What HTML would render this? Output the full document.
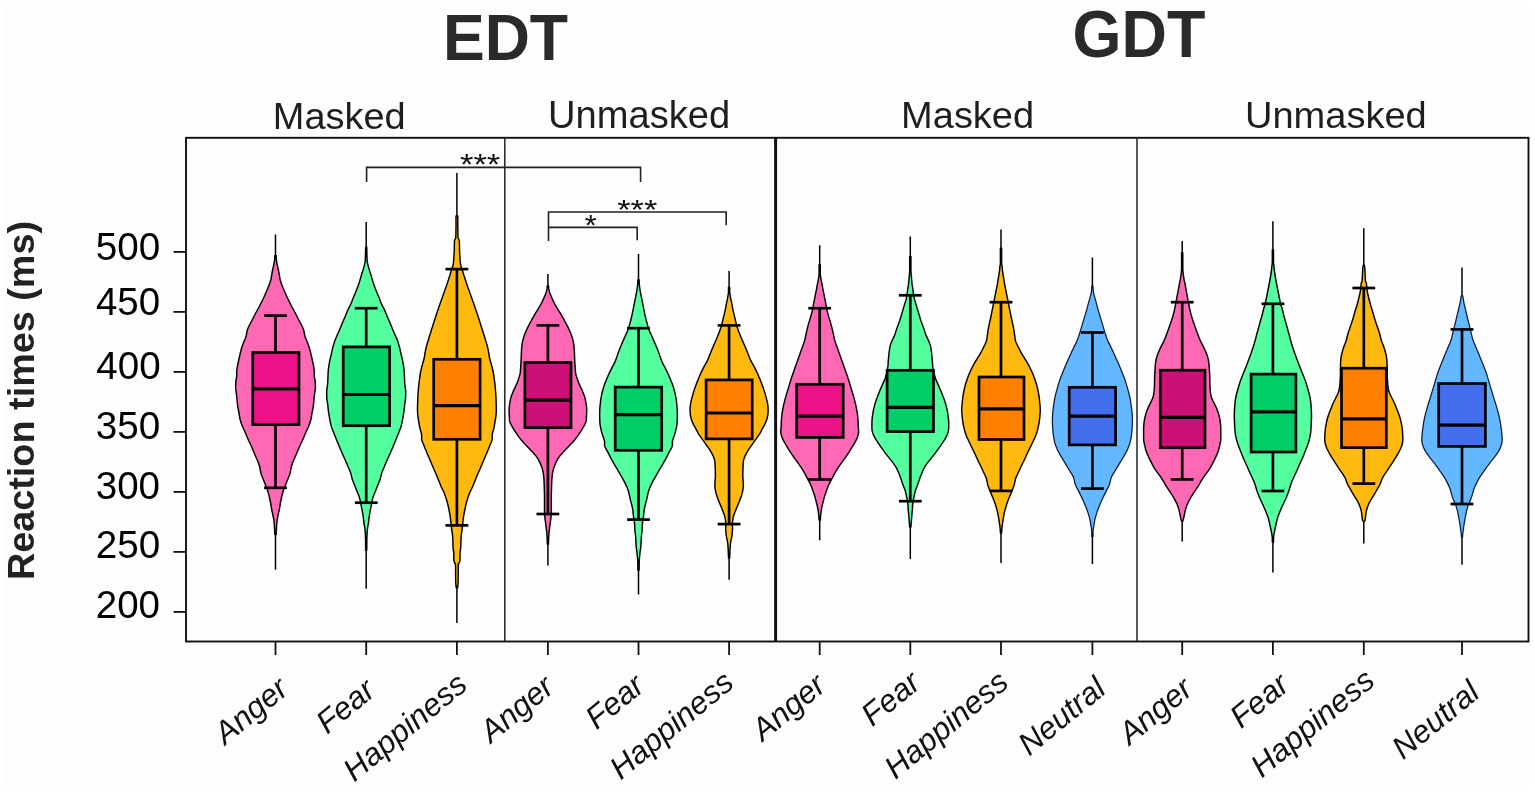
<!DOCTYPE html>
<html><head><meta charset="utf-8"><title>Reaction times violin plot</title>
<style>html,body{margin:0;padding:0;background:#ffffff;}svg{display:block;}</style>
</head><body>
<svg width="1535" height="792" viewBox="0 0 1535 792">
<rect width="1535" height="792" fill="#ffffff"/>
<rect x="5" y="5" width="1525" height="782" fill="#fdfdfd"/>
<text transform="translate(442.89,59.9) scale(1.0017,1.0465)" font-family="Liberation Sans, Arial, sans-serif" font-weight="bold" font-size="62.5" fill="#2a2a2a">EDT</text>
<text transform="translate(1072.58,56.8) scale(1.0063,1.0651)" font-family="Liberation Sans, Arial, sans-serif" font-weight="bold" font-size="62.5" fill="#2a2a2a">GDT</text>
<text transform="translate(272.82,128.5) scale(1.0258,1.0074)" font-family="Liberation Sans, Arial, sans-serif" font-weight="normal" font-size="37" fill="#1e1e1e">Masked</text>
<text transform="translate(548.01,128.2) scale(1.0298,1.0407)" font-family="Liberation Sans, Arial, sans-serif" font-weight="normal" font-size="37" fill="#1e1e1e">Unmasked</text>
<text transform="translate(901.12,127.7) scale(1.0266,1.0074)" font-family="Liberation Sans, Arial, sans-serif" font-weight="normal" font-size="37" fill="#1e1e1e">Masked</text>
<text transform="translate(1244.92,127.9) scale(1.0281,1.0185)" font-family="Liberation Sans, Arial, sans-serif" font-weight="normal" font-size="37" fill="#1e1e1e">Unmasked</text>
<text transform="translate(95.71,260.1) scale(1.0448,1.05)" font-family="Liberation Sans, Arial, sans-serif" font-weight="normal" font-size="37" fill="#000">500</text>
<text transform="translate(95.96,314.5) scale(1.0407,1.0577)" font-family="Liberation Sans, Arial, sans-serif" font-weight="normal" font-size="37" fill="#000">450</text>
<text transform="translate(96.26,379.4) scale(1.0424,1.0462)" font-family="Liberation Sans, Arial, sans-serif" font-weight="normal" font-size="37" fill="#000">400</text>
<text transform="translate(95.71,438.5) scale(1.0448,1.0462)" font-family="Liberation Sans, Arial, sans-serif" font-weight="normal" font-size="37" fill="#000">350</text>
<text transform="translate(95.72,498.8) scale(1.0414,1.0462)" font-family="Liberation Sans, Arial, sans-serif" font-weight="normal" font-size="37" fill="#000">300</text>
<text transform="translate(95.71,557.9) scale(1.0448,1.0462)" font-family="Liberation Sans, Arial, sans-serif" font-weight="normal" font-size="37" fill="#000">250</text>
<text transform="translate(95.72,618.4) scale(1.0414,1.0346)" font-family="Liberation Sans, Arial, sans-serif" font-weight="normal" font-size="37" fill="#000">200</text>
<text transform="translate(460.0,173.7) scale(1.0,0.8417)" font-family="Liberation Sans, Arial, sans-serif" font-weight="normal" font-size="34.5" fill="#111">***</text>
<text transform="translate(617.21,219.2) scale(0.9947,0.8083)" font-family="Liberation Sans, Arial, sans-serif" font-weight="normal" font-size="34.5" fill="#111">***</text>
<text transform="translate(584.71,235.4) scale(0.8917,0.8333)" font-family="Liberation Sans, Arial, sans-serif" font-weight="normal" font-size="34.5" fill="#111">*</text>
<text transform="translate(34.2,400.5) rotate(-90)" font-family="Liberation Sans, Arial, sans-serif" font-weight="bold" font-size="37.8" fill="#222" text-anchor="middle">Reaction times (ms)</text>
<line x1="173.5" y1="251.9" x2="186" y2="251.9" stroke="#111" stroke-width="1.8"/>
<line x1="173.5" y1="311.9" x2="186" y2="311.9" stroke="#111" stroke-width="1.8"/>
<line x1="173.5" y1="371.9" x2="186" y2="371.9" stroke="#111" stroke-width="1.8"/>
<line x1="173.5" y1="431.9" x2="186" y2="431.9" stroke="#111" stroke-width="1.8"/>
<line x1="173.5" y1="491.9" x2="186" y2="491.9" stroke="#111" stroke-width="1.8"/>
<line x1="173.5" y1="551.9" x2="186" y2="551.9" stroke="#111" stroke-width="1.8"/>
<line x1="173.5" y1="611.9" x2="186" y2="611.9" stroke="#111" stroke-width="1.8"/>
<line x1="275.5" y1="641.5" x2="275.5" y2="655" stroke="#111" stroke-width="1.8"/>
<line x1="366.2" y1="641.5" x2="366.2" y2="655" stroke="#111" stroke-width="1.8"/>
<line x1="456.9" y1="641.5" x2="456.9" y2="655" stroke="#111" stroke-width="1.8"/>
<line x1="547.9" y1="641.5" x2="547.9" y2="655" stroke="#111" stroke-width="1.8"/>
<line x1="638.5" y1="641.5" x2="638.5" y2="655" stroke="#111" stroke-width="1.8"/>
<line x1="729.1" y1="641.5" x2="729.1" y2="655" stroke="#111" stroke-width="1.8"/>
<line x1="819.7" y1="641.5" x2="819.7" y2="655" stroke="#111" stroke-width="1.8"/>
<line x1="910.3" y1="641.5" x2="910.3" y2="655" stroke="#111" stroke-width="1.8"/>
<line x1="1001" y1="641.5" x2="1001" y2="655" stroke="#111" stroke-width="1.8"/>
<line x1="1092.4" y1="641.5" x2="1092.4" y2="655" stroke="#111" stroke-width="1.8"/>
<line x1="1182.2" y1="641.5" x2="1182.2" y2="655" stroke="#111" stroke-width="1.8"/>
<line x1="1272.9" y1="641.5" x2="1272.9" y2="655" stroke="#111" stroke-width="1.8"/>
<line x1="1363.8" y1="641.5" x2="1363.8" y2="655" stroke="#111" stroke-width="1.8"/>
<line x1="1462" y1="641.5" x2="1462" y2="655" stroke="#111" stroke-width="1.8"/>
<line x1="275.5" y1="234.5" x2="275.5" y2="569.8" stroke="#000" stroke-width="1.5"/>
<path d="M276.2,255.5 L276.2,256.5 L276.2,257.5 L276.3,258.5 L276.4,259.5 L276.4,260.5 L276.6,261.5 L276.8,262.5 L277.0,263.5 L277.2,264.5 L277.4,265.5 L277.6,266.5 L277.8,267.5 L278.1,268.5 L278.3,269.5 L278.5,270.5 L278.7,271.5 L278.9,272.5 L279.0,273.5 L279.2,274.5 L279.4,275.5 L279.5,276.5 L279.7,277.5 L279.9,278.5 L280.1,279.5 L280.4,280.5 L280.7,281.5 L281.0,282.5 L281.3,283.5 L281.7,284.5 L282.1,285.5 L282.5,286.5 L282.9,287.5 L283.3,288.5 L283.7,289.5 L284.2,290.5 L284.6,291.5 L285.1,292.5 L285.5,293.5 L285.9,294.5 L286.4,295.5 L286.8,296.5 L287.3,297.5 L287.7,298.5 L288.2,299.5 L288.7,300.5 L289.2,301.5 L289.7,302.5 L290.2,303.5 L290.7,304.5 L291.2,305.5 L291.7,306.5 L292.3,307.5 L292.8,308.5 L293.4,309.5 L293.9,310.5 L294.4,311.5 L295.0,312.5 L295.5,313.5 L296.0,314.5 L296.6,315.5 L297.1,316.5 L297.6,317.5 L298.1,318.5 L298.6,319.5 L299.1,320.5 L299.6,321.5 L300.2,322.5 L300.7,323.5 L301.2,324.5 L301.7,325.5 L302.2,326.5 L302.7,327.5 L303.1,328.5 L303.5,329.5 L303.8,330.5 L304.0,331.5 L304.2,332.5 L304.4,333.5 L304.6,334.5 L304.8,335.5 L305.1,336.5 L305.4,337.5 L305.8,338.5 L306.2,339.5 L306.6,340.5 L307.0,341.5 L307.4,342.5 L307.8,343.5 L308.2,344.5 L308.5,345.5 L308.9,346.5 L309.2,347.5 L309.5,348.5 L309.8,349.5 L310.1,350.5 L310.3,351.5 L310.6,352.5 L310.8,353.5 L311.0,354.5 L311.3,355.5 L311.5,356.5 L311.7,357.5 L312.0,358.5 L312.2,359.5 L312.4,360.5 L312.6,361.5 L312.8,362.5 L313.1,363.5 L313.3,364.5 L313.4,365.5 L313.6,366.5 L313.8,367.5 L314.0,368.5 L314.1,369.5 L314.2,370.5 L314.3,371.5 L314.3,372.5 L314.3,373.5 L314.2,374.5 L314.3,375.5 L314.3,376.5 L314.5,377.5 L314.7,378.5 L314.9,379.5 L315.0,380.5 L315.2,381.5 L315.2,382.5 L315.3,383.5 L315.3,384.5 L315.4,385.5 L315.4,386.5 L315.4,387.5 L315.3,388.5 L315.2,389.5 L315.1,390.5 L315.0,391.5 L314.8,392.5 L314.7,393.5 L314.5,394.5 L314.4,395.5 L314.3,396.5 L314.2,397.5 L314.1,398.5 L314.0,399.5 L313.9,400.5 L313.8,401.5 L313.7,402.5 L313.6,403.5 L313.5,404.5 L313.4,405.5 L313.3,406.5 L313.1,407.5 L312.9,408.5 L312.7,409.5 L312.5,410.5 L312.3,411.5 L312.1,412.5 L311.9,413.5 L311.8,414.5 L311.6,415.5 L311.5,416.5 L311.3,417.5 L311.1,418.5 L310.9,419.5 L310.6,420.5 L310.3,421.5 L310.0,422.5 L309.7,423.5 L309.3,424.5 L308.9,425.5 L308.5,426.5 L308.1,427.5 L307.6,428.5 L307.2,429.5 L306.7,430.5 L306.2,431.5 L305.8,432.5 L305.3,433.5 L304.9,434.5 L304.5,435.5 L304.1,436.5 L303.7,437.5 L303.3,438.5 L302.8,439.5 L302.4,440.5 L301.9,441.5 L301.4,442.5 L300.9,443.5 L300.5,444.5 L300.0,445.5 L299.6,446.5 L299.1,447.5 L298.7,448.5 L298.3,449.5 L297.9,450.5 L297.4,451.5 L297.0,452.5 L296.6,453.5 L296.2,454.5 L295.7,455.5 L295.3,456.5 L294.9,457.5 L294.4,458.5 L294.0,459.5 L293.5,460.5 L293.1,461.5 L292.7,462.5 L292.3,463.5 L292.0,464.5 L291.7,465.5 L291.4,466.5 L291.2,467.5 L291.0,468.5 L290.8,469.5 L290.6,470.5 L290.4,471.5 L290.2,472.5 L290.0,473.5 L289.7,474.5 L289.3,475.5 L288.9,476.5 L288.5,477.5 L288.1,478.5 L287.7,479.5 L287.3,480.5 L286.9,481.5 L286.5,482.5 L286.1,483.5 L285.7,484.5 L285.3,485.5 L284.9,486.5 L284.5,487.5 L284.1,488.5 L283.8,489.5 L283.4,490.5 L283.1,491.5 L282.8,492.5 L282.5,493.5 L282.2,494.5 L282.0,495.5 L281.7,496.5 L281.5,497.5 L281.3,498.5 L281.1,499.5 L280.9,500.5 L280.7,501.5 L280.5,502.5 L280.3,503.5 L280.2,504.5 L280.0,505.5 L279.8,506.5 L279.6,507.5 L279.5,508.5 L279.3,509.5 L279.1,510.5 L278.9,511.5 L278.6,512.5 L278.4,513.5 L278.2,514.5 L278.0,515.5 L277.8,516.5 L277.6,517.5 L277.4,518.5 L277.2,519.5 L277.1,520.5 L277.0,521.5 L276.9,522.5 L276.8,523.5 L276.7,524.5 L276.6,525.5 L276.6,526.5 L276.5,527.5 L276.5,528.5 L276.4,529.5 L276.4,530.5 L276.3,531.5 L276.3,532.5 L276.2,533.5 L276.2,534.5 L274.8,534.5 L274.8,533.5 L274.7,532.5 L274.7,531.5 L274.6,530.5 L274.6,529.5 L274.5,528.5 L274.5,527.5 L274.4,526.5 L274.4,525.5 L274.3,524.5 L274.2,523.5 L274.1,522.5 L274.0,521.5 L273.9,520.5 L273.8,519.5 L273.6,518.5 L273.4,517.5 L273.2,516.5 L273.0,515.5 L272.8,514.5 L272.6,513.5 L272.4,512.5 L272.1,511.5 L271.9,510.5 L271.7,509.5 L271.5,508.5 L271.4,507.5 L271.2,506.5 L271.0,505.5 L270.8,504.5 L270.7,503.5 L270.5,502.5 L270.3,501.5 L270.1,500.5 L269.9,499.5 L269.7,498.5 L269.5,497.5 L269.3,496.5 L269.0,495.5 L268.8,494.5 L268.5,493.5 L268.2,492.5 L267.9,491.5 L267.6,490.5 L267.2,489.5 L266.9,488.5 L266.5,487.5 L266.1,486.5 L265.7,485.5 L265.3,484.5 L264.9,483.5 L264.5,482.5 L264.1,481.5 L263.7,480.5 L263.3,479.5 L262.9,478.5 L262.5,477.5 L262.1,476.5 L261.7,475.5 L261.3,474.5 L261.0,473.5 L260.8,472.5 L260.6,471.5 L260.4,470.5 L260.2,469.5 L260.0,468.5 L259.8,467.5 L259.6,466.5 L259.3,465.5 L259.0,464.5 L258.7,463.5 L258.3,462.5 L257.9,461.5 L257.5,460.5 L257.0,459.5 L256.6,458.5 L256.1,457.5 L255.7,456.5 L255.3,455.5 L254.8,454.5 L254.4,453.5 L254.0,452.5 L253.6,451.5 L253.1,450.5 L252.7,449.5 L252.3,448.5 L251.9,447.5 L251.4,446.5 L251.0,445.5 L250.5,444.5 L250.1,443.5 L249.6,442.5 L249.1,441.5 L248.6,440.5 L248.2,439.5 L247.7,438.5 L247.3,437.5 L246.9,436.5 L246.5,435.5 L246.1,434.5 L245.7,433.5 L245.2,432.5 L244.8,431.5 L244.3,430.5 L243.8,429.5 L243.4,428.5 L242.9,427.5 L242.5,426.5 L242.1,425.5 L241.7,424.5 L241.3,423.5 L241.0,422.5 L240.7,421.5 L240.4,420.5 L240.1,419.5 L239.9,418.5 L239.7,417.5 L239.5,416.5 L239.4,415.5 L239.2,414.5 L239.1,413.5 L238.9,412.5 L238.7,411.5 L238.5,410.5 L238.3,409.5 L238.1,408.5 L237.9,407.5 L237.7,406.5 L237.6,405.5 L237.5,404.5 L237.4,403.5 L237.3,402.5 L237.2,401.5 L237.1,400.5 L237.0,399.5 L236.9,398.5 L236.8,397.5 L236.7,396.5 L236.6,395.5 L236.5,394.5 L236.3,393.5 L236.2,392.5 L236.0,391.5 L235.9,390.5 L235.8,389.5 L235.7,388.5 L235.6,387.5 L235.6,386.5 L235.6,385.5 L235.7,384.5 L235.7,383.5 L235.8,382.5 L235.8,381.5 L236.0,380.5 L236.1,379.5 L236.3,378.5 L236.5,377.5 L236.7,376.5 L236.7,375.5 L236.8,374.5 L236.7,373.5 L236.7,372.5 L236.7,371.5 L236.8,370.5 L236.9,369.5 L237.0,368.5 L237.2,367.5 L237.4,366.5 L237.6,365.5 L237.7,364.5 L237.9,363.5 L238.2,362.5 L238.4,361.5 L238.6,360.5 L238.8,359.5 L239.0,358.5 L239.3,357.5 L239.5,356.5 L239.7,355.5 L240.0,354.5 L240.2,353.5 L240.4,352.5 L240.7,351.5 L240.9,350.5 L241.2,349.5 L241.5,348.5 L241.8,347.5 L242.1,346.5 L242.5,345.5 L242.8,344.5 L243.2,343.5 L243.6,342.5 L244.0,341.5 L244.4,340.5 L244.8,339.5 L245.2,338.5 L245.6,337.5 L245.9,336.5 L246.2,335.5 L246.4,334.5 L246.6,333.5 L246.8,332.5 L247.0,331.5 L247.2,330.5 L247.5,329.5 L247.9,328.5 L248.3,327.5 L248.8,326.5 L249.3,325.5 L249.8,324.5 L250.3,323.5 L250.8,322.5 L251.4,321.5 L251.9,320.5 L252.4,319.5 L252.9,318.5 L253.4,317.5 L253.9,316.5 L254.4,315.5 L255.0,314.5 L255.5,313.5 L256.0,312.5 L256.6,311.5 L257.1,310.5 L257.6,309.5 L258.2,308.5 L258.7,307.5 L259.3,306.5 L259.8,305.5 L260.3,304.5 L260.8,303.5 L261.3,302.5 L261.8,301.5 L262.3,300.5 L262.8,299.5 L263.3,298.5 L263.7,297.5 L264.2,296.5 L264.6,295.5 L265.1,294.5 L265.5,293.5 L265.9,292.5 L266.4,291.5 L266.8,290.5 L267.3,289.5 L267.7,288.5 L268.1,287.5 L268.5,286.5 L268.9,285.5 L269.3,284.5 L269.7,283.5 L270.0,282.5 L270.3,281.5 L270.6,280.5 L270.9,279.5 L271.1,278.5 L271.3,277.5 L271.5,276.5 L271.6,275.5 L271.8,274.5 L272.0,273.5 L272.1,272.5 L272.3,271.5 L272.5,270.5 L272.7,269.5 L272.9,268.5 L273.2,267.5 L273.4,266.5 L273.6,265.5 L273.8,264.5 L274.0,263.5 L274.2,262.5 L274.4,261.5 L274.6,260.5 L274.6,259.5 L274.7,258.5 L274.8,257.5 L274.8,256.5 L274.8,255.5Z" fill="#ff69b4" stroke="#000" stroke-width="1.45" stroke-linejoin="round"/>
<line x1="275.5" y1="315.6" x2="275.5" y2="352.5" stroke="#000" stroke-width="2.7"/>
<line x1="275.5" y1="424.6" x2="275.5" y2="487.8" stroke="#000" stroke-width="2.7"/>
<line x1="264.1" y1="315.6" x2="286.9" y2="315.6" stroke="#000" stroke-width="2.7"/>
<line x1="264.1" y1="487.8" x2="286.9" y2="487.8" stroke="#000" stroke-width="2.7"/>
<rect x="252.8" y="352.5" width="46.2" height="72.1" fill="#ee1289" stroke="#000" stroke-width="2.7"/>
<line x1="252.8" y1="388.8" x2="299.0" y2="388.8" stroke="#000" stroke-width="3.2"/>
<line x1="366.2" y1="221.9" x2="366.2" y2="588.8" stroke="#000" stroke-width="1.5"/>
<path d="M366.8,247.1 L366.8,248.1 L366.8,249.1 L366.8,250.1 L366.8,251.1 L366.8,252.1 L366.9,253.1 L366.9,254.1 L366.9,255.1 L366.9,256.1 L367.0,257.1 L367.0,258.1 L367.1,259.1 L367.1,260.1 L367.2,261.1 L367.3,262.1 L367.5,263.1 L367.8,264.1 L368.0,265.1 L368.3,266.1 L368.5,267.1 L368.8,268.1 L369.1,269.1 L369.4,270.1 L369.7,271.1 L370.0,272.1 L370.3,273.1 L370.7,274.1 L371.0,275.1 L371.3,276.1 L371.6,277.1 L371.9,278.1 L372.2,279.1 L372.4,280.1 L372.7,281.1 L373.0,282.1 L373.3,283.1 L373.6,284.1 L374.0,285.1 L374.3,286.1 L374.7,287.1 L375.1,288.1 L375.5,289.1 L375.9,290.1 L376.3,291.1 L376.7,292.1 L377.1,293.1 L377.5,294.1 L377.9,295.1 L378.4,296.1 L378.8,297.1 L379.2,298.1 L379.6,299.1 L380.0,300.1 L380.3,301.1 L380.7,302.1 L381.2,303.1 L381.6,304.1 L382.1,305.1 L382.6,306.1 L383.1,307.1 L383.6,308.1 L384.1,309.1 L384.6,310.1 L385.0,311.1 L385.4,312.1 L385.8,313.1 L386.2,314.1 L386.6,315.1 L387.0,316.1 L387.5,317.1 L387.9,318.1 L388.3,319.1 L388.8,320.1 L389.2,321.1 L389.7,322.1 L390.1,323.1 L390.5,324.1 L390.9,325.1 L391.3,326.1 L391.7,327.1 L392.1,328.1 L392.5,329.1 L392.9,330.1 L393.4,331.1 L393.8,332.1 L394.3,333.1 L394.7,334.1 L395.2,335.1 L395.6,336.1 L396.0,337.1 L396.5,338.1 L396.9,339.1 L397.3,340.1 L397.6,341.1 L398.0,342.1 L398.3,343.1 L398.6,344.1 L398.9,345.1 L399.2,346.1 L399.5,347.1 L399.7,348.1 L400.0,349.1 L400.2,350.1 L400.4,351.1 L400.6,352.1 L400.9,353.1 L401.1,354.1 L401.3,355.1 L401.6,356.1 L401.8,357.1 L402.1,358.1 L402.3,359.1 L402.5,360.1 L402.7,361.1 L402.9,362.1 L403.1,363.1 L403.2,364.1 L403.4,365.1 L403.6,366.1 L403.7,367.1 L403.8,368.1 L404.0,369.1 L404.1,370.1 L404.2,371.1 L404.2,372.1 L404.3,373.1 L404.4,374.1 L404.4,375.1 L404.4,376.1 L404.5,377.1 L404.5,378.1 L404.5,379.1 L404.6,380.1 L404.6,381.1 L404.7,382.1 L404.7,383.1 L404.8,384.1 L404.9,385.1 L405.1,386.1 L405.2,387.1 L405.4,388.1 L405.5,389.1 L405.6,390.1 L405.7,391.1 L405.7,392.1 L405.7,393.1 L405.7,394.1 L405.7,395.1 L405.7,396.1 L405.6,397.1 L405.6,398.1 L405.5,399.1 L405.3,400.1 L405.2,401.1 L405.0,402.1 L404.9,403.1 L404.7,404.1 L404.6,405.1 L404.5,406.1 L404.4,407.1 L404.3,408.1 L404.2,409.1 L404.1,410.1 L404.0,411.1 L403.8,412.1 L403.7,413.1 L403.5,414.1 L403.3,415.1 L403.2,416.1 L403.0,417.1 L402.8,418.1 L402.7,419.1 L402.5,420.1 L402.3,421.1 L402.1,422.1 L401.9,423.1 L401.7,424.1 L401.4,425.1 L401.2,426.1 L400.9,427.1 L400.6,428.1 L400.2,429.1 L399.8,430.1 L399.4,431.1 L399.0,432.1 L398.6,433.1 L398.2,434.1 L397.8,435.1 L397.4,436.1 L397.0,437.1 L396.6,438.1 L396.2,439.1 L395.8,440.1 L395.4,441.1 L394.9,442.1 L394.5,443.1 L394.1,444.1 L393.7,445.1 L393.3,446.1 L392.9,447.1 L392.4,448.1 L392.0,449.1 L391.6,450.1 L391.1,451.1 L390.7,452.1 L390.3,453.1 L389.8,454.1 L389.4,455.1 L388.9,456.1 L388.5,457.1 L388.0,458.1 L387.6,459.1 L387.1,460.1 L386.7,461.1 L386.3,462.1 L385.8,463.1 L385.4,464.1 L385.0,465.1 L384.6,466.1 L384.2,467.1 L383.7,468.1 L383.3,469.1 L382.9,470.1 L382.5,471.1 L382.1,472.1 L381.7,473.1 L381.4,474.1 L381.1,475.1 L380.9,476.1 L380.7,477.1 L380.4,478.1 L380.2,479.1 L379.9,480.1 L379.5,481.1 L379.1,482.1 L378.7,483.1 L378.3,484.1 L377.9,485.1 L377.5,486.1 L377.1,487.1 L376.7,488.1 L376.3,489.1 L375.9,490.1 L375.5,491.1 L375.1,492.1 L374.7,493.1 L374.2,494.1 L373.8,495.1 L373.5,496.1 L373.1,497.1 L372.8,498.1 L372.5,499.1 L372.3,500.1 L372.1,501.1 L371.9,502.1 L371.7,503.1 L371.5,504.1 L371.3,505.1 L371.1,506.1 L370.9,507.1 L370.7,508.1 L370.5,509.1 L370.3,510.1 L370.1,511.1 L369.9,512.1 L369.8,513.1 L369.6,514.1 L369.4,515.1 L369.3,516.1 L369.2,517.1 L369.0,518.1 L368.9,519.1 L368.8,520.1 L368.7,521.1 L368.6,522.1 L368.5,523.1 L368.3,524.1 L368.1,525.1 L367.9,526.1 L367.7,527.1 L367.6,528.1 L367.4,529.1 L367.3,530.1 L367.3,531.1 L367.2,532.1 L367.1,533.1 L367.1,534.1 L367.0,535.1 L367.0,536.1 L366.9,537.1 L366.9,538.1 L366.8,539.1 L366.8,540.1 L366.8,541.1 L366.8,542.1 L366.8,543.1 L366.8,544.1 L366.8,545.1 L366.8,546.1 L366.8,547.1 L366.8,548.1 L366.8,549.1 L366.8,550.1 L366.8,550.3 L365.6,550.3 L365.6,550.1 L365.6,549.1 L365.6,548.1 L365.6,547.1 L365.6,546.1 L365.6,545.1 L365.6,544.1 L365.6,543.1 L365.6,542.1 L365.6,541.1 L365.6,540.1 L365.6,539.1 L365.5,538.1 L365.5,537.1 L365.4,536.1 L365.4,535.1 L365.3,534.1 L365.3,533.1 L365.2,532.1 L365.1,531.1 L365.1,530.1 L365.0,529.1 L364.8,528.1 L364.7,527.1 L364.5,526.1 L364.3,525.1 L364.1,524.1 L363.9,523.1 L363.8,522.1 L363.7,521.1 L363.6,520.1 L363.5,519.1 L363.4,518.1 L363.2,517.1 L363.1,516.1 L363.0,515.1 L362.8,514.1 L362.6,513.1 L362.5,512.1 L362.3,511.1 L362.1,510.1 L361.9,509.1 L361.7,508.1 L361.5,507.1 L361.3,506.1 L361.1,505.1 L360.9,504.1 L360.7,503.1 L360.5,502.1 L360.3,501.1 L360.1,500.1 L359.9,499.1 L359.6,498.1 L359.3,497.1 L358.9,496.1 L358.6,495.1 L358.2,494.1 L357.7,493.1 L357.3,492.1 L356.9,491.1 L356.5,490.1 L356.1,489.1 L355.7,488.1 L355.3,487.1 L354.9,486.1 L354.5,485.1 L354.1,484.1 L353.7,483.1 L353.3,482.1 L352.9,481.1 L352.5,480.1 L352.2,479.1 L352.0,478.1 L351.7,477.1 L351.5,476.1 L351.3,475.1 L351.0,474.1 L350.7,473.1 L350.3,472.1 L349.9,471.1 L349.5,470.1 L349.1,469.1 L348.7,468.1 L348.2,467.1 L347.8,466.1 L347.4,465.1 L347.0,464.1 L346.6,463.1 L346.1,462.1 L345.7,461.1 L345.3,460.1 L344.8,459.1 L344.4,458.1 L343.9,457.1 L343.5,456.1 L343.0,455.1 L342.6,454.1 L342.1,453.1 L341.7,452.1 L341.3,451.1 L340.8,450.1 L340.4,449.1 L340.0,448.1 L339.5,447.1 L339.1,446.1 L338.7,445.1 L338.3,444.1 L337.9,443.1 L337.5,442.1 L337.0,441.1 L336.6,440.1 L336.2,439.1 L335.8,438.1 L335.4,437.1 L335.0,436.1 L334.6,435.1 L334.2,434.1 L333.8,433.1 L333.4,432.1 L333.0,431.1 L332.6,430.1 L332.2,429.1 L331.8,428.1 L331.5,427.1 L331.2,426.1 L331.0,425.1 L330.7,424.1 L330.5,423.1 L330.3,422.1 L330.1,421.1 L329.9,420.1 L329.7,419.1 L329.6,418.1 L329.4,417.1 L329.2,416.1 L329.1,415.1 L328.9,414.1 L328.7,413.1 L328.6,412.1 L328.4,411.1 L328.3,410.1 L328.2,409.1 L328.1,408.1 L328.0,407.1 L327.9,406.1 L327.8,405.1 L327.7,404.1 L327.5,403.1 L327.4,402.1 L327.2,401.1 L327.1,400.1 L326.9,399.1 L326.8,398.1 L326.8,397.1 L326.7,396.1 L326.7,395.1 L326.7,394.1 L326.7,393.1 L326.7,392.1 L326.7,391.1 L326.8,390.1 L326.9,389.1 L327.0,388.1 L327.2,387.1 L327.3,386.1 L327.5,385.1 L327.6,384.1 L327.7,383.1 L327.7,382.1 L327.8,381.1 L327.8,380.1 L327.9,379.1 L327.9,378.1 L327.9,377.1 L328.0,376.1 L328.0,375.1 L328.0,374.1 L328.1,373.1 L328.2,372.1 L328.2,371.1 L328.3,370.1 L328.4,369.1 L328.6,368.1 L328.7,367.1 L328.8,366.1 L329.0,365.1 L329.2,364.1 L329.3,363.1 L329.5,362.1 L329.7,361.1 L329.9,360.1 L330.1,359.1 L330.3,358.1 L330.6,357.1 L330.8,356.1 L331.1,355.1 L331.3,354.1 L331.5,353.1 L331.8,352.1 L332.0,351.1 L332.2,350.1 L332.4,349.1 L332.7,348.1 L332.9,347.1 L333.2,346.1 L333.5,345.1 L333.8,344.1 L334.1,343.1 L334.4,342.1 L334.8,341.1 L335.1,340.1 L335.5,339.1 L335.9,338.1 L336.4,337.1 L336.8,336.1 L337.2,335.1 L337.7,334.1 L338.1,333.1 L338.6,332.1 L339.0,331.1 L339.5,330.1 L339.9,329.1 L340.3,328.1 L340.7,327.1 L341.1,326.1 L341.5,325.1 L341.9,324.1 L342.3,323.1 L342.7,322.1 L343.2,321.1 L343.6,320.1 L344.1,319.1 L344.5,318.1 L344.9,317.1 L345.4,316.1 L345.8,315.1 L346.2,314.1 L346.6,313.1 L347.0,312.1 L347.4,311.1 L347.8,310.1 L348.3,309.1 L348.8,308.1 L349.3,307.1 L349.8,306.1 L350.3,305.1 L350.8,304.1 L351.2,303.1 L351.7,302.1 L352.1,301.1 L352.4,300.1 L352.8,299.1 L353.2,298.1 L353.6,297.1 L354.0,296.1 L354.5,295.1 L354.9,294.1 L355.3,293.1 L355.7,292.1 L356.1,291.1 L356.5,290.1 L356.9,289.1 L357.3,288.1 L357.7,287.1 L358.1,286.1 L358.4,285.1 L358.8,284.1 L359.1,283.1 L359.4,282.1 L359.7,281.1 L360.0,280.1 L360.2,279.1 L360.5,278.1 L360.8,277.1 L361.1,276.1 L361.4,275.1 L361.7,274.1 L362.1,273.1 L362.4,272.1 L362.7,271.1 L363.0,270.1 L363.3,269.1 L363.6,268.1 L363.9,267.1 L364.1,266.1 L364.4,265.1 L364.6,264.1 L364.9,263.1 L365.1,262.1 L365.2,261.1 L365.3,260.1 L365.3,259.1 L365.4,258.1 L365.4,257.1 L365.5,256.1 L365.5,255.1 L365.5,254.1 L365.5,253.1 L365.6,252.1 L365.6,251.1 L365.6,250.1 L365.6,249.1 L365.6,248.1 L365.6,247.1Z" fill="#54ff9f" stroke="#000" stroke-width="1.45" stroke-linejoin="round"/>
<line x1="366.2" y1="308.2" x2="366.2" y2="346.9" stroke="#000" stroke-width="2.7"/>
<line x1="366.2" y1="425.7" x2="366.2" y2="502.7" stroke="#000" stroke-width="2.7"/>
<line x1="354.8" y1="308.2" x2="377.59999999999997" y2="308.2" stroke="#000" stroke-width="2.7"/>
<line x1="354.8" y1="502.7" x2="377.59999999999997" y2="502.7" stroke="#000" stroke-width="2.7"/>
<rect x="343.2" y="346.9" width="46.4" height="78.8" fill="#00cd66" stroke="#000" stroke-width="2.7"/>
<line x1="343.2" y1="394.5" x2="389.6" y2="394.5" stroke="#000" stroke-width="3.2"/>
<line x1="456.9" y1="173.1" x2="456.9" y2="623.0" stroke="#000" stroke-width="1.5"/>
<path d="M457.8,216.0 L457.8,217.0 L457.8,218.0 L457.8,219.0 L457.8,220.0 L457.8,221.0 L457.8,222.0 L457.8,223.0 L457.8,224.0 L457.8,225.0 L457.8,226.0 L457.8,227.0 L457.8,228.0 L457.8,229.0 L457.9,230.0 L457.9,231.0 L457.9,232.0 L457.9,233.0 L457.9,234.0 L457.9,235.0 L458.0,236.0 L458.0,237.0 L458.0,238.0 L458.6,239.0 L459.2,240.0 L459.3,241.0 L459.3,242.0 L459.4,243.0 L459.4,244.0 L459.5,245.0 L459.5,246.0 L459.5,247.0 L459.5,248.0 L459.5,249.0 L459.5,250.0 L459.6,251.0 L459.6,252.0 L459.6,253.0 L459.7,254.0 L459.8,255.0 L459.9,256.0 L459.9,257.0 L460.0,258.0 L460.0,259.0 L460.1,260.0 L460.2,261.0 L460.3,262.0 L460.4,263.0 L460.5,264.0 L460.8,265.0 L461.0,266.0 L461.3,267.0 L461.6,268.0 L461.9,269.0 L462.3,270.0 L462.6,271.0 L462.9,272.0 L463.2,273.0 L463.5,274.0 L463.8,275.0 L464.1,276.0 L464.5,277.0 L464.8,278.0 L465.1,279.0 L465.4,280.0 L465.8,281.0 L466.1,282.0 L466.4,283.0 L466.8,284.0 L467.1,285.0 L467.4,286.0 L467.8,287.0 L468.1,288.0 L468.5,289.0 L468.9,290.0 L469.2,291.0 L469.6,292.0 L469.9,293.0 L470.3,294.0 L470.7,295.0 L471.0,296.0 L471.4,297.0 L471.7,298.0 L472.1,299.0 L472.4,300.0 L472.8,301.0 L473.1,302.0 L473.5,303.0 L473.9,304.0 L474.2,305.0 L474.6,306.0 L474.9,307.0 L475.2,308.0 L475.6,309.0 L475.9,310.0 L476.3,311.0 L476.6,312.0 L476.9,313.0 L477.3,314.0 L477.6,315.0 L477.9,316.0 L478.2,317.0 L478.6,318.0 L478.9,319.0 L479.2,320.0 L479.5,321.0 L479.8,322.0 L480.2,323.0 L480.5,324.0 L480.8,325.0 L481.1,326.0 L481.4,327.0 L481.8,328.0 L482.1,329.0 L482.4,330.0 L482.7,331.0 L483.0,332.0 L483.3,333.0 L483.6,334.0 L484.0,335.0 L484.3,336.0 L484.6,337.0 L484.9,338.0 L485.2,339.0 L485.5,340.0 L485.8,341.0 L486.1,342.0 L486.4,343.0 L486.7,344.0 L487.0,345.0 L487.3,346.0 L487.5,347.0 L487.8,348.0 L488.0,349.0 L488.2,350.0 L488.4,351.0 L488.6,352.0 L488.7,353.0 L488.9,354.0 L489.1,355.0 L489.2,356.0 L489.4,357.0 L489.6,358.0 L489.9,359.0 L490.1,360.0 L490.4,361.0 L490.7,362.0 L491.0,363.0 L491.2,364.0 L491.5,365.0 L491.8,366.0 L492.1,367.0 L492.3,368.0 L492.5,369.0 L492.8,370.0 L493.0,371.0 L493.2,372.0 L493.4,373.0 L493.5,374.0 L493.7,375.0 L493.8,376.0 L494.0,377.0 L494.1,378.0 L494.3,379.0 L494.4,380.0 L494.5,381.0 L494.6,382.0 L494.8,383.0 L494.9,384.0 L495.0,385.0 L495.1,386.0 L495.2,387.0 L495.3,388.0 L495.4,389.0 L495.5,390.0 L495.5,391.0 L495.6,392.0 L495.7,393.0 L495.8,394.0 L495.8,395.0 L495.9,396.0 L496.0,397.0 L496.0,398.0 L496.0,399.0 L496.1,400.0 L496.1,401.0 L496.1,402.0 L496.2,403.0 L496.2,404.0 L496.2,405.0 L496.2,406.0 L496.3,407.0 L496.3,408.0 L496.3,409.0 L496.3,410.0 L496.3,411.0 L496.2,412.0 L496.2,413.0 L496.1,414.0 L496.0,415.0 L495.9,416.0 L495.8,417.0 L495.6,418.0 L495.5,419.0 L495.3,420.0 L495.2,421.0 L495.0,422.0 L494.8,423.0 L494.6,424.0 L494.5,425.0 L494.3,426.0 L494.1,427.0 L493.9,428.0 L493.6,429.0 L493.4,430.0 L493.1,431.0 L492.8,432.0 L492.5,433.0 L492.3,434.0 L492.2,435.0 L492.1,436.0 L492.2,437.0 L492.2,438.0 L492.2,439.0 L492.0,440.0 L491.7,441.0 L491.3,442.0 L490.9,443.0 L490.5,444.0 L490.0,445.0 L489.6,446.0 L489.3,447.0 L488.9,448.0 L488.5,449.0 L488.0,450.0 L487.6,451.0 L487.2,452.0 L486.8,453.0 L486.4,454.0 L485.9,455.0 L485.5,456.0 L485.1,457.0 L484.6,458.0 L484.2,459.0 L483.8,460.0 L483.4,461.0 L482.9,462.0 L482.5,463.0 L482.1,464.0 L481.7,465.0 L481.2,466.0 L480.8,467.0 L480.4,468.0 L480.0,469.0 L479.5,470.0 L479.1,471.0 L478.6,472.0 L478.2,473.0 L477.7,474.0 L477.3,475.0 L476.9,476.0 L476.5,477.0 L476.1,478.0 L475.7,479.0 L475.3,480.0 L474.9,481.0 L474.5,482.0 L474.1,483.0 L473.7,484.0 L473.3,485.0 L472.9,486.0 L472.5,487.0 L472.0,488.0 L471.5,489.0 L471.0,490.0 L470.5,491.0 L470.0,492.0 L469.6,493.0 L469.2,494.0 L468.9,495.0 L468.5,496.0 L468.2,497.0 L467.9,498.0 L467.5,499.0 L467.2,500.0 L466.9,501.0 L466.6,502.0 L466.3,503.0 L466.1,504.0 L465.8,505.0 L465.6,506.0 L465.4,507.0 L465.2,508.0 L465.0,509.0 L464.8,510.0 L464.6,511.0 L464.4,512.0 L464.2,513.0 L464.0,514.0 L463.8,515.0 L463.6,516.0 L463.5,517.0 L463.4,518.0 L463.2,519.0 L463.1,520.0 L463.0,521.0 L462.9,522.0 L462.8,523.0 L462.7,524.0 L462.6,525.0 L462.5,526.0 L462.4,527.0 L462.3,528.0 L462.1,529.0 L462.0,530.0 L461.9,531.0 L461.7,532.0 L461.6,533.0 L461.4,534.0 L461.3,535.0 L461.2,536.0 L461.1,537.0 L461.1,538.0 L461.0,539.0 L461.0,540.0 L460.9,541.0 L460.9,542.0 L460.9,543.0 L460.9,544.0 L460.9,545.0 L460.8,546.0 L460.8,547.0 L460.7,548.0 L460.6,549.0 L460.4,550.0 L460.3,551.0 L460.1,552.0 L460.1,553.0 L460.0,554.0 L460.0,555.0 L460.0,556.0 L460.0,557.0 L460.0,558.0 L460.0,559.0 L459.9,560.0 L459.8,561.0 L459.5,562.0 L459.1,563.0 L458.3,564.0 L458.3,565.0 L458.3,566.0 L458.2,567.0 L458.2,568.0 L458.2,569.0 L458.2,570.0 L458.2,571.0 L458.2,572.0 L458.2,573.0 L458.2,574.0 L458.2,575.0 L458.2,576.0 L458.2,577.0 L458.2,578.0 L458.2,579.0 L458.1,580.0 L458.1,581.0 L458.1,582.0 L458.1,583.0 L458.0,584.0 L457.9,585.0 L457.8,586.0 L457.6,587.0 L457.5,588.0 L456.3,588.0 L456.2,587.0 L456.0,586.0 L455.9,585.0 L455.8,584.0 L455.7,583.0 L455.7,582.0 L455.7,581.0 L455.7,580.0 L455.6,579.0 L455.6,578.0 L455.6,577.0 L455.6,576.0 L455.6,575.0 L455.6,574.0 L455.6,573.0 L455.6,572.0 L455.6,571.0 L455.6,570.0 L455.6,569.0 L455.6,568.0 L455.6,567.0 L455.5,566.0 L455.5,565.0 L455.5,564.0 L454.7,563.0 L454.3,562.0 L454.0,561.0 L453.9,560.0 L453.8,559.0 L453.8,558.0 L453.8,557.0 L453.8,556.0 L453.8,555.0 L453.8,554.0 L453.7,553.0 L453.7,552.0 L453.5,551.0 L453.4,550.0 L453.2,549.0 L453.1,548.0 L453.0,547.0 L453.0,546.0 L452.9,545.0 L452.9,544.0 L452.9,543.0 L452.9,542.0 L452.9,541.0 L452.8,540.0 L452.8,539.0 L452.7,538.0 L452.7,537.0 L452.6,536.0 L452.5,535.0 L452.4,534.0 L452.2,533.0 L452.1,532.0 L451.9,531.0 L451.8,530.0 L451.7,529.0 L451.5,528.0 L451.4,527.0 L451.3,526.0 L451.2,525.0 L451.1,524.0 L451.0,523.0 L450.9,522.0 L450.8,521.0 L450.7,520.0 L450.6,519.0 L450.4,518.0 L450.3,517.0 L450.2,516.0 L450.0,515.0 L449.8,514.0 L449.6,513.0 L449.4,512.0 L449.2,511.0 L449.0,510.0 L448.8,509.0 L448.6,508.0 L448.4,507.0 L448.2,506.0 L448.0,505.0 L447.7,504.0 L447.5,503.0 L447.2,502.0 L446.9,501.0 L446.6,500.0 L446.3,499.0 L445.9,498.0 L445.6,497.0 L445.3,496.0 L444.9,495.0 L444.6,494.0 L444.2,493.0 L443.8,492.0 L443.3,491.0 L442.8,490.0 L442.3,489.0 L441.8,488.0 L441.3,487.0 L440.9,486.0 L440.5,485.0 L440.1,484.0 L439.7,483.0 L439.3,482.0 L438.9,481.0 L438.5,480.0 L438.1,479.0 L437.7,478.0 L437.3,477.0 L436.9,476.0 L436.5,475.0 L436.1,474.0 L435.6,473.0 L435.2,472.0 L434.7,471.0 L434.3,470.0 L433.8,469.0 L433.4,468.0 L433.0,467.0 L432.6,466.0 L432.1,465.0 L431.7,464.0 L431.3,463.0 L430.9,462.0 L430.4,461.0 L430.0,460.0 L429.6,459.0 L429.2,458.0 L428.7,457.0 L428.3,456.0 L427.9,455.0 L427.4,454.0 L427.0,453.0 L426.6,452.0 L426.2,451.0 L425.8,450.0 L425.3,449.0 L424.9,448.0 L424.5,447.0 L424.2,446.0 L423.8,445.0 L423.3,444.0 L422.9,443.0 L422.5,442.0 L422.1,441.0 L421.8,440.0 L421.6,439.0 L421.6,438.0 L421.6,437.0 L421.7,436.0 L421.6,435.0 L421.5,434.0 L421.3,433.0 L421.0,432.0 L420.7,431.0 L420.4,430.0 L420.2,429.0 L419.9,428.0 L419.7,427.0 L419.5,426.0 L419.3,425.0 L419.2,424.0 L419.0,423.0 L418.8,422.0 L418.6,421.0 L418.5,420.0 L418.3,419.0 L418.2,418.0 L418.0,417.0 L417.9,416.0 L417.8,415.0 L417.7,414.0 L417.6,413.0 L417.6,412.0 L417.5,411.0 L417.5,410.0 L417.5,409.0 L417.5,408.0 L417.5,407.0 L417.6,406.0 L417.6,405.0 L417.6,404.0 L417.6,403.0 L417.7,402.0 L417.7,401.0 L417.7,400.0 L417.8,399.0 L417.8,398.0 L417.8,397.0 L417.9,396.0 L418.0,395.0 L418.0,394.0 L418.1,393.0 L418.2,392.0 L418.3,391.0 L418.3,390.0 L418.4,389.0 L418.5,388.0 L418.6,387.0 L418.7,386.0 L418.8,385.0 L418.9,384.0 L419.0,383.0 L419.2,382.0 L419.3,381.0 L419.4,380.0 L419.5,379.0 L419.7,378.0 L419.8,377.0 L420.0,376.0 L420.1,375.0 L420.3,374.0 L420.4,373.0 L420.6,372.0 L420.8,371.0 L421.0,370.0 L421.3,369.0 L421.5,368.0 L421.7,367.0 L422.0,366.0 L422.3,365.0 L422.6,364.0 L422.8,363.0 L423.1,362.0 L423.4,361.0 L423.7,360.0 L423.9,359.0 L424.2,358.0 L424.4,357.0 L424.6,356.0 L424.7,355.0 L424.9,354.0 L425.1,353.0 L425.2,352.0 L425.4,351.0 L425.6,350.0 L425.8,349.0 L426.0,348.0 L426.3,347.0 L426.5,346.0 L426.8,345.0 L427.1,344.0 L427.4,343.0 L427.7,342.0 L428.0,341.0 L428.3,340.0 L428.6,339.0 L428.9,338.0 L429.2,337.0 L429.5,336.0 L429.8,335.0 L430.2,334.0 L430.5,333.0 L430.8,332.0 L431.1,331.0 L431.4,330.0 L431.7,329.0 L432.0,328.0 L432.4,327.0 L432.7,326.0 L433.0,325.0 L433.3,324.0 L433.6,323.0 L434.0,322.0 L434.3,321.0 L434.6,320.0 L434.9,319.0 L435.2,318.0 L435.6,317.0 L435.9,316.0 L436.2,315.0 L436.5,314.0 L436.9,313.0 L437.2,312.0 L437.5,311.0 L437.9,310.0 L438.2,309.0 L438.6,308.0 L438.9,307.0 L439.2,306.0 L439.6,305.0 L439.9,304.0 L440.3,303.0 L440.7,302.0 L441.0,301.0 L441.4,300.0 L441.7,299.0 L442.1,298.0 L442.4,297.0 L442.8,296.0 L443.1,295.0 L443.5,294.0 L443.9,293.0 L444.2,292.0 L444.6,291.0 L444.9,290.0 L445.3,289.0 L445.7,288.0 L446.0,287.0 L446.4,286.0 L446.7,285.0 L447.0,284.0 L447.4,283.0 L447.7,282.0 L448.0,281.0 L448.4,280.0 L448.7,279.0 L449.0,278.0 L449.3,277.0 L449.7,276.0 L450.0,275.0 L450.3,274.0 L450.6,273.0 L450.9,272.0 L451.2,271.0 L451.5,270.0 L451.9,269.0 L452.2,268.0 L452.5,267.0 L452.8,266.0 L453.0,265.0 L453.3,264.0 L453.4,263.0 L453.5,262.0 L453.6,261.0 L453.7,260.0 L453.8,259.0 L453.8,258.0 L453.9,257.0 L453.9,256.0 L454.0,255.0 L454.1,254.0 L454.2,253.0 L454.2,252.0 L454.2,251.0 L454.3,250.0 L454.3,249.0 L454.3,248.0 L454.3,247.0 L454.3,246.0 L454.3,245.0 L454.4,244.0 L454.4,243.0 L454.5,242.0 L454.5,241.0 L454.6,240.0 L455.2,239.0 L455.8,238.0 L455.8,237.0 L455.8,236.0 L455.9,235.0 L455.9,234.0 L455.9,233.0 L455.9,232.0 L455.9,231.0 L455.9,230.0 L456.0,229.0 L456.0,228.0 L456.0,227.0 L456.0,226.0 L456.0,225.0 L456.0,224.0 L456.0,223.0 L456.0,222.0 L456.0,221.0 L456.0,220.0 L456.0,219.0 L456.0,218.0 L456.0,217.0 L456.0,216.0Z" fill="#ffb90f" stroke="#000" stroke-width="1.45" stroke-linejoin="round"/>
<line x1="456.9" y1="269.1" x2="456.9" y2="359.3" stroke="#000" stroke-width="2.7"/>
<line x1="456.9" y1="439.3" x2="456.9" y2="525.4" stroke="#000" stroke-width="2.7"/>
<line x1="445.5" y1="269.1" x2="468.29999999999995" y2="269.1" stroke="#000" stroke-width="2.7"/>
<line x1="445.5" y1="525.4" x2="468.29999999999995" y2="525.4" stroke="#000" stroke-width="2.7"/>
<rect x="433.7" y="359.3" width="46.4" height="80.0" fill="#ff7f00" stroke="#000" stroke-width="2.7"/>
<line x1="433.7" y1="405.7" x2="480.1" y2="405.7" stroke="#000" stroke-width="3.2"/>
<line x1="547.9" y1="274.1" x2="547.9" y2="565.5" stroke="#000" stroke-width="1.5"/>
<path d="M548.5,285.9 L548.6,286.9 L548.7,287.9 L548.8,288.9 L549.0,289.9 L549.2,290.9 L549.5,291.9 L549.8,292.9 L550.1,293.9 L550.6,294.9 L551.0,295.9 L551.5,296.9 L551.9,297.9 L552.3,298.9 L552.8,299.9 L553.2,300.9 L553.7,301.9 L554.2,302.9 L554.7,303.9 L555.2,304.9 L555.8,305.9 L556.4,306.9 L557.0,307.9 L557.6,308.9 L558.2,309.9 L558.8,310.9 L559.5,311.9 L560.1,312.9 L560.7,313.9 L561.3,314.9 L561.9,315.9 L562.4,316.9 L563.0,317.9 L563.6,318.9 L564.1,319.9 L564.6,320.9 L565.2,321.9 L565.7,322.9 L566.2,323.9 L566.7,324.9 L567.3,325.9 L567.8,326.9 L568.3,327.9 L568.7,328.9 L569.2,329.9 L569.7,330.9 L570.1,331.9 L570.6,332.9 L571.0,333.9 L571.3,334.9 L571.7,335.9 L572.0,336.9 L572.3,337.9 L572.6,338.9 L572.9,339.9 L573.1,340.9 L573.3,341.9 L573.5,342.9 L573.7,343.9 L573.8,344.9 L573.9,345.9 L574.0,346.9 L574.1,347.9 L574.2,348.9 L574.3,349.9 L574.3,350.9 L574.4,351.9 L574.4,352.9 L574.5,353.9 L574.5,354.9 L574.5,355.9 L574.6,356.9 L574.6,357.9 L574.7,358.9 L574.7,359.9 L574.8,360.9 L574.8,361.9 L574.9,362.9 L574.9,363.9 L575.0,364.9 L575.1,365.9 L575.1,366.9 L575.2,367.9 L575.2,368.9 L575.3,369.9 L575.4,370.9 L575.5,371.9 L575.6,372.9 L575.8,373.9 L576.0,374.9 L576.3,375.9 L576.6,376.9 L577.0,377.9 L577.3,378.9 L577.6,379.9 L578.0,380.9 L578.4,381.9 L578.7,382.9 L579.1,383.9 L579.6,384.9 L580.0,385.9 L580.5,386.9 L580.9,387.9 L581.4,388.9 L581.9,389.9 L582.4,390.9 L582.8,391.9 L583.2,392.9 L583.6,393.9 L584.0,394.9 L584.4,395.9 L584.7,396.9 L585.0,397.9 L585.2,398.9 L585.4,399.9 L585.6,400.9 L585.8,401.9 L586.0,402.9 L586.1,403.9 L586.3,404.9 L586.4,405.9 L586.5,406.9 L586.6,407.9 L586.7,408.9 L586.7,409.9 L586.7,410.9 L586.7,411.9 L586.7,412.9 L586.6,413.9 L586.5,414.9 L586.5,415.9 L586.4,416.9 L586.4,417.9 L586.4,418.9 L586.4,419.9 L586.2,420.9 L585.9,421.9 L585.6,422.9 L585.1,423.9 L584.6,424.9 L584.0,425.9 L583.5,426.9 L582.9,427.9 L582.3,428.9 L581.7,429.9 L581.0,430.9 L580.4,431.9 L579.7,432.9 L579.0,433.9 L578.4,434.9 L577.7,435.9 L577.0,436.9 L576.2,437.9 L575.4,438.9 L574.6,439.9 L573.7,440.9 L572.8,441.9 L571.9,442.9 L570.9,443.9 L570.0,444.9 L569.0,445.9 L568.1,446.9 L567.1,447.9 L566.1,448.9 L565.2,449.9 L564.3,450.9 L563.3,451.9 L562.5,452.9 L561.6,453.9 L560.7,454.9 L559.9,455.9 L559.2,456.9 L558.5,457.9 L557.9,458.9 L557.3,459.9 L556.8,460.9 L556.3,461.9 L555.8,462.9 L555.3,463.9 L554.9,464.9 L554.5,465.9 L554.1,466.9 L553.8,467.9 L553.5,468.9 L553.2,469.9 L553.0,470.9 L552.8,471.9 L552.6,472.9 L552.4,473.9 L552.3,474.9 L552.2,475.9 L552.1,476.9 L552.0,477.9 L551.9,478.9 L551.8,479.9 L551.8,480.9 L551.7,481.9 L551.7,482.9 L551.7,483.9 L551.6,484.9 L551.6,485.9 L551.5,486.9 L551.5,487.9 L551.5,488.9 L551.5,489.9 L551.4,490.9 L551.4,491.9 L551.4,492.9 L551.3,493.9 L551.3,494.9 L551.3,495.9 L551.3,496.9 L551.3,497.9 L551.3,498.9 L551.3,499.9 L551.3,500.9 L551.3,501.9 L551.3,502.9 L551.3,503.9 L551.3,504.9 L551.3,505.9 L551.3,506.9 L551.3,507.9 L551.3,508.9 L551.3,509.9 L551.3,510.9 L551.3,511.9 L551.2,512.9 L551.2,513.9 L551.1,514.9 L551.1,515.9 L551.0,516.9 L550.9,517.9 L550.8,518.9 L550.7,519.9 L550.5,520.9 L550.4,521.9 L550.2,522.9 L550.1,523.9 L550.0,524.9 L549.8,525.9 L549.7,526.9 L549.6,527.9 L549.5,528.9 L549.3,529.9 L549.2,530.9 L549.1,531.9 L549.0,532.9 L548.9,533.9 L548.9,534.9 L548.8,535.9 L548.7,536.9 L548.7,537.9 L548.6,538.9 L548.6,539.9 L548.6,540.9 L548.5,541.9 L548.5,542.9 L548.5,543.9 L548.5,544.0 L547.3,544.0 L547.3,543.9 L547.3,542.9 L547.3,541.9 L547.2,540.9 L547.2,539.9 L547.2,538.9 L547.1,537.9 L547.1,536.9 L547.0,535.9 L546.9,534.9 L546.9,533.9 L546.8,532.9 L546.7,531.9 L546.6,530.9 L546.5,529.9 L546.3,528.9 L546.2,527.9 L546.1,526.9 L546.0,525.9 L545.8,524.9 L545.7,523.9 L545.6,522.9 L545.4,521.9 L545.3,520.9 L545.1,519.9 L545.0,518.9 L544.9,517.9 L544.8,516.9 L544.7,515.9 L544.7,514.9 L544.6,513.9 L544.6,512.9 L544.5,511.9 L544.5,510.9 L544.5,509.9 L544.5,508.9 L544.5,507.9 L544.5,506.9 L544.5,505.9 L544.5,504.9 L544.5,503.9 L544.5,502.9 L544.5,501.9 L544.5,500.9 L544.5,499.9 L544.5,498.9 L544.5,497.9 L544.5,496.9 L544.5,495.9 L544.5,494.9 L544.5,493.9 L544.4,492.9 L544.4,491.9 L544.4,490.9 L544.3,489.9 L544.3,488.9 L544.3,487.9 L544.3,486.9 L544.2,485.9 L544.2,484.9 L544.1,483.9 L544.1,482.9 L544.1,481.9 L544.0,480.9 L544.0,479.9 L543.9,478.9 L543.8,477.9 L543.7,476.9 L543.6,475.9 L543.5,474.9 L543.4,473.9 L543.2,472.9 L543.0,471.9 L542.8,470.9 L542.6,469.9 L542.3,468.9 L542.0,467.9 L541.7,466.9 L541.3,465.9 L540.9,464.9 L540.5,463.9 L540.0,462.9 L539.5,461.9 L539.0,460.9 L538.5,459.9 L537.9,458.9 L537.3,457.9 L536.6,456.9 L535.9,455.9 L535.1,454.9 L534.2,453.9 L533.3,452.9 L532.5,451.9 L531.5,450.9 L530.6,449.9 L529.7,448.9 L528.7,447.9 L527.7,446.9 L526.8,445.9 L525.8,444.9 L524.9,443.9 L523.9,442.9 L523.0,441.9 L522.1,440.9 L521.2,439.9 L520.4,438.9 L519.6,437.9 L518.8,436.9 L518.1,435.9 L517.4,434.9 L516.8,433.9 L516.1,432.9 L515.4,431.9 L514.8,430.9 L514.1,429.9 L513.5,428.9 L512.9,427.9 L512.3,426.9 L511.8,425.9 L511.2,424.9 L510.7,423.9 L510.2,422.9 L509.9,421.9 L509.6,420.9 L509.4,419.9 L509.4,418.9 L509.4,417.9 L509.4,416.9 L509.3,415.9 L509.3,414.9 L509.2,413.9 L509.1,412.9 L509.1,411.9 L509.1,410.9 L509.1,409.9 L509.1,408.9 L509.2,407.9 L509.3,406.9 L509.4,405.9 L509.5,404.9 L509.7,403.9 L509.8,402.9 L510.0,401.9 L510.2,400.9 L510.4,399.9 L510.6,398.9 L510.8,397.9 L511.1,396.9 L511.4,395.9 L511.8,394.9 L512.2,393.9 L512.6,392.9 L513.0,391.9 L513.4,390.9 L513.9,389.9 L514.4,388.9 L514.9,387.9 L515.3,386.9 L515.8,385.9 L516.2,384.9 L516.7,383.9 L517.1,382.9 L517.4,381.9 L517.8,380.9 L518.2,379.9 L518.5,378.9 L518.8,377.9 L519.2,376.9 L519.5,375.9 L519.8,374.9 L520.0,373.9 L520.2,372.9 L520.3,371.9 L520.4,370.9 L520.5,369.9 L520.6,368.9 L520.6,367.9 L520.7,366.9 L520.7,365.9 L520.8,364.9 L520.9,363.9 L520.9,362.9 L521.0,361.9 L521.0,360.9 L521.1,359.9 L521.1,358.9 L521.2,357.9 L521.2,356.9 L521.3,355.9 L521.3,354.9 L521.3,353.9 L521.4,352.9 L521.4,351.9 L521.5,350.9 L521.5,349.9 L521.6,348.9 L521.7,347.9 L521.8,346.9 L521.9,345.9 L522.0,344.9 L522.1,343.9 L522.3,342.9 L522.5,341.9 L522.7,340.9 L522.9,339.9 L523.2,338.9 L523.5,337.9 L523.8,336.9 L524.1,335.9 L524.5,334.9 L524.8,333.9 L525.2,332.9 L525.7,331.9 L526.1,330.9 L526.6,329.9 L527.1,328.9 L527.5,327.9 L528.0,326.9 L528.5,325.9 L529.1,324.9 L529.6,323.9 L530.1,322.9 L530.6,321.9 L531.2,320.9 L531.7,319.9 L532.2,318.9 L532.8,317.9 L533.4,316.9 L533.9,315.9 L534.5,314.9 L535.1,313.9 L535.7,312.9 L536.3,311.9 L537.0,310.9 L537.6,309.9 L538.2,308.9 L538.8,307.9 L539.4,306.9 L540.0,305.9 L540.6,304.9 L541.1,303.9 L541.6,302.9 L542.1,301.9 L542.6,300.9 L543.0,299.9 L543.5,298.9 L543.9,297.9 L544.3,296.9 L544.8,295.9 L545.2,294.9 L545.7,293.9 L546.0,292.9 L546.3,291.9 L546.6,290.9 L546.8,289.9 L547.0,288.9 L547.1,287.9 L547.2,286.9 L547.3,285.9Z" fill="#ff69b4" stroke="#000" stroke-width="1.45" stroke-linejoin="round"/>
<line x1="547.9" y1="325.4" x2="547.9" y2="362.5" stroke="#000" stroke-width="2.7"/>
<line x1="547.9" y1="427.6" x2="547.9" y2="514.0" stroke="#000" stroke-width="2.7"/>
<line x1="536.5" y1="325.4" x2="559.3" y2="325.4" stroke="#000" stroke-width="2.7"/>
<line x1="536.5" y1="514.0" x2="559.3" y2="514.0" stroke="#000" stroke-width="2.7"/>
<rect x="524.9" y="362.5" width="46.1" height="65.1" fill="#cd1076" stroke="#000" stroke-width="2.7"/>
<line x1="524.9" y1="400.2" x2="571.0" y2="400.2" stroke="#000" stroke-width="3.2"/>
<line x1="638.5" y1="253.9" x2="638.5" y2="594.4" stroke="#000" stroke-width="1.5"/>
<path d="M639.1,279.6 L639.1,280.6 L639.2,281.6 L639.2,282.6 L639.3,283.6 L639.3,284.6 L639.4,285.6 L639.5,286.6 L639.7,287.6 L639.8,288.6 L640.0,289.6 L640.1,290.6 L640.3,291.6 L640.5,292.6 L640.7,293.6 L640.9,294.6 L641.1,295.6 L641.3,296.6 L641.5,297.6 L641.7,298.6 L641.9,299.6 L642.1,300.6 L642.3,301.6 L642.5,302.6 L642.7,303.6 L642.9,304.6 L643.1,305.6 L643.3,306.6 L643.5,307.6 L643.7,308.6 L643.9,309.6 L644.1,310.6 L644.3,311.6 L644.5,312.6 L644.7,313.6 L644.9,314.6 L645.1,315.6 L645.4,316.6 L645.6,317.6 L645.8,318.6 L646.1,319.6 L646.3,320.6 L646.6,321.6 L646.9,322.6 L647.1,323.6 L647.4,324.6 L647.7,325.6 L648.0,326.6 L648.3,327.6 L648.6,328.6 L648.9,329.6 L649.3,330.6 L649.7,331.6 L650.2,332.6 L650.7,333.6 L651.1,334.6 L651.6,335.6 L652.0,336.6 L652.5,337.6 L652.9,338.6 L653.3,339.6 L653.8,340.6 L654.2,341.6 L654.6,342.6 L655.1,343.6 L655.5,344.6 L655.9,345.6 L656.3,346.6 L656.8,347.6 L657.2,348.6 L657.5,349.6 L657.9,350.6 L658.3,351.6 L658.7,352.6 L659.0,353.6 L659.4,354.6 L659.7,355.6 L660.0,356.6 L660.4,357.6 L660.7,358.6 L661.1,359.6 L661.5,360.6 L661.9,361.6 L662.4,362.6 L662.9,363.6 L663.4,364.6 L663.9,365.6 L664.5,366.6 L665.0,367.6 L665.5,368.6 L666.0,369.6 L666.5,370.6 L667.0,371.6 L667.5,372.6 L667.9,373.6 L668.4,374.6 L668.8,375.6 L669.2,376.6 L669.7,377.6 L670.1,378.6 L670.5,379.6 L670.9,380.6 L671.3,381.6 L671.8,382.6 L672.1,383.6 L672.5,384.6 L672.9,385.6 L673.2,386.6 L673.5,387.6 L673.8,388.6 L674.1,389.6 L674.3,390.6 L674.6,391.6 L674.8,392.6 L675.1,393.6 L675.3,394.6 L675.5,395.6 L675.7,396.6 L675.9,397.6 L676.1,398.6 L676.2,399.6 L676.4,400.6 L676.5,401.6 L676.6,402.6 L676.7,403.6 L676.8,404.6 L676.9,405.6 L677.0,406.6 L677.1,407.6 L677.2,408.6 L677.2,409.6 L677.3,410.6 L677.3,411.6 L677.3,412.6 L677.3,413.6 L677.3,414.6 L677.3,415.6 L677.3,416.6 L677.3,417.6 L677.3,418.6 L677.2,419.6 L677.2,420.6 L677.2,421.6 L677.1,422.6 L677.0,423.6 L676.9,424.6 L676.8,425.6 L676.6,426.6 L676.4,427.6 L676.2,428.6 L675.9,429.6 L675.7,430.6 L675.5,431.6 L675.2,432.6 L674.9,433.6 L674.6,434.6 L674.3,435.6 L674.0,436.6 L673.6,437.6 L673.2,438.6 L672.9,439.6 L672.6,440.6 L672.4,441.6 L672.4,442.6 L672.4,443.6 L672.5,444.6 L672.4,445.6 L672.1,446.6 L671.7,447.6 L671.1,448.6 L670.6,449.6 L670.0,450.6 L669.4,451.6 L668.9,452.6 L668.4,453.6 L667.9,454.6 L667.4,455.6 L666.9,456.6 L666.4,457.6 L665.9,458.6 L665.3,459.6 L664.8,460.6 L664.2,461.6 L663.6,462.6 L663.1,463.6 L662.5,464.6 L661.9,465.6 L661.3,466.6 L660.7,467.6 L660.1,468.6 L659.5,469.6 L658.9,470.6 L658.4,471.6 L657.8,472.6 L657.2,473.6 L656.6,474.6 L656.1,475.6 L655.5,476.6 L654.9,477.6 L654.4,478.6 L653.8,479.6 L653.2,480.6 L652.7,481.6 L652.2,482.6 L651.7,483.6 L651.2,484.6 L650.8,485.6 L650.3,486.6 L649.9,487.6 L649.5,488.6 L649.2,489.6 L648.8,490.6 L648.5,491.6 L648.2,492.6 L648.0,493.6 L647.7,494.6 L647.5,495.6 L647.3,496.6 L647.1,497.6 L646.9,498.6 L646.7,499.6 L646.4,500.6 L646.1,501.6 L645.8,502.6 L645.6,503.6 L645.3,504.6 L645.1,505.6 L644.9,506.6 L644.6,507.6 L644.4,508.6 L644.3,509.6 L644.1,510.6 L644.0,511.6 L643.9,512.6 L643.8,513.6 L643.7,514.6 L643.6,515.6 L643.5,516.6 L643.3,517.6 L643.2,518.6 L643.0,519.6 L642.8,520.6 L642.6,521.6 L642.5,522.6 L642.4,523.6 L642.4,524.6 L642.3,525.6 L642.3,526.6 L642.3,527.6 L642.2,528.6 L642.1,529.6 L642.1,530.6 L642.0,531.6 L641.8,532.6 L641.7,533.6 L641.6,534.6 L641.4,535.6 L641.4,536.6 L641.3,537.6 L641.3,538.6 L641.2,539.6 L641.2,540.6 L641.1,541.6 L641.1,542.6 L641.0,543.6 L641.0,544.6 L640.9,545.6 L640.8,546.6 L640.7,547.6 L640.6,548.6 L640.4,549.6 L640.3,550.6 L640.1,551.6 L640.0,552.6 L639.9,553.6 L639.8,554.6 L639.7,555.6 L639.6,556.6 L639.5,557.6 L639.4,558.6 L639.3,559.6 L639.2,560.6 L639.2,561.6 L639.2,562.6 L639.2,563.6 L639.1,564.6 L639.1,565.6 L639.1,566.6 L639.1,567.6 L639.1,568.6 L639.1,569.6 L639.1,570.0 L637.9,570.0 L637.9,569.6 L637.9,568.6 L637.9,567.6 L637.9,566.6 L637.9,565.6 L637.9,564.6 L637.8,563.6 L637.8,562.6 L637.8,561.6 L637.8,560.6 L637.7,559.6 L637.6,558.6 L637.5,557.6 L637.4,556.6 L637.3,555.6 L637.2,554.6 L637.1,553.6 L637.0,552.6 L636.9,551.6 L636.7,550.6 L636.6,549.6 L636.4,548.6 L636.3,547.6 L636.2,546.6 L636.1,545.6 L636.0,544.6 L636.0,543.6 L635.9,542.6 L635.9,541.6 L635.8,540.6 L635.8,539.6 L635.7,538.6 L635.7,537.6 L635.6,536.6 L635.6,535.6 L635.4,534.6 L635.3,533.6 L635.2,532.6 L635.0,531.6 L634.9,530.6 L634.9,529.6 L634.8,528.6 L634.7,527.6 L634.7,526.6 L634.7,525.6 L634.6,524.6 L634.6,523.6 L634.5,522.6 L634.4,521.6 L634.2,520.6 L634.0,519.6 L633.8,518.6 L633.7,517.6 L633.5,516.6 L633.4,515.6 L633.3,514.6 L633.2,513.6 L633.1,512.6 L633.0,511.6 L632.9,510.6 L632.7,509.6 L632.6,508.6 L632.4,507.6 L632.1,506.6 L631.9,505.6 L631.7,504.6 L631.4,503.6 L631.2,502.6 L630.9,501.6 L630.6,500.6 L630.3,499.6 L630.1,498.6 L629.9,497.6 L629.7,496.6 L629.5,495.6 L629.3,494.6 L629.0,493.6 L628.8,492.6 L628.5,491.6 L628.2,490.6 L627.8,489.6 L627.5,488.6 L627.1,487.6 L626.7,486.6 L626.2,485.6 L625.8,484.6 L625.3,483.6 L624.8,482.6 L624.3,481.6 L623.8,480.6 L623.2,479.6 L622.6,478.6 L622.1,477.6 L621.5,476.6 L620.9,475.6 L620.4,474.6 L619.8,473.6 L619.2,472.6 L618.6,471.6 L618.1,470.6 L617.5,469.6 L616.9,468.6 L616.3,467.6 L615.7,466.6 L615.1,465.6 L614.5,464.6 L613.9,463.6 L613.4,462.6 L612.8,461.6 L612.2,460.6 L611.7,459.6 L611.1,458.6 L610.6,457.6 L610.1,456.6 L609.6,455.6 L609.1,454.6 L608.6,453.6 L608.1,452.6 L607.6,451.6 L607.0,450.6 L606.4,449.6 L605.9,448.6 L605.3,447.6 L604.9,446.6 L604.6,445.6 L604.5,444.6 L604.6,443.6 L604.6,442.6 L604.6,441.6 L604.4,440.6 L604.1,439.6 L603.8,438.6 L603.4,437.6 L603.0,436.6 L602.7,435.6 L602.4,434.6 L602.1,433.6 L601.8,432.6 L601.5,431.6 L601.3,430.6 L601.1,429.6 L600.8,428.6 L600.6,427.6 L600.4,426.6 L600.2,425.6 L600.1,424.6 L600.0,423.6 L599.9,422.6 L599.8,421.6 L599.8,420.6 L599.8,419.6 L599.7,418.6 L599.7,417.6 L599.7,416.6 L599.7,415.6 L599.7,414.6 L599.7,413.6 L599.7,412.6 L599.7,411.6 L599.7,410.6 L599.8,409.6 L599.8,408.6 L599.9,407.6 L600.0,406.6 L600.1,405.6 L600.2,404.6 L600.3,403.6 L600.4,402.6 L600.5,401.6 L600.6,400.6 L600.8,399.6 L600.9,398.6 L601.1,397.6 L601.3,396.6 L601.5,395.6 L601.7,394.6 L601.9,393.6 L602.2,392.6 L602.4,391.6 L602.7,390.6 L602.9,389.6 L603.2,388.6 L603.5,387.6 L603.8,386.6 L604.1,385.6 L604.5,384.6 L604.9,383.6 L605.2,382.6 L605.7,381.6 L606.1,380.6 L606.5,379.6 L606.9,378.6 L607.3,377.6 L607.8,376.6 L608.2,375.6 L608.6,374.6 L609.1,373.6 L609.5,372.6 L610.0,371.6 L610.5,370.6 L611.0,369.6 L611.5,368.6 L612.0,367.6 L612.5,366.6 L613.1,365.6 L613.6,364.6 L614.1,363.6 L614.6,362.6 L615.1,361.6 L615.5,360.6 L615.9,359.6 L616.3,358.6 L616.6,357.6 L617.0,356.6 L617.3,355.6 L617.6,354.6 L618.0,353.6 L618.3,352.6 L618.7,351.6 L619.1,350.6 L619.5,349.6 L619.8,348.6 L620.2,347.6 L620.7,346.6 L621.1,345.6 L621.5,344.6 L621.9,343.6 L622.4,342.6 L622.8,341.6 L623.2,340.6 L623.7,339.6 L624.1,338.6 L624.5,337.6 L625.0,336.6 L625.4,335.6 L625.9,334.6 L626.3,333.6 L626.8,332.6 L627.3,331.6 L627.7,330.6 L628.1,329.6 L628.4,328.6 L628.7,327.6 L629.0,326.6 L629.3,325.6 L629.6,324.6 L629.9,323.6 L630.1,322.6 L630.4,321.6 L630.7,320.6 L630.9,319.6 L631.2,318.6 L631.4,317.6 L631.6,316.6 L631.9,315.6 L632.1,314.6 L632.3,313.6 L632.5,312.6 L632.7,311.6 L632.9,310.6 L633.1,309.6 L633.3,308.6 L633.5,307.6 L633.7,306.6 L633.9,305.6 L634.1,304.6 L634.3,303.6 L634.5,302.6 L634.7,301.6 L634.9,300.6 L635.1,299.6 L635.3,298.6 L635.5,297.6 L635.7,296.6 L635.9,295.6 L636.1,294.6 L636.3,293.6 L636.5,292.6 L636.7,291.6 L636.9,290.6 L637.0,289.6 L637.2,288.6 L637.3,287.6 L637.5,286.6 L637.6,285.6 L637.7,284.6 L637.7,283.6 L637.8,282.6 L637.8,281.6 L637.9,280.6 L637.9,279.6Z" fill="#54ff9f" stroke="#000" stroke-width="1.45" stroke-linejoin="round"/>
<line x1="638.5" y1="328.2" x2="638.5" y2="387.1" stroke="#000" stroke-width="2.7"/>
<line x1="638.5" y1="450.3" x2="638.5" y2="519.6" stroke="#000" stroke-width="2.7"/>
<line x1="627.1" y1="328.2" x2="649.9" y2="328.2" stroke="#000" stroke-width="2.7"/>
<line x1="627.1" y1="519.6" x2="649.9" y2="519.6" stroke="#000" stroke-width="2.7"/>
<rect x="615.2" y="387.1" width="46.5" height="63.2" fill="#00cd66" stroke="#000" stroke-width="2.7"/>
<line x1="615.2" y1="414.6" x2="661.7" y2="414.6" stroke="#000" stroke-width="3.2"/>
<line x1="729.1" y1="271.1" x2="729.1" y2="579.7" stroke="#000" stroke-width="1.5"/>
<path d="M729.7,287.1 L729.7,288.1 L729.7,289.1 L729.7,290.1 L729.7,291.1 L729.7,292.1 L729.8,293.1 L729.9,294.1 L730.1,295.1 L730.3,296.1 L730.5,297.1 L730.6,298.1 L730.8,299.1 L731.0,300.1 L731.2,301.1 L731.5,302.1 L731.7,303.1 L731.9,304.1 L732.1,305.1 L732.3,306.1 L732.4,307.1 L732.6,308.1 L732.8,309.1 L733.0,310.1 L733.2,311.1 L733.5,312.1 L733.7,313.1 L733.9,314.1 L734.2,315.1 L734.4,316.1 L734.7,317.1 L734.9,318.1 L735.1,319.1 L735.4,320.1 L735.6,321.1 L735.9,322.1 L736.1,323.1 L736.4,324.1 L736.6,325.1 L736.9,326.1 L737.2,327.1 L737.5,328.1 L737.8,329.1 L738.2,330.1 L738.5,331.1 L738.9,332.1 L739.3,333.1 L739.7,334.1 L740.1,335.1 L740.5,336.1 L740.9,337.1 L741.4,338.1 L741.8,339.1 L742.2,340.1 L742.7,341.1 L743.1,342.1 L743.5,343.1 L744.0,344.1 L744.4,345.1 L744.8,346.1 L745.2,347.1 L745.7,348.1 L746.1,349.1 L746.5,350.1 L746.9,351.1 L747.3,352.1 L747.7,353.1 L748.1,354.1 L748.5,355.1 L748.9,356.1 L749.3,357.1 L749.7,358.1 L750.1,359.1 L750.6,360.1 L751.1,361.1 L751.6,362.1 L752.2,363.1 L752.8,364.1 L753.3,365.1 L753.9,366.1 L754.4,367.1 L754.9,368.1 L755.4,369.1 L755.9,370.1 L756.4,371.1 L756.9,372.1 L757.3,373.1 L757.8,374.1 L758.2,375.1 L758.6,376.1 L759.0,377.1 L759.5,378.1 L759.9,379.1 L760.3,380.1 L760.7,381.1 L761.1,382.1 L761.5,383.1 L761.8,384.1 L762.2,385.1 L762.6,386.1 L763.0,387.1 L763.3,388.1 L763.7,389.1 L764.0,390.1 L764.3,391.1 L764.6,392.1 L765.0,393.1 L765.2,394.1 L765.5,395.1 L765.8,396.1 L766.1,397.1 L766.3,398.1 L766.6,399.1 L766.9,400.1 L767.1,401.1 L767.3,402.1 L767.5,403.1 L767.7,404.1 L767.8,405.1 L767.9,406.1 L768.0,407.1 L768.1,408.1 L768.1,409.1 L768.1,410.1 L768.1,411.1 L768.1,412.1 L768.0,413.1 L767.9,414.1 L767.8,415.1 L767.6,416.1 L767.4,417.1 L767.2,418.1 L766.9,419.1 L766.6,420.1 L766.2,421.1 L765.9,422.1 L765.4,423.1 L764.9,424.1 L764.4,425.1 L763.8,426.1 L763.2,427.1 L762.7,428.1 L762.1,429.1 L761.6,430.1 L761.2,431.1 L760.6,432.1 L760.1,433.1 L759.5,434.1 L758.8,435.1 L758.1,436.1 L757.4,437.1 L756.7,438.1 L756.0,439.1 L755.2,440.1 L754.5,441.1 L753.8,442.1 L753.1,443.1 L752.4,444.1 L751.7,445.1 L751.0,446.1 L750.3,447.1 L749.6,448.1 L748.9,449.1 L748.2,450.1 L747.6,451.1 L747.1,452.1 L746.5,453.1 L746.0,454.1 L745.5,455.1 L745.0,456.1 L744.6,457.1 L744.2,458.1 L743.9,459.1 L743.6,460.1 L743.4,461.1 L743.3,462.1 L743.2,463.1 L743.2,464.1 L743.1,465.1 L743.1,466.1 L743.0,467.1 L743.0,468.1 L742.9,469.1 L742.9,470.1 L742.9,471.1 L742.9,472.1 L742.8,473.1 L742.8,474.1 L742.8,475.1 L742.8,476.1 L742.9,477.1 L742.9,478.1 L743.0,479.1 L743.1,480.1 L743.1,481.1 L743.2,482.1 L743.3,483.1 L743.3,484.1 L743.3,485.1 L743.3,486.1 L743.3,487.1 L743.1,488.1 L743.0,489.1 L742.8,490.1 L742.7,491.1 L742.5,492.1 L742.2,493.1 L741.9,494.1 L741.6,495.1 L741.3,496.1 L741.0,497.1 L740.6,498.1 L740.2,499.1 L739.9,500.1 L739.5,501.1 L739.1,502.1 L738.7,503.1 L738.2,504.1 L737.8,505.1 L737.4,506.1 L737.0,507.1 L736.6,508.1 L736.2,509.1 L735.8,510.1 L735.4,511.1 L735.0,512.1 L734.6,513.1 L734.2,514.1 L733.9,515.1 L733.5,516.1 L733.3,517.1 L733.1,518.1 L732.9,519.1 L732.7,520.1 L732.6,521.1 L732.5,522.1 L732.4,523.1 L732.4,524.1 L732.4,525.1 L732.4,526.1 L732.5,527.1 L732.5,528.1 L732.5,529.1 L732.5,530.1 L732.4,531.1 L732.3,532.1 L732.2,533.1 L732.1,534.1 L732.0,535.1 L731.8,536.1 L731.7,537.1 L731.5,538.1 L731.3,539.1 L731.0,540.1 L730.8,541.1 L730.7,542.1 L730.5,543.1 L730.4,544.1 L730.3,545.1 L730.3,546.1 L730.2,547.1 L730.1,548.1 L730.0,549.1 L730.0,550.1 L729.9,551.1 L729.9,552.1 L729.9,553.1 L729.8,554.1 L729.8,555.1 L729.7,556.1 L729.7,557.1 L729.7,558.0 L728.5,558.0 L728.5,557.1 L728.5,556.1 L728.4,555.1 L728.4,554.1 L728.3,553.1 L728.3,552.1 L728.3,551.1 L728.2,550.1 L728.2,549.1 L728.1,548.1 L728.0,547.1 L727.9,546.1 L727.9,545.1 L727.8,544.1 L727.7,543.1 L727.5,542.1 L727.4,541.1 L727.2,540.1 L726.9,539.1 L726.7,538.1 L726.5,537.1 L726.4,536.1 L726.2,535.1 L726.1,534.1 L726.0,533.1 L725.9,532.1 L725.8,531.1 L725.7,530.1 L725.7,529.1 L725.7,528.1 L725.7,527.1 L725.8,526.1 L725.8,525.1 L725.8,524.1 L725.8,523.1 L725.7,522.1 L725.6,521.1 L725.5,520.1 L725.3,519.1 L725.1,518.1 L724.9,517.1 L724.7,516.1 L724.3,515.1 L724.0,514.1 L723.6,513.1 L723.2,512.1 L722.8,511.1 L722.4,510.1 L722.0,509.1 L721.6,508.1 L721.2,507.1 L720.8,506.1 L720.4,505.1 L720.0,504.1 L719.5,503.1 L719.1,502.1 L718.7,501.1 L718.3,500.1 L718.0,499.1 L717.6,498.1 L717.2,497.1 L716.9,496.1 L716.6,495.1 L716.3,494.1 L716.0,493.1 L715.7,492.1 L715.5,491.1 L715.4,490.1 L715.2,489.1 L715.1,488.1 L714.9,487.1 L714.9,486.1 L714.9,485.1 L714.9,484.1 L714.9,483.1 L715.0,482.1 L715.1,481.1 L715.1,480.1 L715.2,479.1 L715.3,478.1 L715.3,477.1 L715.4,476.1 L715.4,475.1 L715.4,474.1 L715.4,473.1 L715.3,472.1 L715.3,471.1 L715.3,470.1 L715.3,469.1 L715.2,468.1 L715.2,467.1 L715.1,466.1 L715.1,465.1 L715.0,464.1 L715.0,463.1 L714.9,462.1 L714.8,461.1 L714.6,460.1 L714.3,459.1 L714.0,458.1 L713.6,457.1 L713.2,456.1 L712.7,455.1 L712.2,454.1 L711.7,453.1 L711.1,452.1 L710.6,451.1 L710.0,450.1 L709.3,449.1 L708.6,448.1 L707.9,447.1 L707.2,446.1 L706.5,445.1 L705.8,444.1 L705.1,443.1 L704.4,442.1 L703.7,441.1 L703.0,440.1 L702.2,439.1 L701.5,438.1 L700.8,437.1 L700.1,436.1 L699.4,435.1 L698.7,434.1 L698.1,433.1 L697.6,432.1 L697.0,431.1 L696.6,430.1 L696.1,429.1 L695.5,428.1 L695.0,427.1 L694.4,426.1 L693.8,425.1 L693.3,424.1 L692.8,423.1 L692.3,422.1 L692.0,421.1 L691.6,420.1 L691.3,419.1 L691.0,418.1 L690.8,417.1 L690.6,416.1 L690.4,415.1 L690.3,414.1 L690.2,413.1 L690.1,412.1 L690.1,411.1 L690.1,410.1 L690.1,409.1 L690.1,408.1 L690.2,407.1 L690.3,406.1 L690.4,405.1 L690.5,404.1 L690.7,403.1 L690.9,402.1 L691.1,401.1 L691.3,400.1 L691.6,399.1 L691.9,398.1 L692.1,397.1 L692.4,396.1 L692.7,395.1 L693.0,394.1 L693.2,393.1 L693.6,392.1 L693.9,391.1 L694.2,390.1 L694.5,389.1 L694.9,388.1 L695.2,387.1 L695.6,386.1 L696.0,385.1 L696.4,384.1 L696.7,383.1 L697.1,382.1 L697.5,381.1 L697.9,380.1 L698.3,379.1 L698.7,378.1 L699.2,377.1 L699.6,376.1 L700.0,375.1 L700.4,374.1 L700.9,373.1 L701.3,372.1 L701.8,371.1 L702.3,370.1 L702.8,369.1 L703.3,368.1 L703.8,367.1 L704.3,366.1 L704.9,365.1 L705.4,364.1 L706.0,363.1 L706.6,362.1 L707.1,361.1 L707.6,360.1 L708.1,359.1 L708.5,358.1 L708.9,357.1 L709.3,356.1 L709.7,355.1 L710.1,354.1 L710.5,353.1 L710.9,352.1 L711.3,351.1 L711.7,350.1 L712.1,349.1 L712.5,348.1 L713.0,347.1 L713.4,346.1 L713.8,345.1 L714.2,344.1 L714.7,343.1 L715.1,342.1 L715.5,341.1 L716.0,340.1 L716.4,339.1 L716.8,338.1 L717.3,337.1 L717.7,336.1 L718.1,335.1 L718.5,334.1 L718.9,333.1 L719.3,332.1 L719.7,331.1 L720.0,330.1 L720.4,329.1 L720.7,328.1 L721.0,327.1 L721.3,326.1 L721.6,325.1 L721.8,324.1 L722.1,323.1 L722.3,322.1 L722.6,321.1 L722.8,320.1 L723.1,319.1 L723.3,318.1 L723.5,317.1 L723.8,316.1 L724.0,315.1 L724.3,314.1 L724.5,313.1 L724.7,312.1 L725.0,311.1 L725.2,310.1 L725.4,309.1 L725.6,308.1 L725.8,307.1 L725.9,306.1 L726.1,305.1 L726.3,304.1 L726.5,303.1 L726.7,302.1 L727.0,301.1 L727.2,300.1 L727.4,299.1 L727.6,298.1 L727.7,297.1 L727.9,296.1 L728.1,295.1 L728.3,294.1 L728.4,293.1 L728.5,292.1 L728.5,291.1 L728.5,290.1 L728.5,289.1 L728.5,288.1 L728.5,287.1Z" fill="#ffb90f" stroke="#000" stroke-width="1.45" stroke-linejoin="round"/>
<line x1="729.1" y1="325.4" x2="729.1" y2="379.9" stroke="#000" stroke-width="2.7"/>
<line x1="729.1" y1="438.9" x2="729.1" y2="524.1" stroke="#000" stroke-width="2.7"/>
<line x1="717.7" y1="325.4" x2="740.5" y2="325.4" stroke="#000" stroke-width="2.7"/>
<line x1="717.7" y1="524.1" x2="740.5" y2="524.1" stroke="#000" stroke-width="2.7"/>
<rect x="706.1" y="379.9" width="46.1" height="59.0" fill="#ff7f00" stroke="#000" stroke-width="2.7"/>
<line x1="706.1" y1="413.0" x2="752.2" y2="413.0" stroke="#000" stroke-width="3.2"/>
<line x1="819.7" y1="245.3" x2="819.7" y2="540.2" stroke="#000" stroke-width="1.5"/>
<path d="M820.3,264.6 L820.3,265.6 L820.3,266.6 L820.3,267.6 L820.3,268.6 L820.3,269.6 L820.3,270.6 L820.3,271.6 L820.3,272.6 L820.3,273.6 L820.3,274.6 L820.4,275.6 L820.6,276.6 L820.8,277.6 L820.9,278.6 L821.1,279.6 L821.3,280.6 L821.5,281.6 L821.7,282.6 L821.9,283.6 L822.1,284.6 L822.3,285.6 L822.5,286.6 L822.6,287.6 L822.8,288.6 L823.0,289.6 L823.2,290.6 L823.4,291.6 L823.6,292.6 L823.8,293.6 L824.0,294.6 L824.2,295.6 L824.4,296.6 L824.6,297.6 L824.8,298.6 L825.0,299.6 L825.2,300.6 L825.4,301.6 L825.6,302.6 L825.8,303.6 L826.0,304.6 L826.1,305.6 L826.3,306.6 L826.5,307.6 L826.7,308.6 L826.9,309.6 L827.1,310.6 L827.3,311.6 L827.6,312.6 L827.9,313.6 L828.2,314.6 L828.4,315.6 L828.7,316.6 L829.0,317.6 L829.3,318.6 L829.6,319.6 L829.9,320.6 L830.2,321.6 L830.5,322.6 L830.8,323.6 L831.1,324.6 L831.4,325.6 L831.6,326.6 L831.9,327.6 L832.1,328.6 L832.4,329.6 L832.6,330.6 L832.8,331.6 L833.0,332.6 L833.3,333.6 L833.5,334.6 L833.7,335.6 L833.9,336.6 L834.1,337.6 L834.3,338.6 L834.5,339.6 L834.8,340.6 L835.1,341.6 L835.4,342.6 L835.7,343.6 L836.1,344.6 L836.5,345.6 L836.8,346.6 L837.2,347.6 L837.5,348.6 L837.9,349.6 L838.3,350.6 L838.6,351.6 L839.0,352.6 L839.3,353.6 L839.7,354.6 L840.0,355.6 L840.4,356.6 L840.7,357.6 L841.1,358.6 L841.5,359.6 L841.8,360.6 L842.2,361.6 L842.5,362.6 L842.9,363.6 L843.2,364.6 L843.6,365.6 L844.0,366.6 L844.3,367.6 L844.7,368.6 L845.0,369.6 L845.4,370.6 L845.7,371.6 L846.1,372.6 L846.4,373.6 L846.8,374.6 L847.1,375.6 L847.5,376.6 L847.8,377.6 L848.1,378.6 L848.4,379.6 L848.8,380.6 L849.1,381.6 L849.4,382.6 L849.7,383.6 L850.0,384.6 L850.3,385.6 L850.6,386.6 L850.9,387.6 L851.2,388.6 L851.5,389.6 L851.8,390.6 L852.1,391.6 L852.4,392.6 L852.7,393.6 L853.1,394.6 L853.3,395.6 L853.6,396.6 L853.9,397.6 L854.2,398.6 L854.4,399.6 L854.7,400.6 L854.9,401.6 L855.2,402.6 L855.4,403.6 L855.7,404.6 L855.9,405.6 L856.1,406.6 L856.3,407.6 L856.5,408.6 L856.7,409.6 L856.9,410.6 L857.0,411.6 L857.2,412.6 L857.3,413.6 L857.5,414.6 L857.6,415.6 L857.7,416.6 L857.8,417.6 L857.9,418.6 L857.9,419.6 L858.0,420.6 L858.1,421.6 L858.1,422.6 L858.1,423.6 L858.2,424.6 L858.2,425.6 L858.3,426.6 L858.3,427.6 L858.4,428.6 L858.6,429.6 L858.6,430.6 L858.6,431.6 L858.5,432.6 L858.4,433.6 L858.2,434.6 L857.9,435.6 L857.6,436.6 L857.3,437.6 L856.9,438.6 L856.4,439.6 L855.9,440.6 L855.3,441.6 L854.8,442.6 L854.2,443.6 L853.6,444.6 L853.0,445.6 L852.4,446.6 L851.8,447.6 L851.2,448.6 L850.6,449.6 L849.9,450.6 L849.3,451.6 L848.7,452.6 L848.0,453.6 L847.4,454.6 L846.7,455.6 L846.0,456.6 L845.3,457.6 L844.6,458.6 L843.8,459.6 L843.1,460.6 L842.4,461.6 L841.7,462.6 L840.9,463.6 L840.2,464.6 L839.5,465.6 L838.8,466.6 L838.1,467.6 L837.5,468.6 L836.9,469.6 L836.3,470.6 L835.7,471.6 L835.1,472.6 L834.5,473.6 L834.0,474.6 L833.5,475.6 L833.0,476.6 L832.5,477.6 L831.9,478.6 L831.4,479.6 L830.9,480.6 L830.3,481.6 L829.8,482.6 L829.3,483.6 L828.8,484.6 L828.4,485.6 L828.0,486.6 L827.7,487.6 L827.3,488.6 L826.9,489.6 L826.6,490.6 L826.2,491.6 L825.9,492.6 L825.5,493.6 L825.2,494.6 L824.8,495.6 L824.5,496.6 L824.2,497.6 L824.0,498.6 L823.7,499.6 L823.4,500.6 L823.2,501.6 L823.0,502.6 L822.7,503.6 L822.5,504.6 L822.2,505.6 L822.0,506.6 L821.8,507.6 L821.6,508.6 L821.4,509.6 L821.2,510.6 L821.1,511.6 L821.0,512.6 L820.8,513.6 L820.7,514.6 L820.6,515.6 L820.5,516.6 L820.5,517.6 L820.4,518.6 L820.3,519.6 L820.3,520.0 L819.1,520.0 L819.1,519.6 L819.0,518.6 L818.9,517.6 L818.9,516.6 L818.8,515.6 L818.7,514.6 L818.6,513.6 L818.4,512.6 L818.3,511.6 L818.2,510.6 L818.0,509.6 L817.8,508.6 L817.6,507.6 L817.4,506.6 L817.2,505.6 L816.9,504.6 L816.7,503.6 L816.4,502.6 L816.2,501.6 L816.0,500.6 L815.7,499.6 L815.4,498.6 L815.2,497.6 L814.9,496.6 L814.6,495.6 L814.2,494.6 L813.9,493.6 L813.5,492.6 L813.2,491.6 L812.8,490.6 L812.5,489.6 L812.1,488.6 L811.7,487.6 L811.4,486.6 L811.0,485.6 L810.6,484.6 L810.1,483.6 L809.6,482.6 L809.1,481.6 L808.5,480.6 L808.0,479.6 L807.5,478.6 L806.9,477.6 L806.4,476.6 L805.9,475.6 L805.4,474.6 L804.9,473.6 L804.3,472.6 L803.7,471.6 L803.1,470.6 L802.5,469.6 L801.9,468.6 L801.3,467.6 L800.6,466.6 L799.9,465.6 L799.2,464.6 L798.5,463.6 L797.7,462.6 L797.0,461.6 L796.3,460.6 L795.6,459.6 L794.8,458.6 L794.1,457.6 L793.4,456.6 L792.7,455.6 L792.0,454.6 L791.4,453.6 L790.7,452.6 L790.1,451.6 L789.5,450.6 L788.8,449.6 L788.2,448.6 L787.6,447.6 L787.0,446.6 L786.4,445.6 L785.8,444.6 L785.2,443.6 L784.6,442.6 L784.1,441.6 L783.5,440.6 L783.0,439.6 L782.5,438.6 L782.1,437.6 L781.8,436.6 L781.5,435.6 L781.2,434.6 L781.0,433.6 L780.9,432.6 L780.8,431.6 L780.8,430.6 L780.8,429.6 L781.0,428.6 L781.1,427.6 L781.1,426.6 L781.2,425.6 L781.2,424.6 L781.3,423.6 L781.3,422.6 L781.3,421.6 L781.4,420.6 L781.5,419.6 L781.5,418.6 L781.6,417.6 L781.7,416.6 L781.8,415.6 L781.9,414.6 L782.1,413.6 L782.2,412.6 L782.4,411.6 L782.5,410.6 L782.7,409.6 L782.9,408.6 L783.1,407.6 L783.3,406.6 L783.5,405.6 L783.7,404.6 L784.0,403.6 L784.2,402.6 L784.5,401.6 L784.7,400.6 L785.0,399.6 L785.2,398.6 L785.5,397.6 L785.8,396.6 L786.1,395.6 L786.3,394.6 L786.7,393.6 L787.0,392.6 L787.3,391.6 L787.6,390.6 L787.9,389.6 L788.2,388.6 L788.5,387.6 L788.8,386.6 L789.1,385.6 L789.4,384.6 L789.7,383.6 L790.0,382.6 L790.3,381.6 L790.6,380.6 L791.0,379.6 L791.3,378.6 L791.6,377.6 L791.9,376.6 L792.3,375.6 L792.6,374.6 L793.0,373.6 L793.3,372.6 L793.7,371.6 L794.0,370.6 L794.4,369.6 L794.7,368.6 L795.1,367.6 L795.4,366.6 L795.8,365.6 L796.2,364.6 L796.5,363.6 L796.9,362.6 L797.2,361.6 L797.6,360.6 L797.9,359.6 L798.3,358.6 L798.7,357.6 L799.0,356.6 L799.4,355.6 L799.7,354.6 L800.1,353.6 L800.4,352.6 L800.8,351.6 L801.1,350.6 L801.5,349.6 L801.9,348.6 L802.2,347.6 L802.6,346.6 L802.9,345.6 L803.3,344.6 L803.7,343.6 L804.0,342.6 L804.3,341.6 L804.6,340.6 L804.9,339.6 L805.1,338.6 L805.3,337.6 L805.5,336.6 L805.7,335.6 L805.9,334.6 L806.1,333.6 L806.4,332.6 L806.6,331.6 L806.8,330.6 L807.0,329.6 L807.3,328.6 L807.5,327.6 L807.8,326.6 L808.0,325.6 L808.3,324.6 L808.6,323.6 L808.9,322.6 L809.2,321.6 L809.5,320.6 L809.8,319.6 L810.1,318.6 L810.4,317.6 L810.7,316.6 L811.0,315.6 L811.2,314.6 L811.5,313.6 L811.8,312.6 L812.1,311.6 L812.3,310.6 L812.5,309.6 L812.7,308.6 L812.9,307.6 L813.1,306.6 L813.3,305.6 L813.4,304.6 L813.6,303.6 L813.8,302.6 L814.0,301.6 L814.2,300.6 L814.4,299.6 L814.6,298.6 L814.8,297.6 L815.0,296.6 L815.2,295.6 L815.4,294.6 L815.6,293.6 L815.8,292.6 L816.0,291.6 L816.2,290.6 L816.4,289.6 L816.6,288.6 L816.8,287.6 L816.9,286.6 L817.1,285.6 L817.3,284.6 L817.5,283.6 L817.7,282.6 L817.9,281.6 L818.1,280.6 L818.3,279.6 L818.5,278.6 L818.6,277.6 L818.8,276.6 L819.0,275.6 L819.1,274.6 L819.1,273.6 L819.1,272.6 L819.1,271.6 L819.1,270.6 L819.1,269.6 L819.1,268.6 L819.1,267.6 L819.1,266.6 L819.1,265.6 L819.1,264.6Z" fill="#ff69b4" stroke="#000" stroke-width="1.45" stroke-linejoin="round"/>
<line x1="819.7" y1="308.2" x2="819.7" y2="384.3" stroke="#000" stroke-width="2.7"/>
<line x1="819.7" y1="437.4" x2="819.7" y2="479.5" stroke="#000" stroke-width="2.7"/>
<line x1="808.3000000000001" y1="308.2" x2="831.1" y2="308.2" stroke="#000" stroke-width="2.7"/>
<line x1="808.3000000000001" y1="479.5" x2="831.1" y2="479.5" stroke="#000" stroke-width="2.7"/>
<rect x="796.7" y="384.3" width="46.5" height="53.1" fill="#ee1289" stroke="#000" stroke-width="2.7"/>
<line x1="796.7" y1="416.1" x2="843.2" y2="416.1" stroke="#000" stroke-width="3.2"/>
<line x1="910.3" y1="236.4" x2="910.3" y2="559.1" stroke="#000" stroke-width="1.5"/>
<path d="M910.9,256.4 L910.9,257.4 L910.9,258.4 L910.9,259.4 L910.9,260.4 L910.9,261.4 L910.9,262.4 L910.9,263.4 L910.9,264.4 L910.9,265.4 L910.9,266.4 L910.9,267.4 L910.9,268.4 L910.9,269.4 L910.9,270.4 L910.9,271.4 L911.0,272.4 L911.1,273.4 L911.1,274.4 L911.3,275.4 L911.4,276.4 L911.5,277.4 L911.5,278.4 L911.6,279.4 L911.7,280.4 L911.8,281.4 L911.9,282.4 L912.0,283.4 L912.1,284.4 L912.3,285.4 L912.4,286.4 L912.6,287.4 L912.8,288.4 L912.9,289.4 L913.1,290.4 L913.2,291.4 L913.3,292.4 L913.5,293.4 L913.6,294.4 L913.7,295.4 L913.9,296.4 L914.1,297.4 L914.3,298.4 L914.5,299.4 L914.8,300.4 L915.1,301.4 L915.4,302.4 L915.7,303.4 L916.0,304.4 L916.3,305.4 L916.6,306.4 L916.9,307.4 L917.2,308.4 L917.5,309.4 L917.8,310.4 L918.1,311.4 L918.4,312.4 L918.7,313.4 L919.0,314.4 L919.3,315.4 L919.6,316.4 L919.9,317.4 L920.2,318.4 L920.5,319.4 L920.8,320.4 L921.2,321.4 L921.5,322.4 L921.9,323.4 L922.3,324.4 L922.7,325.4 L923.0,326.4 L923.4,327.4 L923.8,328.4 L924.1,329.4 L924.4,330.4 L924.7,331.4 L925.0,332.4 L925.3,333.4 L925.7,334.4 L926.1,335.4 L926.5,336.4 L927.0,337.4 L927.5,338.4 L928.0,339.4 L928.4,340.4 L928.9,341.4 L929.3,342.4 L929.7,343.4 L930.0,344.4 L930.3,345.4 L930.6,346.4 L930.8,347.4 L930.9,348.4 L931.1,349.4 L931.2,350.4 L931.4,351.4 L931.5,352.4 L931.6,353.4 L931.7,354.4 L931.8,355.4 L931.9,356.4 L932.0,357.4 L932.1,358.4 L932.2,359.4 L932.3,360.4 L932.4,361.4 L932.4,362.4 L932.5,363.4 L932.5,364.4 L932.6,365.4 L932.7,366.4 L932.9,367.4 L933.0,368.4 L933.2,369.4 L933.4,370.4 L933.6,371.4 L933.8,372.4 L934.0,373.4 L934.3,374.4 L934.6,375.4 L934.9,376.4 L935.2,377.4 L935.5,378.4 L935.9,379.4 L936.3,380.4 L936.7,381.4 L937.2,382.4 L937.6,383.4 L938.1,384.4 L938.5,385.4 L938.9,386.4 L939.4,387.4 L939.8,388.4 L940.2,389.4 L940.7,390.4 L941.1,391.4 L941.5,392.4 L941.9,393.4 L942.3,394.4 L942.7,395.4 L943.0,396.4 L943.4,397.4 L943.8,398.4 L944.2,399.4 L944.5,400.4 L944.8,401.4 L945.2,402.4 L945.5,403.4 L945.8,404.4 L946.0,405.4 L946.3,406.4 L946.5,407.4 L946.8,408.4 L947.0,409.4 L947.2,410.4 L947.4,411.4 L947.6,412.4 L947.7,413.4 L947.9,414.4 L948.0,415.4 L948.2,416.4 L948.3,417.4 L948.4,418.4 L948.5,419.4 L948.6,420.4 L948.6,421.4 L948.7,422.4 L948.7,423.4 L948.7,424.4 L948.7,425.4 L948.7,426.4 L948.7,427.4 L948.7,428.4 L948.6,429.4 L948.5,430.4 L948.3,431.4 L948.0,432.4 L947.7,433.4 L947.3,434.4 L946.9,435.4 L946.4,436.4 L945.9,437.4 L945.4,438.4 L944.8,439.4 L944.1,440.4 L943.5,441.4 L942.8,442.4 L942.2,443.4 L941.5,444.4 L940.8,445.4 L940.1,446.4 L939.4,447.4 L938.7,448.4 L937.9,449.4 L937.2,450.4 L936.5,451.4 L935.8,452.4 L935.0,453.4 L934.3,454.4 L933.5,455.4 L932.7,456.4 L931.9,457.4 L931.1,458.4 L930.3,459.4 L929.5,460.4 L928.7,461.4 L927.9,462.4 L927.2,463.4 L926.4,464.4 L925.7,465.4 L925.1,466.4 L924.5,467.4 L923.9,468.4 L923.4,469.4 L923.0,470.4 L922.5,471.4 L922.1,472.4 L921.7,473.4 L921.3,474.4 L920.9,475.4 L920.5,476.4 L920.1,477.4 L919.8,478.4 L919.4,479.4 L919.1,480.4 L918.8,481.4 L918.4,482.4 L918.1,483.4 L917.7,484.4 L917.4,485.4 L917.0,486.4 L916.6,487.4 L916.2,488.4 L915.8,489.4 L915.5,490.4 L915.2,491.4 L915.0,492.4 L914.7,493.4 L914.5,494.4 L914.3,495.4 L914.1,496.4 L913.9,497.4 L913.7,498.4 L913.5,499.4 L913.3,500.4 L913.1,501.4 L912.9,502.4 L912.8,503.4 L912.7,504.4 L912.6,505.4 L912.6,506.4 L912.5,507.4 L912.5,508.4 L912.4,509.4 L912.3,510.4 L912.2,511.4 L912.1,512.4 L912.0,513.4 L911.9,514.4 L911.8,515.4 L911.8,516.4 L911.7,517.4 L911.6,518.4 L911.5,519.4 L911.4,520.4 L911.4,521.4 L911.3,522.4 L911.2,523.4 L911.1,524.4 L911.0,525.4 L911.0,526.4 L910.9,527.0 L909.7,527.0 L909.6,526.4 L909.6,525.4 L909.5,524.4 L909.4,523.4 L909.3,522.4 L909.2,521.4 L909.2,520.4 L909.1,519.4 L909.0,518.4 L908.9,517.4 L908.8,516.4 L908.8,515.4 L908.7,514.4 L908.6,513.4 L908.5,512.4 L908.4,511.4 L908.3,510.4 L908.2,509.4 L908.1,508.4 L908.1,507.4 L908.0,506.4 L908.0,505.4 L907.9,504.4 L907.8,503.4 L907.7,502.4 L907.5,501.4 L907.3,500.4 L907.1,499.4 L906.9,498.4 L906.7,497.4 L906.5,496.4 L906.3,495.4 L906.1,494.4 L905.9,493.4 L905.6,492.4 L905.4,491.4 L905.1,490.4 L904.8,489.4 L904.4,488.4 L904.0,487.4 L903.6,486.4 L903.2,485.4 L902.9,484.4 L902.5,483.4 L902.2,482.4 L901.8,481.4 L901.5,480.4 L901.2,479.4 L900.8,478.4 L900.5,477.4 L900.1,476.4 L899.7,475.4 L899.3,474.4 L898.9,473.4 L898.5,472.4 L898.1,471.4 L897.6,470.4 L897.2,469.4 L896.7,468.4 L896.1,467.4 L895.5,466.4 L894.9,465.4 L894.2,464.4 L893.4,463.4 L892.7,462.4 L891.9,461.4 L891.1,460.4 L890.3,459.4 L889.5,458.4 L888.7,457.4 L887.9,456.4 L887.1,455.4 L886.3,454.4 L885.6,453.4 L884.8,452.4 L884.1,451.4 L883.4,450.4 L882.7,449.4 L881.9,448.4 L881.2,447.4 L880.5,446.4 L879.8,445.4 L879.1,444.4 L878.4,443.4 L877.8,442.4 L877.1,441.4 L876.5,440.4 L875.8,439.4 L875.2,438.4 L874.7,437.4 L874.2,436.4 L873.7,435.4 L873.3,434.4 L872.9,433.4 L872.6,432.4 L872.3,431.4 L872.1,430.4 L872.0,429.4 L871.9,428.4 L871.9,427.4 L871.9,426.4 L871.9,425.4 L871.9,424.4 L871.9,423.4 L871.9,422.4 L872.0,421.4 L872.0,420.4 L872.1,419.4 L872.2,418.4 L872.3,417.4 L872.4,416.4 L872.6,415.4 L872.7,414.4 L872.9,413.4 L873.0,412.4 L873.2,411.4 L873.4,410.4 L873.6,409.4 L873.8,408.4 L874.1,407.4 L874.3,406.4 L874.6,405.4 L874.8,404.4 L875.1,403.4 L875.4,402.4 L875.8,401.4 L876.1,400.4 L876.4,399.4 L876.8,398.4 L877.2,397.4 L877.6,396.4 L877.9,395.4 L878.3,394.4 L878.7,393.4 L879.1,392.4 L879.5,391.4 L879.9,390.4 L880.4,389.4 L880.8,388.4 L881.2,387.4 L881.7,386.4 L882.1,385.4 L882.5,384.4 L883.0,383.4 L883.4,382.4 L883.9,381.4 L884.3,380.4 L884.7,379.4 L885.1,378.4 L885.4,377.4 L885.7,376.4 L886.0,375.4 L886.3,374.4 L886.6,373.4 L886.8,372.4 L887.0,371.4 L887.2,370.4 L887.4,369.4 L887.6,368.4 L887.7,367.4 L887.9,366.4 L888.0,365.4 L888.1,364.4 L888.1,363.4 L888.2,362.4 L888.2,361.4 L888.3,360.4 L888.4,359.4 L888.5,358.4 L888.6,357.4 L888.7,356.4 L888.8,355.4 L888.9,354.4 L889.0,353.4 L889.1,352.4 L889.2,351.4 L889.4,350.4 L889.5,349.4 L889.7,348.4 L889.8,347.4 L890.0,346.4 L890.3,345.4 L890.6,344.4 L890.9,343.4 L891.3,342.4 L891.7,341.4 L892.2,340.4 L892.6,339.4 L893.1,338.4 L893.6,337.4 L894.1,336.4 L894.5,335.4 L894.9,334.4 L895.3,333.4 L895.6,332.4 L895.9,331.4 L896.2,330.4 L896.5,329.4 L896.8,328.4 L897.2,327.4 L897.6,326.4 L897.9,325.4 L898.3,324.4 L898.7,323.4 L899.1,322.4 L899.4,321.4 L899.8,320.4 L900.1,319.4 L900.4,318.4 L900.7,317.4 L901.0,316.4 L901.3,315.4 L901.6,314.4 L901.9,313.4 L902.2,312.4 L902.5,311.4 L902.8,310.4 L903.1,309.4 L903.4,308.4 L903.7,307.4 L904.0,306.4 L904.3,305.4 L904.6,304.4 L904.9,303.4 L905.2,302.4 L905.5,301.4 L905.8,300.4 L906.1,299.4 L906.3,298.4 L906.5,297.4 L906.7,296.4 L906.9,295.4 L907.0,294.4 L907.1,293.4 L907.3,292.4 L907.4,291.4 L907.5,290.4 L907.7,289.4 L907.8,288.4 L908.0,287.4 L908.2,286.4 L908.3,285.4 L908.5,284.4 L908.6,283.4 L908.7,282.4 L908.8,281.4 L908.9,280.4 L909.0,279.4 L909.1,278.4 L909.1,277.4 L909.2,276.4 L909.3,275.4 L909.5,274.4 L909.5,273.4 L909.6,272.4 L909.7,271.4 L909.7,270.4 L909.7,269.4 L909.7,268.4 L909.7,267.4 L909.7,266.4 L909.7,265.4 L909.7,264.4 L909.7,263.4 L909.7,262.4 L909.7,261.4 L909.7,260.4 L909.7,259.4 L909.7,258.4 L909.7,257.4 L909.7,256.4Z" fill="#54ff9f" stroke="#000" stroke-width="1.45" stroke-linejoin="round"/>
<line x1="910.3" y1="295.3" x2="910.3" y2="370.3" stroke="#000" stroke-width="2.7"/>
<line x1="910.3" y1="431.6" x2="910.3" y2="501.2" stroke="#000" stroke-width="2.7"/>
<line x1="898.9" y1="295.3" x2="921.6999999999999" y2="295.3" stroke="#000" stroke-width="2.7"/>
<line x1="898.9" y1="501.2" x2="921.6999999999999" y2="501.2" stroke="#000" stroke-width="2.7"/>
<rect x="887.1" y="370.3" width="46.4" height="61.3" fill="#00cd66" stroke="#000" stroke-width="2.7"/>
<line x1="887.1" y1="407.4" x2="933.5" y2="407.4" stroke="#000" stroke-width="3.2"/>
<line x1="1001.0" y1="229.6" x2="1001.0" y2="562.9" stroke="#000" stroke-width="1.5"/>
<path d="M1001.6,248.2 L1001.6,249.2 L1001.6,250.2 L1001.6,251.2 L1001.6,252.2 L1001.6,253.2 L1001.6,254.2 L1001.6,255.2 L1001.6,256.2 L1001.6,257.2 L1001.6,258.2 L1001.6,259.2 L1001.6,260.2 L1001.6,261.2 L1001.6,262.2 L1001.6,263.2 L1001.6,264.2 L1001.9,265.2 L1002.0,266.2 L1002.2,267.2 L1002.3,268.2 L1002.3,269.2 L1002.4,270.2 L1002.5,271.2 L1002.7,272.2 L1002.8,273.2 L1003.0,274.2 L1003.2,275.2 L1003.3,276.2 L1003.5,277.2 L1003.6,278.2 L1003.8,279.2 L1004.0,280.2 L1004.1,281.2 L1004.3,282.2 L1004.4,283.2 L1004.6,284.2 L1004.8,285.2 L1005.0,286.2 L1005.2,287.2 L1005.4,288.2 L1005.6,289.2 L1005.8,290.2 L1006.0,291.2 L1006.2,292.2 L1006.4,293.2 L1006.6,294.2 L1006.8,295.2 L1007.0,296.2 L1007.2,297.2 L1007.4,298.2 L1007.6,299.2 L1007.8,300.2 L1008.0,301.2 L1008.2,302.2 L1008.4,303.2 L1008.6,304.2 L1008.8,305.2 L1009.0,306.2 L1009.2,307.2 L1009.4,308.2 L1009.6,309.2 L1009.8,310.2 L1010.0,311.2 L1010.2,312.2 L1010.4,313.2 L1010.6,314.2 L1010.8,315.2 L1011.0,316.2 L1011.2,317.2 L1011.4,318.2 L1011.7,319.2 L1011.9,320.2 L1012.1,321.2 L1012.3,322.2 L1012.5,323.2 L1012.7,324.2 L1013.0,325.2 L1013.2,326.2 L1013.4,327.2 L1013.6,328.2 L1013.7,329.2 L1013.9,330.2 L1014.1,331.2 L1014.2,332.2 L1014.4,333.2 L1014.5,334.2 L1014.6,335.2 L1014.8,336.2 L1014.9,337.2 L1015.0,338.2 L1015.1,339.2 L1015.4,340.2 L1015.6,341.2 L1016.0,342.2 L1016.5,343.2 L1016.9,344.2 L1017.4,345.2 L1017.9,346.2 L1018.4,347.2 L1018.9,348.2 L1019.4,349.2 L1019.9,350.2 L1020.4,351.2 L1020.9,352.2 L1021.5,353.2 L1022.0,354.2 L1022.6,355.2 L1023.2,356.2 L1023.9,357.2 L1024.5,358.2 L1025.1,359.2 L1025.7,360.2 L1026.3,361.2 L1026.9,362.2 L1027.5,363.2 L1028.1,364.2 L1028.6,365.2 L1029.2,366.2 L1029.7,367.2 L1030.2,368.2 L1030.7,369.2 L1031.2,370.2 L1031.7,371.2 L1032.1,372.2 L1032.6,373.2 L1033.0,374.2 L1033.4,375.2 L1033.8,376.2 L1034.1,377.2 L1034.5,378.2 L1034.9,379.2 L1035.2,380.2 L1035.5,381.2 L1035.9,382.2 L1036.2,383.2 L1036.5,384.2 L1036.8,385.2 L1037.0,386.2 L1037.3,387.2 L1037.5,388.2 L1037.7,389.2 L1037.9,390.2 L1038.1,391.2 L1038.3,392.2 L1038.5,393.2 L1038.7,394.2 L1038.8,395.2 L1039.0,396.2 L1039.1,397.2 L1039.3,398.2 L1039.4,399.2 L1039.5,400.2 L1039.6,401.2 L1039.7,402.2 L1039.8,403.2 L1039.9,404.2 L1040.0,405.2 L1040.1,406.2 L1040.2,407.2 L1040.2,408.2 L1040.3,409.2 L1040.3,410.2 L1040.2,411.2 L1040.2,412.2 L1040.1,413.2 L1040.0,414.2 L1039.9,415.2 L1039.9,416.2 L1039.8,417.2 L1039.7,418.2 L1039.6,419.2 L1039.4,420.2 L1039.3,421.2 L1039.2,422.2 L1039.0,423.2 L1038.8,424.2 L1038.6,425.2 L1038.4,426.2 L1038.2,427.2 L1037.9,428.2 L1037.7,429.2 L1037.4,430.2 L1037.2,431.2 L1036.9,432.2 L1036.6,433.2 L1036.2,434.2 L1035.9,435.2 L1035.5,436.2 L1035.1,437.2 L1034.6,438.2 L1034.1,439.2 L1033.6,440.2 L1033.2,441.2 L1032.7,442.2 L1032.2,443.2 L1031.7,444.2 L1031.3,445.2 L1030.8,446.2 L1030.3,447.2 L1029.8,448.2 L1029.3,449.2 L1028.8,450.2 L1028.3,451.2 L1027.8,452.2 L1027.3,453.2 L1026.9,454.2 L1026.4,455.2 L1026.0,456.2 L1025.5,457.2 L1025.1,458.2 L1024.6,459.2 L1024.1,460.2 L1023.7,461.2 L1023.2,462.2 L1022.7,463.2 L1022.2,464.2 L1021.7,465.2 L1021.2,466.2 L1020.7,467.2 L1020.3,468.2 L1019.8,469.2 L1019.3,470.2 L1018.9,471.2 L1018.4,472.2 L1017.9,473.2 L1017.5,474.2 L1017.0,475.2 L1016.5,476.2 L1016.1,477.2 L1015.7,478.2 L1015.4,479.2 L1015.2,480.2 L1015.0,481.2 L1014.8,482.2 L1014.6,483.2 L1014.4,484.2 L1014.1,485.2 L1013.8,486.2 L1013.4,487.2 L1013.0,488.2 L1012.6,489.2 L1012.2,490.2 L1011.8,491.2 L1011.4,492.2 L1011.0,493.2 L1010.6,494.2 L1010.2,495.2 L1009.8,496.2 L1009.4,497.2 L1008.9,498.2 L1008.5,499.2 L1008.1,500.2 L1007.7,501.2 L1007.4,502.2 L1007.0,503.2 L1006.7,504.2 L1006.4,505.2 L1006.1,506.2 L1005.8,507.2 L1005.5,508.2 L1005.2,509.2 L1005.0,510.2 L1004.7,511.2 L1004.5,512.2 L1004.3,513.2 L1004.1,514.2 L1003.9,515.2 L1003.7,516.2 L1003.5,517.2 L1003.4,518.2 L1003.2,519.2 L1003.1,520.2 L1002.9,521.2 L1002.8,522.2 L1002.6,523.2 L1002.4,524.2 L1002.3,525.2 L1002.1,526.2 L1002.0,527.2 L1001.9,528.2 L1001.8,529.2 L1001.7,530.2 L1001.7,531.2 L1001.6,532.2 L1001.6,533.0 L1000.4,533.0 L1000.4,532.2 L1000.3,531.2 L1000.3,530.2 L1000.2,529.2 L1000.1,528.2 L1000.0,527.2 L999.9,526.2 L999.7,525.2 L999.6,524.2 L999.4,523.2 L999.2,522.2 L999.1,521.2 L998.9,520.2 L998.8,519.2 L998.6,518.2 L998.5,517.2 L998.3,516.2 L998.1,515.2 L997.9,514.2 L997.7,513.2 L997.5,512.2 L997.3,511.2 L997.0,510.2 L996.8,509.2 L996.5,508.2 L996.2,507.2 L995.9,506.2 L995.6,505.2 L995.3,504.2 L995.0,503.2 L994.6,502.2 L994.3,501.2 L993.9,500.2 L993.5,499.2 L993.1,498.2 L992.6,497.2 L992.2,496.2 L991.8,495.2 L991.4,494.2 L991.0,493.2 L990.6,492.2 L990.2,491.2 L989.8,490.2 L989.4,489.2 L989.0,488.2 L988.6,487.2 L988.2,486.2 L987.9,485.2 L987.6,484.2 L987.4,483.2 L987.2,482.2 L987.0,481.2 L986.8,480.2 L986.6,479.2 L986.3,478.2 L985.9,477.2 L985.5,476.2 L985.0,475.2 L984.5,474.2 L984.1,473.2 L983.6,472.2 L983.1,471.2 L982.7,470.2 L982.2,469.2 L981.7,468.2 L981.3,467.2 L980.8,466.2 L980.3,465.2 L979.8,464.2 L979.3,463.2 L978.8,462.2 L978.3,461.2 L977.9,460.2 L977.4,459.2 L976.9,458.2 L976.5,457.2 L976.0,456.2 L975.6,455.2 L975.1,454.2 L974.7,453.2 L974.2,452.2 L973.7,451.2 L973.2,450.2 L972.7,449.2 L972.2,448.2 L971.7,447.2 L971.2,446.2 L970.7,445.2 L970.3,444.2 L969.8,443.2 L969.3,442.2 L968.8,441.2 L968.4,440.2 L967.9,439.2 L967.4,438.2 L966.9,437.2 L966.5,436.2 L966.1,435.2 L965.8,434.2 L965.4,433.2 L965.1,432.2 L964.8,431.2 L964.6,430.2 L964.3,429.2 L964.1,428.2 L963.8,427.2 L963.6,426.2 L963.4,425.2 L963.2,424.2 L963.0,423.2 L962.8,422.2 L962.7,421.2 L962.6,420.2 L962.4,419.2 L962.3,418.2 L962.2,417.2 L962.1,416.2 L962.1,415.2 L962.0,414.2 L961.9,413.2 L961.8,412.2 L961.8,411.2 L961.7,410.2 L961.7,409.2 L961.8,408.2 L961.8,407.2 L961.9,406.2 L962.0,405.2 L962.1,404.2 L962.2,403.2 L962.3,402.2 L962.4,401.2 L962.5,400.2 L962.6,399.2 L962.7,398.2 L962.9,397.2 L963.0,396.2 L963.2,395.2 L963.3,394.2 L963.5,393.2 L963.7,392.2 L963.9,391.2 L964.1,390.2 L964.3,389.2 L964.5,388.2 L964.7,387.2 L965.0,386.2 L965.2,385.2 L965.5,384.2 L965.8,383.2 L966.1,382.2 L966.5,381.2 L966.8,380.2 L967.1,379.2 L967.5,378.2 L967.9,377.2 L968.2,376.2 L968.6,375.2 L969.0,374.2 L969.4,373.2 L969.9,372.2 L970.3,371.2 L970.8,370.2 L971.3,369.2 L971.8,368.2 L972.3,367.2 L972.8,366.2 L973.4,365.2 L973.9,364.2 L974.5,363.2 L975.1,362.2 L975.7,361.2 L976.3,360.2 L976.9,359.2 L977.5,358.2 L978.1,357.2 L978.8,356.2 L979.4,355.2 L980.0,354.2 L980.5,353.2 L981.1,352.2 L981.6,351.2 L982.1,350.2 L982.6,349.2 L983.1,348.2 L983.6,347.2 L984.1,346.2 L984.6,345.2 L985.1,344.2 L985.5,343.2 L986.0,342.2 L986.4,341.2 L986.6,340.2 L986.9,339.2 L987.0,338.2 L987.1,337.2 L987.2,336.2 L987.4,335.2 L987.5,334.2 L987.6,333.2 L987.8,332.2 L987.9,331.2 L988.1,330.2 L988.3,329.2 L988.4,328.2 L988.6,327.2 L988.8,326.2 L989.0,325.2 L989.3,324.2 L989.5,323.2 L989.7,322.2 L989.9,321.2 L990.1,320.2 L990.3,319.2 L990.6,318.2 L990.8,317.2 L991.0,316.2 L991.2,315.2 L991.4,314.2 L991.6,313.2 L991.8,312.2 L992.0,311.2 L992.2,310.2 L992.4,309.2 L992.6,308.2 L992.8,307.2 L993.0,306.2 L993.2,305.2 L993.4,304.2 L993.6,303.2 L993.8,302.2 L994.0,301.2 L994.2,300.2 L994.4,299.2 L994.6,298.2 L994.8,297.2 L995.0,296.2 L995.2,295.2 L995.4,294.2 L995.6,293.2 L995.8,292.2 L996.0,291.2 L996.2,290.2 L996.4,289.2 L996.6,288.2 L996.8,287.2 L997.0,286.2 L997.2,285.2 L997.4,284.2 L997.6,283.2 L997.7,282.2 L997.9,281.2 L998.0,280.2 L998.2,279.2 L998.4,278.2 L998.5,277.2 L998.7,276.2 L998.8,275.2 L999.0,274.2 L999.2,273.2 L999.3,272.2 L999.5,271.2 L999.6,270.2 L999.7,269.2 L999.7,268.2 L999.8,267.2 L1000.0,266.2 L1000.1,265.2 L1000.4,264.2 L1000.4,263.2 L1000.4,262.2 L1000.4,261.2 L1000.4,260.2 L1000.4,259.2 L1000.4,258.2 L1000.4,257.2 L1000.4,256.2 L1000.4,255.2 L1000.4,254.2 L1000.4,253.2 L1000.4,252.2 L1000.4,251.2 L1000.4,250.2 L1000.4,249.2 L1000.4,248.2Z" fill="#ffb90f" stroke="#000" stroke-width="1.45" stroke-linejoin="round"/>
<line x1="1001.0" y1="302.2" x2="1001.0" y2="377.0" stroke="#000" stroke-width="2.7"/>
<line x1="1001.0" y1="439.5" x2="1001.0" y2="490.9" stroke="#000" stroke-width="2.7"/>
<line x1="989.6" y1="302.2" x2="1012.4" y2="302.2" stroke="#000" stroke-width="2.7"/>
<line x1="989.6" y1="490.9" x2="1012.4" y2="490.9" stroke="#000" stroke-width="2.7"/>
<rect x="979.0" y="377.0" width="45.0" height="62.5" fill="#ff7f00" stroke="#000" stroke-width="2.7"/>
<line x1="979.0" y1="408.8" x2="1024.0" y2="408.8" stroke="#000" stroke-width="3.2"/>
<line x1="1092.4" y1="257.4" x2="1092.4" y2="564.1" stroke="#000" stroke-width="1.5"/>
<path d="M1093.0,286.1 L1093.0,287.1 L1093.1,288.1 L1093.1,289.1 L1093.2,290.1 L1093.3,291.1 L1093.4,292.1 L1093.6,293.1 L1093.9,294.1 L1094.1,295.1 L1094.4,296.1 L1094.7,297.1 L1094.9,298.1 L1095.2,299.1 L1095.5,300.1 L1095.8,301.1 L1096.1,302.1 L1096.4,303.1 L1096.6,304.1 L1096.9,305.1 L1097.2,306.1 L1097.4,307.1 L1097.7,308.1 L1097.9,309.1 L1098.2,310.1 L1098.5,311.1 L1098.8,312.1 L1099.1,313.1 L1099.4,314.1 L1099.7,315.1 L1100.0,316.1 L1100.3,317.1 L1100.6,318.1 L1100.9,319.1 L1101.2,320.1 L1101.5,321.1 L1101.8,322.1 L1102.1,323.1 L1102.4,324.1 L1102.7,325.1 L1103.0,326.1 L1103.3,327.1 L1103.6,328.1 L1103.9,329.1 L1104.2,330.1 L1104.5,331.1 L1104.8,332.1 L1105.1,333.1 L1105.4,334.1 L1105.7,335.1 L1106.1,336.1 L1106.4,337.1 L1106.7,338.1 L1107.1,339.1 L1107.5,340.1 L1107.9,341.1 L1108.4,342.1 L1108.9,343.1 L1109.4,344.1 L1109.9,345.1 L1110.4,346.1 L1110.9,347.1 L1111.4,348.1 L1111.8,349.1 L1112.3,350.1 L1112.8,351.1 L1113.3,352.1 L1113.7,353.1 L1114.2,354.1 L1114.6,355.1 L1115.1,356.1 L1115.5,357.1 L1115.9,358.1 L1116.4,359.1 L1116.9,360.1 L1117.3,361.1 L1117.8,362.1 L1118.2,363.1 L1118.7,364.1 L1119.1,365.1 L1119.5,366.1 L1119.9,367.1 L1120.3,368.1 L1120.7,369.1 L1121.1,370.1 L1121.5,371.1 L1121.9,372.1 L1122.3,373.1 L1122.7,374.1 L1123.1,375.1 L1123.5,376.1 L1123.9,377.1 L1124.3,378.1 L1124.6,379.1 L1125.0,380.1 L1125.4,381.1 L1125.7,382.1 L1126.0,383.1 L1126.3,384.1 L1126.6,385.1 L1126.9,386.1 L1127.2,387.1 L1127.5,388.1 L1127.7,389.1 L1128.0,390.1 L1128.3,391.1 L1128.6,392.1 L1128.8,393.1 L1129.1,394.1 L1129.4,395.1 L1129.6,396.1 L1129.8,397.1 L1130.0,398.1 L1130.2,399.1 L1130.4,400.1 L1130.5,401.1 L1130.7,402.1 L1130.8,403.1 L1131.0,404.1 L1131.1,405.1 L1131.3,406.1 L1131.4,407.1 L1131.5,408.1 L1131.7,409.1 L1131.8,410.1 L1131.9,411.1 L1132.0,412.1 L1132.1,413.1 L1132.2,414.1 L1132.2,415.1 L1132.3,416.1 L1132.3,417.1 L1132.3,418.1 L1132.4,419.1 L1132.4,420.1 L1132.4,421.1 L1132.4,422.1 L1132.4,423.1 L1132.3,424.1 L1132.3,425.1 L1132.2,426.1 L1132.2,427.1 L1132.1,428.1 L1132.0,429.1 L1132.0,430.1 L1131.9,431.1 L1131.8,432.1 L1131.7,433.1 L1131.6,434.1 L1131.4,435.1 L1131.3,436.1 L1131.2,437.1 L1131.0,438.1 L1130.8,439.1 L1130.6,440.1 L1130.4,441.1 L1130.2,442.1 L1129.9,443.1 L1129.6,444.1 L1129.3,445.1 L1128.9,446.1 L1128.5,447.1 L1128.1,448.1 L1127.7,449.1 L1127.2,450.1 L1126.7,451.1 L1126.1,452.1 L1125.6,453.1 L1125.0,454.1 L1124.5,455.1 L1123.9,456.1 L1123.3,457.1 L1122.7,458.1 L1122.1,459.1 L1121.5,460.1 L1120.9,461.1 L1120.3,462.1 L1119.7,463.1 L1119.1,464.1 L1118.5,465.1 L1117.9,466.1 L1117.3,467.1 L1116.7,468.1 L1116.1,469.1 L1115.5,470.1 L1114.9,471.1 L1114.3,472.1 L1113.6,473.1 L1113.0,474.1 L1112.4,475.1 L1111.9,476.1 L1111.4,477.1 L1111.1,478.1 L1110.8,479.1 L1110.5,480.1 L1110.3,481.1 L1110.1,482.1 L1109.9,483.1 L1109.6,484.1 L1109.2,485.1 L1108.8,486.1 L1108.3,487.1 L1107.8,488.1 L1107.2,489.1 L1106.7,490.1 L1106.2,491.1 L1105.7,492.1 L1105.2,493.1 L1104.7,494.1 L1104.2,495.1 L1103.7,496.1 L1103.2,497.1 L1102.8,498.1 L1102.3,499.1 L1101.8,500.1 L1101.4,501.1 L1101.0,502.1 L1100.5,503.1 L1100.1,504.1 L1099.7,505.1 L1099.3,506.1 L1098.9,507.1 L1098.5,508.1 L1098.1,509.1 L1097.8,510.1 L1097.4,511.1 L1097.0,512.1 L1096.7,513.1 L1096.4,514.1 L1096.1,515.1 L1095.8,516.1 L1095.5,517.1 L1095.2,518.1 L1095.0,519.1 L1094.8,520.1 L1094.6,521.1 L1094.4,522.1 L1094.2,523.1 L1094.1,524.1 L1093.9,525.1 L1093.8,526.1 L1093.6,527.1 L1093.4,528.1 L1093.3,529.1 L1093.1,530.1 L1093.0,531.1 L1093.0,532.1 L1093.0,533.1 L1093.0,534.1 L1093.0,535.1 L1093.0,536.1 L1093.0,536.6 L1091.8,536.6 L1091.8,536.1 L1091.8,535.1 L1091.8,534.1 L1091.8,533.1 L1091.8,532.1 L1091.8,531.1 L1091.7,530.1 L1091.5,529.1 L1091.4,528.1 L1091.2,527.1 L1091.0,526.1 L1090.9,525.1 L1090.7,524.1 L1090.6,523.1 L1090.4,522.1 L1090.2,521.1 L1090.0,520.1 L1089.8,519.1 L1089.6,518.1 L1089.3,517.1 L1089.0,516.1 L1088.7,515.1 L1088.4,514.1 L1088.1,513.1 L1087.8,512.1 L1087.4,511.1 L1087.0,510.1 L1086.7,509.1 L1086.3,508.1 L1085.9,507.1 L1085.5,506.1 L1085.1,505.1 L1084.7,504.1 L1084.3,503.1 L1083.8,502.1 L1083.4,501.1 L1083.0,500.1 L1082.5,499.1 L1082.0,498.1 L1081.6,497.1 L1081.1,496.1 L1080.6,495.1 L1080.1,494.1 L1079.6,493.1 L1079.1,492.1 L1078.6,491.1 L1078.1,490.1 L1077.6,489.1 L1077.0,488.1 L1076.5,487.1 L1076.0,486.1 L1075.6,485.1 L1075.2,484.1 L1074.9,483.1 L1074.7,482.1 L1074.5,481.1 L1074.3,480.1 L1074.0,479.1 L1073.7,478.1 L1073.4,477.1 L1072.9,476.1 L1072.4,475.1 L1071.8,474.1 L1071.2,473.1 L1070.5,472.1 L1069.9,471.1 L1069.3,470.1 L1068.7,469.1 L1068.1,468.1 L1067.5,467.1 L1066.9,466.1 L1066.3,465.1 L1065.7,464.1 L1065.1,463.1 L1064.5,462.1 L1063.9,461.1 L1063.3,460.1 L1062.7,459.1 L1062.1,458.1 L1061.5,457.1 L1060.9,456.1 L1060.3,455.1 L1059.8,454.1 L1059.2,453.1 L1058.7,452.1 L1058.1,451.1 L1057.6,450.1 L1057.1,449.1 L1056.7,448.1 L1056.3,447.1 L1055.9,446.1 L1055.5,445.1 L1055.2,444.1 L1054.9,443.1 L1054.6,442.1 L1054.4,441.1 L1054.2,440.1 L1054.0,439.1 L1053.8,438.1 L1053.6,437.1 L1053.5,436.1 L1053.4,435.1 L1053.2,434.1 L1053.1,433.1 L1053.0,432.1 L1052.9,431.1 L1052.8,430.1 L1052.8,429.1 L1052.7,428.1 L1052.6,427.1 L1052.6,426.1 L1052.5,425.1 L1052.5,424.1 L1052.4,423.1 L1052.4,422.1 L1052.4,421.1 L1052.4,420.1 L1052.4,419.1 L1052.5,418.1 L1052.5,417.1 L1052.5,416.1 L1052.6,415.1 L1052.6,414.1 L1052.7,413.1 L1052.8,412.1 L1052.9,411.1 L1053.0,410.1 L1053.1,409.1 L1053.3,408.1 L1053.4,407.1 L1053.5,406.1 L1053.7,405.1 L1053.8,404.1 L1054.0,403.1 L1054.1,402.1 L1054.3,401.1 L1054.4,400.1 L1054.6,399.1 L1054.8,398.1 L1055.0,397.1 L1055.2,396.1 L1055.4,395.1 L1055.7,394.1 L1056.0,393.1 L1056.2,392.1 L1056.5,391.1 L1056.8,390.1 L1057.1,389.1 L1057.3,388.1 L1057.6,387.1 L1057.9,386.1 L1058.2,385.1 L1058.5,384.1 L1058.8,383.1 L1059.1,382.1 L1059.4,381.1 L1059.8,380.1 L1060.2,379.1 L1060.5,378.1 L1060.9,377.1 L1061.3,376.1 L1061.7,375.1 L1062.1,374.1 L1062.5,373.1 L1062.9,372.1 L1063.3,371.1 L1063.7,370.1 L1064.1,369.1 L1064.5,368.1 L1064.9,367.1 L1065.3,366.1 L1065.7,365.1 L1066.1,364.1 L1066.6,363.1 L1067.0,362.1 L1067.5,361.1 L1067.9,360.1 L1068.4,359.1 L1068.9,358.1 L1069.3,357.1 L1069.7,356.1 L1070.2,355.1 L1070.6,354.1 L1071.1,353.1 L1071.5,352.1 L1072.0,351.1 L1072.5,350.1 L1073.0,349.1 L1073.4,348.1 L1073.9,347.1 L1074.4,346.1 L1074.9,345.1 L1075.4,344.1 L1075.9,343.1 L1076.4,342.1 L1076.9,341.1 L1077.3,340.1 L1077.7,339.1 L1078.1,338.1 L1078.4,337.1 L1078.7,336.1 L1079.1,335.1 L1079.4,334.1 L1079.7,333.1 L1080.0,332.1 L1080.3,331.1 L1080.6,330.1 L1080.9,329.1 L1081.2,328.1 L1081.5,327.1 L1081.8,326.1 L1082.1,325.1 L1082.4,324.1 L1082.7,323.1 L1083.0,322.1 L1083.3,321.1 L1083.6,320.1 L1083.9,319.1 L1084.2,318.1 L1084.5,317.1 L1084.8,316.1 L1085.1,315.1 L1085.4,314.1 L1085.7,313.1 L1086.0,312.1 L1086.3,311.1 L1086.6,310.1 L1086.9,309.1 L1087.1,308.1 L1087.4,307.1 L1087.6,306.1 L1087.9,305.1 L1088.2,304.1 L1088.4,303.1 L1088.7,302.1 L1089.0,301.1 L1089.3,300.1 L1089.6,299.1 L1089.9,298.1 L1090.1,297.1 L1090.4,296.1 L1090.7,295.1 L1090.9,294.1 L1091.2,293.1 L1091.4,292.1 L1091.5,291.1 L1091.6,290.1 L1091.7,289.1 L1091.7,288.1 L1091.8,287.1 L1091.8,286.1Z" fill="#63b8ff" stroke="#0a1a3a" stroke-width="1.25" stroke-linejoin="round"/>
<line x1="1092.4" y1="332.5" x2="1092.4" y2="387.3" stroke="#000" stroke-width="2.7"/>
<line x1="1092.4" y1="444.9" x2="1092.4" y2="488.6" stroke="#000" stroke-width="2.7"/>
<line x1="1081.0" y1="332.5" x2="1103.8000000000002" y2="332.5" stroke="#000" stroke-width="2.7"/>
<line x1="1081.0" y1="488.6" x2="1103.8000000000002" y2="488.6" stroke="#000" stroke-width="2.7"/>
<rect x="1069.2" y="387.3" width="46.4" height="57.6" fill="#436eee" stroke="#000" stroke-width="2.7"/>
<line x1="1069.2" y1="416.1" x2="1115.6" y2="416.1" stroke="#000" stroke-width="3.2"/>
<line x1="1182.2" y1="241.1" x2="1182.2" y2="541.5" stroke="#000" stroke-width="1.5"/>
<path d="M1182.8,252.6 L1182.8,253.6 L1182.8,254.6 L1182.8,255.6 L1182.8,256.6 L1182.8,257.6 L1182.8,258.6 L1182.8,259.6 L1182.8,260.6 L1182.8,261.6 L1182.8,262.6 L1182.8,263.6 L1182.8,264.6 L1182.8,265.6 L1182.8,266.6 L1182.8,267.6 L1182.8,268.6 L1182.8,269.6 L1182.9,270.6 L1183.0,271.6 L1183.1,272.6 L1183.2,273.6 L1183.3,274.6 L1183.5,275.6 L1183.6,276.6 L1183.8,277.6 L1183.9,278.6 L1184.1,279.6 L1184.3,280.6 L1184.5,281.6 L1184.8,282.6 L1185.0,283.6 L1185.2,284.6 L1185.3,285.6 L1185.5,286.6 L1185.7,287.6 L1185.9,288.6 L1186.0,289.6 L1186.2,290.6 L1186.4,291.6 L1186.6,292.6 L1186.8,293.6 L1187.0,294.6 L1187.2,295.6 L1187.4,296.6 L1187.6,297.6 L1187.7,298.6 L1187.9,299.6 L1188.1,300.6 L1188.3,301.6 L1188.5,302.6 L1188.7,303.6 L1188.9,304.6 L1189.1,305.6 L1189.3,306.6 L1189.4,307.6 L1189.6,308.6 L1189.9,309.6 L1190.1,310.6 L1190.3,311.6 L1190.6,312.6 L1190.8,313.6 L1191.1,314.6 L1191.4,315.6 L1191.6,316.6 L1191.9,317.6 L1192.3,318.6 L1192.6,319.6 L1192.9,320.6 L1193.2,321.6 L1193.6,322.6 L1193.9,323.6 L1194.3,324.6 L1194.6,325.6 L1195.0,326.6 L1195.3,327.6 L1195.7,328.6 L1196.0,329.6 L1196.4,330.6 L1196.8,331.6 L1197.1,332.6 L1197.5,333.6 L1197.9,334.6 L1198.2,335.6 L1198.6,336.6 L1199.0,337.6 L1199.4,338.6 L1199.9,339.6 L1200.3,340.6 L1200.8,341.6 L1201.3,342.6 L1201.8,343.6 L1202.3,344.6 L1202.8,345.6 L1203.3,346.6 L1203.8,347.6 L1204.3,348.6 L1204.7,349.6 L1205.2,350.6 L1205.6,351.6 L1206.0,352.6 L1206.4,353.6 L1206.8,354.6 L1207.2,355.6 L1207.5,356.6 L1207.8,357.6 L1208.1,358.6 L1208.3,359.6 L1208.5,360.6 L1208.6,361.6 L1208.8,362.6 L1208.9,363.6 L1209.0,364.6 L1209.1,365.6 L1209.2,366.6 L1209.3,367.6 L1209.3,368.6 L1209.4,369.6 L1209.4,370.6 L1209.5,371.6 L1209.6,372.6 L1209.6,373.6 L1209.7,374.6 L1209.7,375.6 L1209.7,376.6 L1209.8,377.6 L1209.8,378.6 L1209.8,379.6 L1209.8,380.6 L1209.9,381.6 L1209.9,382.6 L1209.9,383.6 L1209.9,384.6 L1209.9,385.6 L1210.0,386.6 L1210.0,387.6 L1210.1,388.6 L1210.2,389.6 L1210.2,390.6 L1210.3,391.6 L1210.5,392.6 L1210.6,393.6 L1210.8,394.6 L1211.0,395.6 L1211.2,396.6 L1211.5,397.6 L1211.9,398.6 L1212.4,399.6 L1212.8,400.6 L1213.3,401.6 L1213.8,402.6 L1214.3,403.6 L1214.8,404.6 L1215.3,405.6 L1215.8,406.6 L1216.2,407.6 L1216.6,408.6 L1217.0,409.6 L1217.4,410.6 L1217.8,411.6 L1218.1,412.6 L1218.5,413.6 L1218.8,414.6 L1219.0,415.6 L1219.3,416.6 L1219.5,417.6 L1219.7,418.6 L1219.9,419.6 L1220.1,420.6 L1220.2,421.6 L1220.3,422.6 L1220.5,423.6 L1220.6,424.6 L1220.6,425.6 L1220.7,426.6 L1220.8,427.6 L1220.8,428.6 L1220.8,429.6 L1220.8,430.6 L1220.8,431.6 L1220.8,432.6 L1220.8,433.6 L1220.8,434.6 L1220.8,435.6 L1220.8,436.6 L1220.8,437.6 L1220.8,438.6 L1220.7,439.6 L1220.7,440.6 L1220.5,441.6 L1220.3,442.6 L1220.1,443.6 L1219.9,444.6 L1219.6,445.6 L1219.4,446.6 L1219.2,447.6 L1219.0,448.6 L1218.7,449.6 L1218.5,450.6 L1218.1,451.6 L1217.7,452.6 L1217.3,453.6 L1216.9,454.6 L1216.4,455.6 L1216.0,456.6 L1215.5,457.6 L1215.0,458.6 L1214.5,459.6 L1214.0,460.6 L1213.5,461.6 L1213.0,462.6 L1212.5,463.6 L1212.0,464.6 L1211.4,465.6 L1210.9,466.6 L1210.3,467.6 L1209.7,468.6 L1209.1,469.6 L1208.4,470.6 L1207.7,471.6 L1206.9,472.6 L1206.2,473.6 L1205.4,474.6 L1204.7,475.6 L1204.0,476.6 L1203.3,477.6 L1202.6,478.6 L1202.0,479.6 L1201.4,480.6 L1200.8,481.6 L1200.2,482.6 L1199.6,483.6 L1199.1,484.6 L1198.5,485.6 L1197.9,486.6 L1197.2,487.6 L1196.5,488.6 L1195.9,489.6 L1195.2,490.6 L1194.5,491.6 L1193.8,492.6 L1193.2,493.6 L1192.5,494.6 L1191.9,495.6 L1191.3,496.6 L1190.7,497.6 L1190.2,498.6 L1189.6,499.6 L1189.1,500.6 L1188.6,501.6 L1188.1,502.6 L1187.6,503.6 L1187.2,504.6 L1186.8,505.6 L1186.5,506.6 L1186.1,507.6 L1185.8,508.6 L1185.5,509.6 L1185.3,510.6 L1185.0,511.6 L1184.8,512.6 L1184.6,513.6 L1184.4,514.6 L1184.2,515.6 L1184.0,516.6 L1183.8,517.6 L1183.5,518.6 L1183.3,519.6 L1183.0,520.6 L1182.9,521.0 L1181.5,521.0 L1181.4,520.6 L1181.1,519.6 L1180.9,518.6 L1180.6,517.6 L1180.4,516.6 L1180.2,515.6 L1180.0,514.6 L1179.8,513.6 L1179.6,512.6 L1179.4,511.6 L1179.1,510.6 L1178.9,509.6 L1178.6,508.6 L1178.3,507.6 L1177.9,506.6 L1177.6,505.6 L1177.2,504.6 L1176.8,503.6 L1176.3,502.6 L1175.8,501.6 L1175.3,500.6 L1174.8,499.6 L1174.2,498.6 L1173.7,497.6 L1173.1,496.6 L1172.5,495.6 L1171.9,494.6 L1171.2,493.6 L1170.6,492.6 L1169.9,491.6 L1169.2,490.6 L1168.5,489.6 L1167.9,488.6 L1167.2,487.6 L1166.5,486.6 L1165.9,485.6 L1165.3,484.6 L1164.8,483.6 L1164.2,482.6 L1163.6,481.6 L1163.0,480.6 L1162.4,479.6 L1161.8,478.6 L1161.1,477.6 L1160.4,476.6 L1159.7,475.6 L1159.0,474.6 L1158.2,473.6 L1157.5,472.6 L1156.7,471.6 L1156.0,470.6 L1155.3,469.6 L1154.7,468.6 L1154.1,467.6 L1153.5,466.6 L1153.0,465.6 L1152.4,464.6 L1151.9,463.6 L1151.4,462.6 L1150.9,461.6 L1150.4,460.6 L1149.9,459.6 L1149.4,458.6 L1148.9,457.6 L1148.4,456.6 L1148.0,455.6 L1147.5,454.6 L1147.1,453.6 L1146.7,452.6 L1146.3,451.6 L1145.9,450.6 L1145.7,449.6 L1145.4,448.6 L1145.2,447.6 L1145.0,446.6 L1144.8,445.6 L1144.5,444.6 L1144.3,443.6 L1144.1,442.6 L1143.9,441.6 L1143.7,440.6 L1143.7,439.6 L1143.6,438.6 L1143.6,437.6 L1143.6,436.6 L1143.6,435.6 L1143.6,434.6 L1143.6,433.6 L1143.6,432.6 L1143.6,431.6 L1143.6,430.6 L1143.6,429.6 L1143.6,428.6 L1143.6,427.6 L1143.7,426.6 L1143.8,425.6 L1143.8,424.6 L1143.9,423.6 L1144.1,422.6 L1144.2,421.6 L1144.3,420.6 L1144.5,419.6 L1144.7,418.6 L1144.9,417.6 L1145.1,416.6 L1145.4,415.6 L1145.6,414.6 L1145.9,413.6 L1146.3,412.6 L1146.6,411.6 L1147.0,410.6 L1147.4,409.6 L1147.8,408.6 L1148.2,407.6 L1148.6,406.6 L1149.1,405.6 L1149.6,404.6 L1150.1,403.6 L1150.6,402.6 L1151.1,401.6 L1151.6,400.6 L1152.0,399.6 L1152.5,398.6 L1152.9,397.6 L1153.2,396.6 L1153.4,395.6 L1153.6,394.6 L1153.8,393.6 L1153.9,392.6 L1154.1,391.6 L1154.2,390.6 L1154.2,389.6 L1154.3,388.6 L1154.4,387.6 L1154.4,386.6 L1154.5,385.6 L1154.5,384.6 L1154.5,383.6 L1154.5,382.6 L1154.5,381.6 L1154.6,380.6 L1154.6,379.6 L1154.6,378.6 L1154.6,377.6 L1154.7,376.6 L1154.7,375.6 L1154.7,374.6 L1154.8,373.6 L1154.8,372.6 L1154.9,371.6 L1155.0,370.6 L1155.0,369.6 L1155.1,368.6 L1155.1,367.6 L1155.2,366.6 L1155.3,365.6 L1155.4,364.6 L1155.5,363.6 L1155.6,362.6 L1155.8,361.6 L1155.9,360.6 L1156.1,359.6 L1156.3,358.6 L1156.6,357.6 L1156.9,356.6 L1157.2,355.6 L1157.6,354.6 L1158.0,353.6 L1158.4,352.6 L1158.8,351.6 L1159.2,350.6 L1159.7,349.6 L1160.1,348.6 L1160.6,347.6 L1161.1,346.6 L1161.6,345.6 L1162.1,344.6 L1162.6,343.6 L1163.1,342.6 L1163.6,341.6 L1164.1,340.6 L1164.5,339.6 L1165.0,338.6 L1165.4,337.6 L1165.8,336.6 L1166.2,335.6 L1166.5,334.6 L1166.9,333.6 L1167.3,332.6 L1167.6,331.6 L1168.0,330.6 L1168.4,329.6 L1168.7,328.6 L1169.1,327.6 L1169.4,326.6 L1169.8,325.6 L1170.1,324.6 L1170.5,323.6 L1170.8,322.6 L1171.2,321.6 L1171.5,320.6 L1171.8,319.6 L1172.1,318.6 L1172.5,317.6 L1172.8,316.6 L1173.0,315.6 L1173.3,314.6 L1173.6,313.6 L1173.8,312.6 L1174.1,311.6 L1174.3,310.6 L1174.5,309.6 L1174.8,308.6 L1175.0,307.6 L1175.1,306.6 L1175.3,305.6 L1175.5,304.6 L1175.7,303.6 L1175.9,302.6 L1176.1,301.6 L1176.3,300.6 L1176.5,299.6 L1176.7,298.6 L1176.8,297.6 L1177.0,296.6 L1177.2,295.6 L1177.4,294.6 L1177.6,293.6 L1177.8,292.6 L1178.0,291.6 L1178.2,290.6 L1178.4,289.6 L1178.5,288.6 L1178.7,287.6 L1178.9,286.6 L1179.1,285.6 L1179.2,284.6 L1179.4,283.6 L1179.6,282.6 L1179.9,281.6 L1180.1,280.6 L1180.3,279.6 L1180.5,278.6 L1180.6,277.6 L1180.8,276.6 L1180.9,275.6 L1181.1,274.6 L1181.2,273.6 L1181.3,272.6 L1181.4,271.6 L1181.5,270.6 L1181.6,269.6 L1181.6,268.6 L1181.6,267.6 L1181.6,266.6 L1181.6,265.6 L1181.6,264.6 L1181.6,263.6 L1181.6,262.6 L1181.6,261.6 L1181.6,260.6 L1181.6,259.6 L1181.6,258.6 L1181.6,257.6 L1181.6,256.6 L1181.6,255.6 L1181.6,254.6 L1181.6,253.6 L1181.6,252.6Z" fill="#ff69b4" stroke="#000" stroke-width="1.45" stroke-linejoin="round"/>
<line x1="1182.2" y1="302.2" x2="1182.2" y2="370.2" stroke="#000" stroke-width="2.7"/>
<line x1="1182.2" y1="447.7" x2="1182.2" y2="479.4" stroke="#000" stroke-width="2.7"/>
<line x1="1170.8" y1="302.2" x2="1193.6000000000001" y2="302.2" stroke="#000" stroke-width="2.7"/>
<line x1="1170.8" y1="479.4" x2="1193.6000000000001" y2="479.4" stroke="#000" stroke-width="2.7"/>
<rect x="1160.3" y="370.2" width="44.7" height="77.5" fill="#cd1076" stroke="#000" stroke-width="2.7"/>
<line x1="1160.3" y1="417.4" x2="1205.0" y2="417.4" stroke="#000" stroke-width="3.2"/>
<line x1="1272.9" y1="221.3" x2="1272.9" y2="572.4" stroke="#000" stroke-width="1.5"/>
<path d="M1273.5,250.0 L1273.5,251.0 L1273.5,252.0 L1273.5,253.0 L1273.5,254.0 L1273.5,255.0 L1273.5,256.0 L1273.5,257.0 L1273.5,258.0 L1273.5,259.0 L1273.5,260.0 L1273.5,261.0 L1273.5,262.0 L1273.5,263.0 L1273.6,264.0 L1273.8,265.0 L1273.9,266.0 L1274.0,267.0 L1274.1,268.0 L1274.2,269.0 L1274.3,270.0 L1274.4,271.0 L1274.6,272.0 L1274.7,273.0 L1274.9,274.0 L1275.0,275.0 L1275.2,276.0 L1275.3,277.0 L1275.5,278.0 L1275.7,279.0 L1275.9,280.0 L1276.0,281.0 L1276.2,282.0 L1276.4,283.0 L1276.6,284.0 L1276.8,285.0 L1277.0,286.0 L1277.2,287.0 L1277.4,288.0 L1277.6,289.0 L1277.8,290.0 L1278.0,291.0 L1278.2,292.0 L1278.4,293.0 L1278.6,294.0 L1278.8,295.0 L1278.9,296.0 L1279.1,297.0 L1279.4,298.0 L1279.6,299.0 L1279.8,300.0 L1280.0,301.0 L1280.2,302.0 L1280.5,303.0 L1280.8,304.0 L1281.0,305.0 L1281.3,306.0 L1281.6,307.0 L1281.9,308.0 L1282.2,309.0 L1282.4,310.0 L1282.7,311.0 L1283.0,312.0 L1283.2,313.0 L1283.4,314.0 L1283.7,315.0 L1284.0,316.0 L1284.2,317.0 L1284.5,318.0 L1284.8,319.0 L1285.1,320.0 L1285.4,321.0 L1285.7,322.0 L1285.9,323.0 L1286.2,324.0 L1286.5,325.0 L1286.8,326.0 L1287.0,327.0 L1287.3,328.0 L1287.6,329.0 L1287.9,330.0 L1288.1,331.0 L1288.4,332.0 L1288.7,333.0 L1289.0,334.0 L1289.3,335.0 L1289.5,336.0 L1289.8,337.0 L1290.0,338.0 L1290.3,339.0 L1290.5,340.0 L1290.8,341.0 L1291.1,342.0 L1291.4,343.0 L1291.7,344.0 L1292.0,345.0 L1292.3,346.0 L1292.6,347.0 L1293.0,348.0 L1293.3,349.0 L1293.6,350.0 L1294.0,351.0 L1294.3,352.0 L1294.6,353.0 L1295.0,354.0 L1295.4,355.0 L1295.7,356.0 L1296.1,357.0 L1296.5,358.0 L1296.8,359.0 L1297.2,360.0 L1297.6,361.0 L1298.0,362.0 L1298.3,363.0 L1298.7,364.0 L1299.1,365.0 L1299.5,366.0 L1299.9,367.0 L1300.3,368.0 L1300.7,369.0 L1301.1,370.0 L1301.5,371.0 L1301.9,372.0 L1302.3,373.0 L1302.7,374.0 L1303.1,375.0 L1303.5,376.0 L1303.9,377.0 L1304.3,378.0 L1304.7,379.0 L1305.1,380.0 L1305.4,381.0 L1305.8,382.0 L1306.1,383.0 L1306.4,384.0 L1306.7,385.0 L1307.0,386.0 L1307.3,387.0 L1307.6,388.0 L1307.9,389.0 L1308.2,390.0 L1308.4,391.0 L1308.7,392.0 L1309.0,393.0 L1309.2,394.0 L1309.5,395.0 L1309.7,396.0 L1309.9,397.0 L1310.1,398.0 L1310.3,399.0 L1310.4,400.0 L1310.5,401.0 L1310.7,402.0 L1310.8,403.0 L1310.9,404.0 L1311.0,405.0 L1311.1,406.0 L1311.1,407.0 L1311.2,408.0 L1311.3,409.0 L1311.3,410.0 L1311.4,411.0 L1311.4,412.0 L1311.4,413.0 L1311.5,414.0 L1311.5,415.0 L1311.5,416.0 L1311.5,417.0 L1311.5,418.0 L1311.4,419.0 L1311.4,420.0 L1311.3,421.0 L1311.3,422.0 L1311.3,423.0 L1311.2,424.0 L1311.2,425.0 L1311.1,426.0 L1311.1,427.0 L1311.0,428.0 L1311.0,429.0 L1310.9,430.0 L1310.8,431.0 L1310.7,432.0 L1310.6,433.0 L1310.5,434.0 L1310.3,435.0 L1310.1,436.0 L1309.9,437.0 L1309.7,438.0 L1309.4,439.0 L1309.2,440.0 L1308.9,441.0 L1308.6,442.0 L1308.3,443.0 L1307.9,444.0 L1307.6,445.0 L1307.2,446.0 L1306.9,447.0 L1306.5,448.0 L1306.1,449.0 L1305.7,450.0 L1305.3,451.0 L1304.9,452.0 L1304.5,453.0 L1304.1,454.0 L1303.8,455.0 L1303.3,456.0 L1302.9,457.0 L1302.5,458.0 L1302.1,459.0 L1301.6,460.0 L1301.1,461.0 L1300.7,462.0 L1300.2,463.0 L1299.8,464.0 L1299.3,465.0 L1298.9,466.0 L1298.4,467.0 L1298.0,468.0 L1297.6,469.0 L1297.1,470.0 L1296.7,471.0 L1296.2,472.0 L1295.8,473.0 L1295.3,474.0 L1294.8,475.0 L1294.4,476.0 L1293.9,477.0 L1293.5,478.0 L1293.0,479.0 L1292.5,480.0 L1292.1,481.0 L1291.7,482.0 L1291.3,483.0 L1290.9,484.0 L1290.6,485.0 L1290.3,486.0 L1290.0,487.0 L1289.7,488.0 L1289.4,489.0 L1289.1,490.0 L1288.8,491.0 L1288.4,492.0 L1288.1,493.0 L1287.7,494.0 L1287.3,495.0 L1286.9,496.0 L1286.5,497.0 L1286.1,498.0 L1285.6,499.0 L1285.2,500.0 L1284.7,501.0 L1284.2,502.0 L1283.7,503.0 L1283.3,504.0 L1282.8,505.0 L1282.3,506.0 L1281.9,507.0 L1281.4,508.0 L1281.0,509.0 L1280.6,510.0 L1280.2,511.0 L1279.8,512.0 L1279.4,513.0 L1279.0,514.0 L1278.6,515.0 L1278.2,516.0 L1277.8,517.0 L1277.5,518.0 L1277.3,519.0 L1277.0,520.0 L1276.8,521.0 L1276.5,522.0 L1276.3,523.0 L1276.1,524.0 L1275.9,525.0 L1275.7,526.0 L1275.4,527.0 L1275.2,528.0 L1275.0,529.0 L1274.8,530.0 L1274.6,531.0 L1274.4,532.0 L1274.2,533.0 L1274.0,534.0 L1273.8,535.0 L1273.7,536.0 L1273.6,537.0 L1273.6,538.0 L1273.5,539.0 L1273.5,540.0 L1273.5,541.0 L1273.5,542.0 L1272.3,542.0 L1272.3,541.0 L1272.3,540.0 L1272.3,539.0 L1272.2,538.0 L1272.2,537.0 L1272.1,536.0 L1272.0,535.0 L1271.8,534.0 L1271.6,533.0 L1271.4,532.0 L1271.2,531.0 L1271.0,530.0 L1270.8,529.0 L1270.6,528.0 L1270.4,527.0 L1270.1,526.0 L1269.9,525.0 L1269.7,524.0 L1269.5,523.0 L1269.3,522.0 L1269.0,521.0 L1268.8,520.0 L1268.5,519.0 L1268.3,518.0 L1268.0,517.0 L1267.6,516.0 L1267.2,515.0 L1266.8,514.0 L1266.4,513.0 L1266.0,512.0 L1265.6,511.0 L1265.2,510.0 L1264.8,509.0 L1264.4,508.0 L1263.9,507.0 L1263.5,506.0 L1263.0,505.0 L1262.5,504.0 L1262.1,503.0 L1261.6,502.0 L1261.1,501.0 L1260.6,500.0 L1260.2,499.0 L1259.7,498.0 L1259.3,497.0 L1258.9,496.0 L1258.5,495.0 L1258.1,494.0 L1257.7,493.0 L1257.4,492.0 L1257.0,491.0 L1256.7,490.0 L1256.4,489.0 L1256.1,488.0 L1255.8,487.0 L1255.5,486.0 L1255.2,485.0 L1254.9,484.0 L1254.5,483.0 L1254.1,482.0 L1253.7,481.0 L1253.3,480.0 L1252.8,479.0 L1252.3,478.0 L1251.9,477.0 L1251.4,476.0 L1251.0,475.0 L1250.5,474.0 L1250.0,473.0 L1249.6,472.0 L1249.1,471.0 L1248.7,470.0 L1248.2,469.0 L1247.8,468.0 L1247.4,467.0 L1246.9,466.0 L1246.5,465.0 L1246.0,464.0 L1245.6,463.0 L1245.1,462.0 L1244.7,461.0 L1244.2,460.0 L1243.7,459.0 L1243.3,458.0 L1242.9,457.0 L1242.5,456.0 L1242.0,455.0 L1241.7,454.0 L1241.3,453.0 L1240.9,452.0 L1240.5,451.0 L1240.1,450.0 L1239.7,449.0 L1239.3,448.0 L1238.9,447.0 L1238.6,446.0 L1238.2,445.0 L1237.9,444.0 L1237.5,443.0 L1237.2,442.0 L1236.9,441.0 L1236.6,440.0 L1236.4,439.0 L1236.1,438.0 L1235.9,437.0 L1235.7,436.0 L1235.5,435.0 L1235.3,434.0 L1235.2,433.0 L1235.1,432.0 L1235.0,431.0 L1234.9,430.0 L1234.8,429.0 L1234.8,428.0 L1234.7,427.0 L1234.7,426.0 L1234.6,425.0 L1234.6,424.0 L1234.5,423.0 L1234.5,422.0 L1234.5,421.0 L1234.4,420.0 L1234.4,419.0 L1234.3,418.0 L1234.3,417.0 L1234.3,416.0 L1234.3,415.0 L1234.3,414.0 L1234.4,413.0 L1234.4,412.0 L1234.4,411.0 L1234.5,410.0 L1234.5,409.0 L1234.6,408.0 L1234.7,407.0 L1234.7,406.0 L1234.8,405.0 L1234.9,404.0 L1235.0,403.0 L1235.1,402.0 L1235.3,401.0 L1235.4,400.0 L1235.5,399.0 L1235.7,398.0 L1235.9,397.0 L1236.1,396.0 L1236.3,395.0 L1236.6,394.0 L1236.8,393.0 L1237.1,392.0 L1237.4,391.0 L1237.6,390.0 L1237.9,389.0 L1238.2,388.0 L1238.5,387.0 L1238.8,386.0 L1239.1,385.0 L1239.4,384.0 L1239.7,383.0 L1240.0,382.0 L1240.4,381.0 L1240.7,380.0 L1241.1,379.0 L1241.5,378.0 L1241.9,377.0 L1242.3,376.0 L1242.7,375.0 L1243.1,374.0 L1243.5,373.0 L1243.9,372.0 L1244.3,371.0 L1244.7,370.0 L1245.1,369.0 L1245.5,368.0 L1245.9,367.0 L1246.3,366.0 L1246.7,365.0 L1247.1,364.0 L1247.5,363.0 L1247.8,362.0 L1248.2,361.0 L1248.6,360.0 L1249.0,359.0 L1249.3,358.0 L1249.7,357.0 L1250.1,356.0 L1250.4,355.0 L1250.8,354.0 L1251.2,353.0 L1251.5,352.0 L1251.8,351.0 L1252.2,350.0 L1252.5,349.0 L1252.8,348.0 L1253.2,347.0 L1253.5,346.0 L1253.8,345.0 L1254.1,344.0 L1254.4,343.0 L1254.7,342.0 L1255.0,341.0 L1255.3,340.0 L1255.5,339.0 L1255.8,338.0 L1256.0,337.0 L1256.3,336.0 L1256.5,335.0 L1256.8,334.0 L1257.1,333.0 L1257.4,332.0 L1257.7,331.0 L1257.9,330.0 L1258.2,329.0 L1258.5,328.0 L1258.8,327.0 L1259.0,326.0 L1259.3,325.0 L1259.6,324.0 L1259.9,323.0 L1260.1,322.0 L1260.4,321.0 L1260.7,320.0 L1261.0,319.0 L1261.3,318.0 L1261.6,317.0 L1261.8,316.0 L1262.1,315.0 L1262.4,314.0 L1262.6,313.0 L1262.8,312.0 L1263.1,311.0 L1263.4,310.0 L1263.6,309.0 L1263.9,308.0 L1264.2,307.0 L1264.5,306.0 L1264.8,305.0 L1265.0,304.0 L1265.3,303.0 L1265.6,302.0 L1265.8,301.0 L1266.0,300.0 L1266.2,299.0 L1266.4,298.0 L1266.7,297.0 L1266.9,296.0 L1267.0,295.0 L1267.2,294.0 L1267.4,293.0 L1267.6,292.0 L1267.8,291.0 L1268.0,290.0 L1268.2,289.0 L1268.4,288.0 L1268.6,287.0 L1268.8,286.0 L1269.0,285.0 L1269.2,284.0 L1269.4,283.0 L1269.6,282.0 L1269.8,281.0 L1269.9,280.0 L1270.1,279.0 L1270.3,278.0 L1270.5,277.0 L1270.6,276.0 L1270.8,275.0 L1270.9,274.0 L1271.1,273.0 L1271.2,272.0 L1271.4,271.0 L1271.5,270.0 L1271.6,269.0 L1271.7,268.0 L1271.8,267.0 L1271.9,266.0 L1272.0,265.0 L1272.2,264.0 L1272.3,263.0 L1272.3,262.0 L1272.3,261.0 L1272.3,260.0 L1272.3,259.0 L1272.3,258.0 L1272.3,257.0 L1272.3,256.0 L1272.3,255.0 L1272.3,254.0 L1272.3,253.0 L1272.3,252.0 L1272.3,251.0 L1272.3,250.0Z" fill="#54ff9f" stroke="#000" stroke-width="1.45" stroke-linejoin="round"/>
<line x1="1272.9" y1="303.8" x2="1272.9" y2="374.1" stroke="#000" stroke-width="2.7"/>
<line x1="1272.9" y1="452.0" x2="1272.9" y2="491.0" stroke="#000" stroke-width="2.7"/>
<line x1="1261.5" y1="303.8" x2="1284.3000000000002" y2="303.8" stroke="#000" stroke-width="2.7"/>
<line x1="1261.5" y1="491.0" x2="1284.3000000000002" y2="491.0" stroke="#000" stroke-width="2.7"/>
<rect x="1251.1" y="374.1" width="44.8" height="77.9" fill="#00cd66" stroke="#000" stroke-width="2.7"/>
<line x1="1251.1" y1="411.8" x2="1295.9" y2="411.8" stroke="#000" stroke-width="3.2"/>
<line x1="1363.8" y1="228.2" x2="1363.8" y2="543.6" stroke="#000" stroke-width="1.5"/>
<path d="M1364.4,265.3 L1364.6,266.3 L1364.7,267.3 L1364.8,268.3 L1364.9,269.3 L1364.9,270.3 L1365.0,271.3 L1365.0,272.3 L1365.1,273.3 L1365.1,274.3 L1365.2,275.3 L1365.2,276.3 L1365.3,277.3 L1365.3,278.3 L1365.3,279.3 L1365.4,280.3 L1365.5,281.3 L1366.0,282.3 L1366.4,283.3 L1366.5,284.3 L1366.6,285.3 L1366.7,286.3 L1366.8,287.3 L1366.9,288.3 L1367.0,289.3 L1367.1,290.3 L1367.3,291.3 L1367.5,292.3 L1367.7,293.3 L1367.9,294.3 L1368.1,295.3 L1368.4,296.3 L1368.6,297.3 L1368.8,298.3 L1369.1,299.3 L1369.3,300.3 L1369.6,301.3 L1369.8,302.3 L1370.1,303.3 L1370.4,304.3 L1370.6,305.3 L1370.9,306.3 L1371.3,307.3 L1371.6,308.3 L1371.9,309.3 L1372.2,310.3 L1372.5,311.3 L1372.8,312.3 L1373.1,313.3 L1373.4,314.3 L1373.7,315.3 L1373.9,316.3 L1374.2,317.3 L1374.5,318.3 L1374.8,319.3 L1375.1,320.3 L1375.5,321.3 L1375.8,322.3 L1376.1,323.3 L1376.5,324.3 L1376.8,325.3 L1377.2,326.3 L1377.5,327.3 L1377.9,328.3 L1378.2,329.3 L1378.5,330.3 L1378.9,331.3 L1379.2,332.3 L1379.5,333.3 L1379.8,334.3 L1380.0,335.3 L1380.3,336.3 L1380.5,337.3 L1380.8,338.3 L1381.0,339.3 L1381.3,340.3 L1381.7,341.3 L1382.0,342.3 L1382.4,343.3 L1382.8,344.3 L1383.2,345.3 L1383.6,346.3 L1383.9,347.3 L1384.2,348.3 L1384.6,349.3 L1384.9,350.3 L1385.1,351.3 L1385.4,352.3 L1385.7,353.3 L1385.9,354.3 L1386.2,355.3 L1386.4,356.3 L1386.5,357.3 L1386.7,358.3 L1386.8,359.3 L1386.9,360.3 L1386.9,361.3 L1387.0,362.3 L1387.0,363.3 L1387.1,364.3 L1387.1,365.3 L1387.1,366.3 L1387.1,367.3 L1387.2,368.3 L1387.2,369.3 L1387.2,370.3 L1387.2,371.3 L1387.2,372.3 L1387.2,373.3 L1387.2,374.3 L1387.2,375.3 L1387.3,376.3 L1387.3,377.3 L1387.3,378.3 L1387.4,379.3 L1387.4,380.3 L1387.5,381.3 L1387.6,382.3 L1387.6,383.3 L1387.7,384.3 L1387.8,385.3 L1387.9,386.3 L1388.1,387.3 L1388.2,388.3 L1388.4,389.3 L1388.6,390.3 L1388.9,391.3 L1389.2,392.3 L1389.6,393.3 L1390.0,394.3 L1390.5,395.3 L1391.0,396.3 L1391.5,397.3 L1392.0,398.3 L1392.5,399.3 L1393.0,400.3 L1393.5,401.3 L1394.0,402.3 L1394.4,403.3 L1394.9,404.3 L1395.3,405.3 L1395.7,406.3 L1396.1,407.3 L1396.5,408.3 L1396.9,409.3 L1397.3,410.3 L1397.7,411.3 L1398.1,412.3 L1398.5,413.3 L1398.8,414.3 L1399.2,415.3 L1399.5,416.3 L1399.8,417.3 L1400.1,418.3 L1400.4,419.3 L1400.7,420.3 L1400.9,421.3 L1401.1,422.3 L1401.3,423.3 L1401.5,424.3 L1401.7,425.3 L1401.9,426.3 L1402.0,427.3 L1402.2,428.3 L1402.3,429.3 L1402.4,430.3 L1402.5,431.3 L1402.5,432.3 L1402.6,433.3 L1402.7,434.3 L1402.7,435.3 L1402.8,436.3 L1402.8,437.3 L1402.8,438.3 L1402.9,439.3 L1402.8,440.3 L1402.7,441.3 L1402.6,442.3 L1402.4,443.3 L1402.1,444.3 L1401.9,445.3 L1401.5,446.3 L1401.2,447.3 L1400.8,448.3 L1400.3,449.3 L1399.8,450.3 L1399.3,451.3 L1398.7,452.3 L1398.2,453.3 L1397.6,454.3 L1397.0,455.3 L1396.4,456.3 L1395.8,457.3 L1395.2,458.3 L1394.5,459.3 L1393.9,460.3 L1393.3,461.3 L1392.6,462.3 L1392.0,463.3 L1391.3,464.3 L1390.7,465.3 L1390.0,466.3 L1389.4,467.3 L1388.7,468.3 L1388.0,469.3 L1387.4,470.3 L1386.7,471.3 L1386.0,472.3 L1385.3,473.3 L1384.6,474.3 L1384.0,475.3 L1383.4,476.3 L1382.8,477.3 L1382.3,478.3 L1381.9,479.3 L1381.5,480.3 L1381.2,481.3 L1380.8,482.3 L1380.4,483.3 L1380.0,484.3 L1379.5,485.3 L1378.9,486.3 L1378.3,487.3 L1377.7,488.3 L1377.2,489.3 L1376.6,490.3 L1376.0,491.3 L1375.5,492.3 L1374.9,493.3 L1374.3,494.3 L1373.7,495.3 L1373.0,496.3 L1372.4,497.3 L1371.8,498.3 L1371.2,499.3 L1370.6,500.3 L1370.1,501.3 L1369.5,502.3 L1369.0,503.3 L1368.6,504.3 L1368.2,505.3 L1367.8,506.3 L1367.4,507.3 L1367.1,508.3 L1366.8,509.3 L1366.5,510.3 L1366.3,511.3 L1366.1,512.3 L1365.9,513.3 L1365.8,514.3 L1365.7,515.3 L1365.6,516.3 L1365.5,517.3 L1365.4,518.3 L1365.3,519.3 L1365.0,520.3 L1364.5,521.3 L1364.4,521.5 L1363.2,521.5 L1363.1,521.3 L1362.6,520.3 L1362.3,519.3 L1362.2,518.3 L1362.1,517.3 L1362.0,516.3 L1361.9,515.3 L1361.8,514.3 L1361.7,513.3 L1361.5,512.3 L1361.3,511.3 L1361.1,510.3 L1360.8,509.3 L1360.5,508.3 L1360.2,507.3 L1359.8,506.3 L1359.4,505.3 L1359.0,504.3 L1358.6,503.3 L1358.1,502.3 L1357.5,501.3 L1357.0,500.3 L1356.4,499.3 L1355.8,498.3 L1355.2,497.3 L1354.6,496.3 L1353.9,495.3 L1353.3,494.3 L1352.7,493.3 L1352.1,492.3 L1351.6,491.3 L1351.0,490.3 L1350.4,489.3 L1349.9,488.3 L1349.3,487.3 L1348.7,486.3 L1348.1,485.3 L1347.6,484.3 L1347.2,483.3 L1346.8,482.3 L1346.4,481.3 L1346.1,480.3 L1345.7,479.3 L1345.3,478.3 L1344.8,477.3 L1344.2,476.3 L1343.6,475.3 L1343.0,474.3 L1342.3,473.3 L1341.6,472.3 L1340.9,471.3 L1340.2,470.3 L1339.6,469.3 L1338.9,468.3 L1338.2,467.3 L1337.6,466.3 L1336.9,465.3 L1336.3,464.3 L1335.6,463.3 L1335.0,462.3 L1334.3,461.3 L1333.7,460.3 L1333.1,459.3 L1332.4,458.3 L1331.8,457.3 L1331.2,456.3 L1330.6,455.3 L1330.0,454.3 L1329.4,453.3 L1328.9,452.3 L1328.3,451.3 L1327.8,450.3 L1327.3,449.3 L1326.8,448.3 L1326.4,447.3 L1326.1,446.3 L1325.7,445.3 L1325.5,444.3 L1325.2,443.3 L1325.0,442.3 L1324.9,441.3 L1324.8,440.3 L1324.7,439.3 L1324.8,438.3 L1324.8,437.3 L1324.8,436.3 L1324.9,435.3 L1324.9,434.3 L1325.0,433.3 L1325.1,432.3 L1325.1,431.3 L1325.2,430.3 L1325.3,429.3 L1325.4,428.3 L1325.6,427.3 L1325.7,426.3 L1325.9,425.3 L1326.1,424.3 L1326.3,423.3 L1326.5,422.3 L1326.7,421.3 L1326.9,420.3 L1327.2,419.3 L1327.5,418.3 L1327.8,417.3 L1328.1,416.3 L1328.4,415.3 L1328.8,414.3 L1329.1,413.3 L1329.5,412.3 L1329.9,411.3 L1330.3,410.3 L1330.7,409.3 L1331.1,408.3 L1331.5,407.3 L1331.9,406.3 L1332.3,405.3 L1332.7,404.3 L1333.2,403.3 L1333.6,402.3 L1334.1,401.3 L1334.6,400.3 L1335.1,399.3 L1335.6,398.3 L1336.1,397.3 L1336.6,396.3 L1337.1,395.3 L1337.6,394.3 L1338.0,393.3 L1338.4,392.3 L1338.7,391.3 L1339.0,390.3 L1339.2,389.3 L1339.4,388.3 L1339.5,387.3 L1339.7,386.3 L1339.8,385.3 L1339.9,384.3 L1340.0,383.3 L1340.0,382.3 L1340.1,381.3 L1340.2,380.3 L1340.2,379.3 L1340.3,378.3 L1340.3,377.3 L1340.3,376.3 L1340.4,375.3 L1340.4,374.3 L1340.4,373.3 L1340.4,372.3 L1340.4,371.3 L1340.4,370.3 L1340.4,369.3 L1340.4,368.3 L1340.5,367.3 L1340.5,366.3 L1340.5,365.3 L1340.5,364.3 L1340.6,363.3 L1340.6,362.3 L1340.7,361.3 L1340.7,360.3 L1340.8,359.3 L1340.9,358.3 L1341.1,357.3 L1341.2,356.3 L1341.4,355.3 L1341.7,354.3 L1341.9,353.3 L1342.2,352.3 L1342.5,351.3 L1342.7,350.3 L1343.0,349.3 L1343.4,348.3 L1343.7,347.3 L1344.0,346.3 L1344.4,345.3 L1344.8,344.3 L1345.2,343.3 L1345.6,342.3 L1345.9,341.3 L1346.3,340.3 L1346.6,339.3 L1346.8,338.3 L1347.1,337.3 L1347.3,336.3 L1347.6,335.3 L1347.8,334.3 L1348.1,333.3 L1348.4,332.3 L1348.7,331.3 L1349.1,330.3 L1349.4,329.3 L1349.7,328.3 L1350.1,327.3 L1350.4,326.3 L1350.8,325.3 L1351.1,324.3 L1351.5,323.3 L1351.8,322.3 L1352.1,321.3 L1352.5,320.3 L1352.8,319.3 L1353.1,318.3 L1353.4,317.3 L1353.7,316.3 L1353.9,315.3 L1354.2,314.3 L1354.5,313.3 L1354.8,312.3 L1355.1,311.3 L1355.4,310.3 L1355.7,309.3 L1356.0,308.3 L1356.3,307.3 L1356.7,306.3 L1357.0,305.3 L1357.2,304.3 L1357.5,303.3 L1357.8,302.3 L1358.0,301.3 L1358.3,300.3 L1358.5,299.3 L1358.8,298.3 L1359.0,297.3 L1359.2,296.3 L1359.5,295.3 L1359.7,294.3 L1359.9,293.3 L1360.1,292.3 L1360.3,291.3 L1360.5,290.3 L1360.6,289.3 L1360.7,288.3 L1360.8,287.3 L1360.9,286.3 L1361.0,285.3 L1361.1,284.3 L1361.2,283.3 L1361.6,282.3 L1362.1,281.3 L1362.2,280.3 L1362.3,279.3 L1362.3,278.3 L1362.3,277.3 L1362.4,276.3 L1362.4,275.3 L1362.5,274.3 L1362.5,273.3 L1362.6,272.3 L1362.6,271.3 L1362.7,270.3 L1362.7,269.3 L1362.8,268.3 L1362.9,267.3 L1363.0,266.3 L1363.2,265.3Z" fill="#ffb90f" stroke="#000" stroke-width="1.45" stroke-linejoin="round"/>
<line x1="1363.8" y1="288.0" x2="1363.8" y2="368.2" stroke="#000" stroke-width="2.7"/>
<line x1="1363.8" y1="447.6" x2="1363.8" y2="483.6" stroke="#000" stroke-width="2.7"/>
<line x1="1352.3999999999999" y1="288.0" x2="1375.2" y2="288.0" stroke="#000" stroke-width="2.7"/>
<line x1="1352.3999999999999" y1="483.6" x2="1375.2" y2="483.6" stroke="#000" stroke-width="2.7"/>
<rect x="1341.5" y="368.2" width="44.8" height="79.4" fill="#ff7f00" stroke="#000" stroke-width="2.7"/>
<line x1="1341.5" y1="418.8" x2="1386.3" y2="418.8" stroke="#000" stroke-width="3.2"/>
<line x1="1462.0" y1="267.6" x2="1462.0" y2="564.7" stroke="#000" stroke-width="1.5"/>
<path d="M1462.6,295.6 L1462.9,296.6 L1463.1,297.6 L1463.2,298.6 L1463.4,299.6 L1463.6,300.6 L1463.7,301.6 L1463.9,302.6 L1464.1,303.6 L1464.3,304.6 L1464.6,305.6 L1464.8,306.6 L1465.1,307.6 L1465.3,308.6 L1465.5,309.6 L1465.8,310.6 L1466.0,311.6 L1466.2,312.6 L1466.5,313.6 L1466.7,314.6 L1467.0,315.6 L1467.2,316.6 L1467.4,317.6 L1467.7,318.6 L1467.9,319.6 L1468.1,320.6 L1468.4,321.6 L1468.6,322.6 L1468.9,323.6 L1469.1,324.6 L1469.4,325.6 L1469.6,326.6 L1469.9,327.6 L1470.1,328.6 L1470.4,329.6 L1470.6,330.6 L1470.9,331.6 L1471.1,332.6 L1471.3,333.6 L1471.6,334.6 L1471.8,335.6 L1472.0,336.6 L1472.3,337.6 L1472.5,338.6 L1472.8,339.6 L1473.2,340.6 L1473.5,341.6 L1473.9,342.6 L1474.3,343.6 L1474.8,344.6 L1475.2,345.6 L1475.6,346.6 L1476.1,347.6 L1476.5,348.6 L1476.9,349.6 L1477.3,350.6 L1477.8,351.6 L1478.2,352.6 L1478.6,353.6 L1479.0,354.6 L1479.4,355.6 L1479.8,356.6 L1480.2,357.6 L1480.6,358.6 L1481.0,359.6 L1481.4,360.6 L1481.8,361.6 L1482.2,362.6 L1482.6,363.6 L1483.0,364.6 L1483.4,365.6 L1483.8,366.6 L1484.2,367.6 L1484.6,368.6 L1485.0,369.6 L1485.4,370.6 L1485.8,371.6 L1486.1,372.6 L1486.5,373.6 L1486.8,374.6 L1487.1,375.6 L1487.4,376.6 L1487.7,377.6 L1488.0,378.6 L1488.3,379.6 L1488.6,380.6 L1488.9,381.6 L1489.2,382.6 L1489.5,383.6 L1489.8,384.6 L1490.1,385.6 L1490.4,386.6 L1490.7,387.6 L1491.0,388.6 L1491.3,389.6 L1491.6,390.6 L1491.9,391.6 L1492.2,392.6 L1492.5,393.6 L1492.8,394.6 L1493.1,395.6 L1493.4,396.6 L1493.7,397.6 L1494.0,398.6 L1494.3,399.6 L1494.6,400.6 L1494.9,401.6 L1495.3,402.6 L1495.6,403.6 L1495.9,404.6 L1496.2,405.6 L1496.5,406.6 L1496.8,407.6 L1497.1,408.6 L1497.3,409.6 L1497.6,410.6 L1497.9,411.6 L1498.2,412.6 L1498.4,413.6 L1498.7,414.6 L1498.9,415.6 L1499.2,416.6 L1499.4,417.6 L1499.6,418.6 L1499.8,419.6 L1500.0,420.6 L1500.2,421.6 L1500.4,422.6 L1500.5,423.6 L1500.7,424.6 L1500.8,425.6 L1501.0,426.6 L1501.1,427.6 L1501.2,428.6 L1501.3,429.6 L1501.5,430.6 L1501.6,431.6 L1501.7,432.6 L1501.8,433.6 L1501.9,434.6 L1502.0,435.6 L1502.1,436.6 L1502.2,437.6 L1502.2,438.6 L1502.2,439.6 L1502.2,440.6 L1502.1,441.6 L1501.9,442.6 L1501.7,443.6 L1501.5,444.6 L1501.1,445.6 L1500.8,446.6 L1500.4,447.6 L1499.9,448.6 L1499.4,449.6 L1498.9,450.6 L1498.3,451.6 L1497.7,452.6 L1497.0,453.6 L1496.3,454.6 L1495.6,455.6 L1494.8,456.6 L1494.1,457.6 L1493.3,458.6 L1492.5,459.6 L1491.7,460.6 L1490.9,461.6 L1490.1,462.6 L1489.4,463.6 L1488.6,464.6 L1487.9,465.6 L1487.1,466.6 L1486.4,467.6 L1485.7,468.6 L1485.0,469.6 L1484.3,470.6 L1483.6,471.6 L1482.8,472.6 L1482.1,473.6 L1481.5,474.6 L1480.8,475.6 L1480.1,476.6 L1479.5,477.6 L1478.9,478.6 L1478.4,479.6 L1477.8,480.6 L1477.3,481.6 L1476.8,482.6 L1476.3,483.6 L1475.8,484.6 L1475.3,485.6 L1474.9,486.6 L1474.4,487.6 L1474.1,488.6 L1473.7,489.6 L1473.4,490.6 L1473.2,491.6 L1472.9,492.6 L1472.6,493.6 L1472.3,494.6 L1472.0,495.6 L1471.7,496.6 L1471.4,497.6 L1471.0,498.6 L1470.6,499.6 L1470.2,500.6 L1469.8,501.6 L1469.4,502.6 L1468.9,503.6 L1468.5,504.6 L1468.1,505.6 L1467.8,506.6 L1467.5,507.6 L1467.2,508.6 L1466.9,509.6 L1466.6,510.6 L1466.4,511.6 L1466.2,512.6 L1466.0,513.6 L1465.8,514.6 L1465.6,515.6 L1465.4,516.6 L1465.2,517.6 L1465.0,518.6 L1464.9,519.6 L1464.7,520.6 L1464.5,521.6 L1464.3,522.6 L1464.2,523.6 L1464.0,524.6 L1463.9,525.6 L1463.7,526.6 L1463.6,527.6 L1463.5,528.6 L1463.4,529.6 L1463.2,530.6 L1463.1,531.6 L1462.9,532.6 L1462.8,533.6 L1462.7,534.6 L1462.6,535.6 L1462.6,536.6 L1462.6,537.2 L1461.4,537.2 L1461.4,536.6 L1461.4,535.6 L1461.3,534.6 L1461.2,533.6 L1461.1,532.6 L1460.9,531.6 L1460.8,530.6 L1460.6,529.6 L1460.5,528.6 L1460.4,527.6 L1460.3,526.6 L1460.1,525.6 L1460.0,524.6 L1459.8,523.6 L1459.7,522.6 L1459.5,521.6 L1459.3,520.6 L1459.1,519.6 L1459.0,518.6 L1458.8,517.6 L1458.6,516.6 L1458.4,515.6 L1458.2,514.6 L1458.0,513.6 L1457.8,512.6 L1457.6,511.6 L1457.4,510.6 L1457.1,509.6 L1456.8,508.6 L1456.5,507.6 L1456.2,506.6 L1455.9,505.6 L1455.5,504.6 L1455.1,503.6 L1454.6,502.6 L1454.2,501.6 L1453.8,500.6 L1453.4,499.6 L1453.0,498.6 L1452.6,497.6 L1452.3,496.6 L1452.0,495.6 L1451.7,494.6 L1451.4,493.6 L1451.1,492.6 L1450.8,491.6 L1450.6,490.6 L1450.3,489.6 L1449.9,488.6 L1449.6,487.6 L1449.1,486.6 L1448.7,485.6 L1448.2,484.6 L1447.7,483.6 L1447.2,482.6 L1446.7,481.6 L1446.2,480.6 L1445.6,479.6 L1445.1,478.6 L1444.5,477.6 L1443.9,476.6 L1443.2,475.6 L1442.5,474.6 L1441.9,473.6 L1441.2,472.6 L1440.4,471.6 L1439.7,470.6 L1439.0,469.6 L1438.3,468.6 L1437.6,467.6 L1436.9,466.6 L1436.1,465.6 L1435.4,464.6 L1434.6,463.6 L1433.9,462.6 L1433.1,461.6 L1432.3,460.6 L1431.5,459.6 L1430.7,458.6 L1429.9,457.6 L1429.2,456.6 L1428.4,455.6 L1427.7,454.6 L1427.0,453.6 L1426.3,452.6 L1425.7,451.6 L1425.1,450.6 L1424.6,449.6 L1424.1,448.6 L1423.6,447.6 L1423.2,446.6 L1422.9,445.6 L1422.5,444.6 L1422.3,443.6 L1422.1,442.6 L1421.9,441.6 L1421.8,440.6 L1421.8,439.6 L1421.8,438.6 L1421.8,437.6 L1421.9,436.6 L1422.0,435.6 L1422.1,434.6 L1422.2,433.6 L1422.3,432.6 L1422.4,431.6 L1422.5,430.6 L1422.7,429.6 L1422.8,428.6 L1422.9,427.6 L1423.0,426.6 L1423.2,425.6 L1423.3,424.6 L1423.5,423.6 L1423.6,422.6 L1423.8,421.6 L1424.0,420.6 L1424.2,419.6 L1424.4,418.6 L1424.6,417.6 L1424.8,416.6 L1425.1,415.6 L1425.3,414.6 L1425.6,413.6 L1425.8,412.6 L1426.1,411.6 L1426.4,410.6 L1426.7,409.6 L1426.9,408.6 L1427.2,407.6 L1427.5,406.6 L1427.8,405.6 L1428.1,404.6 L1428.4,403.6 L1428.7,402.6 L1429.1,401.6 L1429.4,400.6 L1429.7,399.6 L1430.0,398.6 L1430.3,397.6 L1430.6,396.6 L1430.9,395.6 L1431.2,394.6 L1431.5,393.6 L1431.8,392.6 L1432.1,391.6 L1432.4,390.6 L1432.7,389.6 L1433.0,388.6 L1433.3,387.6 L1433.6,386.6 L1433.9,385.6 L1434.2,384.6 L1434.5,383.6 L1434.8,382.6 L1435.1,381.6 L1435.4,380.6 L1435.7,379.6 L1436.0,378.6 L1436.3,377.6 L1436.6,376.6 L1436.9,375.6 L1437.2,374.6 L1437.5,373.6 L1437.9,372.6 L1438.2,371.6 L1438.6,370.6 L1439.0,369.6 L1439.4,368.6 L1439.8,367.6 L1440.2,366.6 L1440.6,365.6 L1441.0,364.6 L1441.4,363.6 L1441.8,362.6 L1442.2,361.6 L1442.6,360.6 L1443.0,359.6 L1443.4,358.6 L1443.8,357.6 L1444.2,356.6 L1444.6,355.6 L1445.0,354.6 L1445.4,353.6 L1445.8,352.6 L1446.2,351.6 L1446.7,350.6 L1447.1,349.6 L1447.5,348.6 L1447.9,347.6 L1448.4,346.6 L1448.8,345.6 L1449.2,344.6 L1449.7,343.6 L1450.1,342.6 L1450.5,341.6 L1450.8,340.6 L1451.2,339.6 L1451.5,338.6 L1451.7,337.6 L1452.0,336.6 L1452.2,335.6 L1452.4,334.6 L1452.7,333.6 L1452.9,332.6 L1453.1,331.6 L1453.4,330.6 L1453.6,329.6 L1453.9,328.6 L1454.1,327.6 L1454.4,326.6 L1454.6,325.6 L1454.9,324.6 L1455.1,323.6 L1455.4,322.6 L1455.6,321.6 L1455.9,320.6 L1456.1,319.6 L1456.3,318.6 L1456.6,317.6 L1456.8,316.6 L1457.0,315.6 L1457.3,314.6 L1457.5,313.6 L1457.8,312.6 L1458.0,311.6 L1458.2,310.6 L1458.5,309.6 L1458.7,308.6 L1458.9,307.6 L1459.2,306.6 L1459.4,305.6 L1459.7,304.6 L1459.9,303.6 L1460.1,302.6 L1460.3,301.6 L1460.4,300.6 L1460.6,299.6 L1460.8,298.6 L1460.9,297.6 L1461.1,296.6 L1461.4,295.6Z" fill="#63b8ff" stroke="#0a1a3a" stroke-width="1.25" stroke-linejoin="round"/>
<line x1="1462.0" y1="329.4" x2="1462.0" y2="383.5" stroke="#000" stroke-width="2.7"/>
<line x1="1462.0" y1="446.4" x2="1462.0" y2="504.0" stroke="#000" stroke-width="2.7"/>
<line x1="1450.6" y1="329.4" x2="1473.4" y2="329.4" stroke="#000" stroke-width="2.7"/>
<line x1="1450.6" y1="504.0" x2="1473.4" y2="504.0" stroke="#000" stroke-width="2.7"/>
<rect x="1438.7" y="383.5" width="46.7" height="62.9" fill="#436eee" stroke="#000" stroke-width="2.7"/>
<line x1="1438.7" y1="425.1" x2="1485.4" y2="425.1" stroke="#000" stroke-width="3.2"/>
<rect x="186" y="137.8" width="1342.5" height="503.7" fill="none" stroke="#111" stroke-width="1.9"/>
<line x1="504.8" y1="137.8" x2="504.8" y2="641.5" stroke="#222" stroke-width="1.5"/>
<line x1="775.6" y1="137.8" x2="775.6" y2="641.5" stroke="#111" stroke-width="3.0"/>
<line x1="1137" y1="137.8" x2="1137" y2="641.5" stroke="#222" stroke-width="1.5"/>
<path d="M366.6,182 V167.4 H640.6 V182" fill="none" stroke="#222" stroke-width="1.6"/>
<path d="M548.5,241 V212 H726.2 V225.2" fill="none" stroke="#222" stroke-width="1.6"/>
<path d="M548.5,227.4 H637.2 V240.2" fill="none" stroke="#222" stroke-width="1.6"/>
<text transform="translate(290.2,692.0) rotate(-39.5)" font-family="Liberation Sans, Arial, sans-serif" font-style="italic" font-size="31.5" fill="#111" text-anchor="end">Anger</text>
<text transform="translate(377.2,693.6) rotate(-39.5)" font-family="Liberation Sans, Arial, sans-serif" font-style="italic" font-size="31.5" fill="#111" text-anchor="end">Fear</text>
<text transform="translate(469.1,687.8) rotate(-39.5)" font-family="Liberation Sans, Arial, sans-serif" font-style="italic" font-size="31.5" fill="#111" text-anchor="end">Happiness</text>
<text transform="translate(555.8,690.2) rotate(-39.5)" font-family="Liberation Sans, Arial, sans-serif" font-style="italic" font-size="31.5" fill="#111" text-anchor="end">Anger</text>
<text transform="translate(646.4,689.0) rotate(-39.5)" font-family="Liberation Sans, Arial, sans-serif" font-style="italic" font-size="31.5" fill="#111" text-anchor="end">Fear</text>
<text transform="translate(735.6,685.8) rotate(-39.5)" font-family="Liberation Sans, Arial, sans-serif" font-style="italic" font-size="31.5" fill="#111" text-anchor="end">Happiness</text>
<text transform="translate(827.7,688.6) rotate(-39.5)" font-family="Liberation Sans, Arial, sans-serif" font-style="italic" font-size="31.5" fill="#111" text-anchor="end">Anger</text>
<text transform="translate(922.3,686.0) rotate(-39.5)" font-family="Liberation Sans, Arial, sans-serif" font-style="italic" font-size="31.5" fill="#111" text-anchor="end">Fear</text>
<text transform="translate(1010.4,685.4) rotate(-39.5)" font-family="Liberation Sans, Arial, sans-serif" font-style="italic" font-size="31.5" fill="#111" text-anchor="end">Happiness</text>
<text transform="translate(1107.6,691.8) rotate(-39.5)" font-family="Liberation Sans, Arial, sans-serif" font-style="italic" font-size="31.5" fill="#111" text-anchor="end">Neutral</text>
<text transform="translate(1194.5,692.4) rotate(-39.5)" font-family="Liberation Sans, Arial, sans-serif" font-style="italic" font-size="31.5" fill="#111" text-anchor="end">Anger</text>
<text transform="translate(1291.0,688.0) rotate(-39.5)" font-family="Liberation Sans, Arial, sans-serif" font-style="italic" font-size="31.5" fill="#111" text-anchor="end">Fear</text>
<text transform="translate(1376.6,683.8) rotate(-39.5)" font-family="Liberation Sans, Arial, sans-serif" font-style="italic" font-size="31.5" fill="#111" text-anchor="end">Happiness</text>
<text transform="translate(1481.4,695.6) rotate(-39.5)" font-family="Liberation Sans, Arial, sans-serif" font-style="italic" font-size="31.5" fill="#111" text-anchor="end">Neutral</text>
</svg>
</body></html>
